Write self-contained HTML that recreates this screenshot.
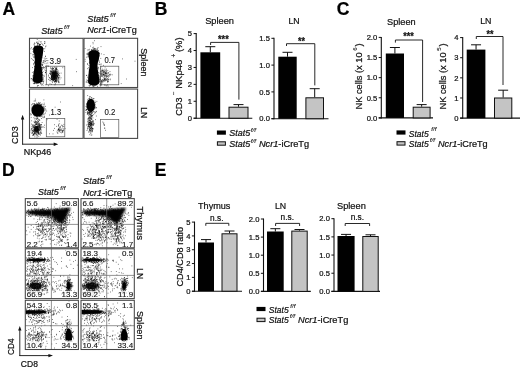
<!DOCTYPE html>
<html lang="en"><head><meta charset="utf-8"><title>Figure</title>
<style>html,body{margin:0;padding:0;background:#fff}body{width:520px;height:369px;overflow:hidden}svg{display:block}</style></head>
<body>
<svg width="520" height="369" viewBox="0 0 520 369">
<defs><filter id="b" x="-30%" y="-30%" width="160%" height="160%"><feGaussianBlur stdDeviation="0.55"/></filter><filter id="s" x="-10%" y="-10%" width="120%" height="120%"><feGaussianBlur stdDeviation="0.28"/></filter><filter id="b2" x="-30%" y="-30%" width="160%" height="160%"><feGaussianBlur stdDeviation="0.9"/></filter></defs>
<rect width="520" height="369" fill="#fff"/>
<g opacity="0.999">
<text x="2.4" y="15" font-size="17.5" font-family="Liberation Sans, sans-serif" fill="#000" stroke="#000" stroke-width="0.22" font-weight="bold">A</text>
<text x="154.8" y="15" font-size="17.5" font-family="Liberation Sans, sans-serif" fill="#000" stroke="#000" stroke-width="0.22" font-weight="bold">B</text>
<text x="336.8" y="15.1" font-size="17.5" font-family="Liberation Sans, sans-serif" fill="#000" stroke="#000" stroke-width="0.22" font-weight="bold">C</text>
<text x="2.1" y="176.4" font-size="17.5" font-family="Liberation Sans, sans-serif" fill="#000" stroke="#000" stroke-width="0.22" font-weight="bold">D</text>
<text x="154.8" y="176.4" font-size="17.5" font-family="Liberation Sans, sans-serif" fill="#000" stroke="#000" stroke-width="0.22" font-weight="bold">E</text>
<text x="41.2" y="34.2" font-size="9.1" font-family="Liberation Sans, sans-serif" fill="#111" stroke="#111" stroke-width="0.22" font-style="italic" textLength="21.3" lengthAdjust="spacingAndGlyphs">Stat5</text>
<text x="64.1" y="29.2" font-size="6.2" font-family="Liberation Sans, sans-serif" fill="#111" stroke="#111" stroke-width="0.1" font-style="italic">f/f</text>
<text x="87.3" y="21.6" font-size="9.1" font-family="Liberation Sans, sans-serif" fill="#111" stroke="#111" stroke-width="0.22" font-style="italic" textLength="21.3" lengthAdjust="spacingAndGlyphs">Stat5</text>
<text x="110.2" y="16.6" font-size="6.2" font-family="Liberation Sans, sans-serif" fill="#111" stroke="#111" stroke-width="0.1" font-style="italic">f/f</text>
<text x="87.3" y="32.8" font-size="9.1" font-family="Liberation Sans, sans-serif" fill="#111" stroke="#111" stroke-width="0.22" textLength="49.4" lengthAdjust="spacingAndGlyphs"><tspan font-style="italic">Ncr1</tspan>-iCreTg</text>
<g filter="url(#s)">
<g filter="url(#b)">
<path d="M33.2 49.5 C32.8 44 43.8 44 43.4 49.5 L42.6 56 C41 60.5 40.8 64.5 41.8 69 L42.8 79.5 C42.8 84.4 32.6 84.4 32.8 79.5 L34.2 69 C35.2 64 35.2 60 34.4 55 Z" fill="#000"/>
</g>
<ellipse cx="54.4" cy="75.6" rx="2.5" ry="4.2" fill="#000" filter="url(#b2)"/>
<path d="M37.4 69.6h0M37.5 60.5h0M35.9 61.7h0M40.6 68.7h0M40.4 66.7h0M38.9 66.0h0M34.2 73.4h0M39.2 69.5h0M34.1 44.8h0M36.0 58.8h0M38.7 63.5h0M39.2 56.9h0M38.7 68.3h0M36.5 82.9h0M39.3 77.2h0M36.6 55.9h0M37.2 62.8h0M39.5 66.7h0M37.0 53.5h0M36.8 77.4h0M36.1 66.7h0M39.0 47.6h0M38.1 78.4h0M33.4 60.5h0M37.8 55.0h0M39.1 63.3h0M34.6 73.1h0M39.5 74.4h0M41.3 68.0h0M38.3 49.7h0M39.4 57.3h0M37.0 50.1h0M35.8 58.2h0M41.0 41.7h0M34.6 66.6h0M41.3 70.4h0M38.8 55.9h0M35.4 74.8h0M40.5 65.7h0M38.6 68.8h0M41.7 70.8h0M39.2 70.0h0M34.4 78.1h0M40.2 69.8h0M33.5 57.0h0M39.9 44.1h0M37.6 75.2h0M35.0 81.7h0M39.3 62.3h0M38.7 71.1h0M38.3 76.6h0M36.5 59.4h0M40.4 64.3h0M36.0 74.4h0M41.4 59.1h0M34.8 62.5h0M37.7 60.7h0M41.2 52.7h0M40.9 50.0h0M36.2 70.9h0M40.6 73.4h0M38.8 65.6h0M38.4 70.3h0M37.6 67.1h0M39.3 64.0h0M39.8 70.2h0M42.6 67.6h0M37.0 59.9h0M38.0 74.2h0M37.2 68.2h0M35.4 66.7h0M38.9 66.6h0M37.0 71.2h0M38.6 58.3h0M43.6 67.9h0M36.7 62.9h0M37.5 63.3h0M31.7 58.6h0M40.3 51.1h0M37.8 74.5h0M40.0 80.4h0M34.1 60.1h0M37.2 70.9h0M40.5 48.1h0M39.6 47.6h0M38.4 77.1h0M37.7 66.1h0M39.8 65.6h0M37.8 80.9h0M40.4 60.8h0M44.3 51.4h0M40.1 61.1h0M38.3 71.8h0M38.5 71.0h0M34.5 47.4h0M39.4 53.4h0M35.6 47.8h0M40.9 72.2h0M41.4 53.7h0M38.0 51.5h0M39.8 81.5h0M36.0 81.2h0M40.3 62.0h0M33.5 79.5h0M37.8 57.4h0M38.9 68.5h0M41.4 52.8h0M40.6 80.4h0M41.3 62.0h0M36.3 75.2h0M38.3 65.4h0M41.3 61.1h0M32.7 59.7h0M33.7 73.0h0M38.7 57.3h0M38.0 73.2h0M38.2 78.6h0M37.9 75.4h0M41.4 81.7h0M36.5 73.7h0M33.7 52.1h0M33.5 75.8h0M35.2 63.9h0M37.6 63.7h0M36.6 66.6h0M42.1 64.5h0M39.2 75.0h0M37.5 50.1h0M36.7 75.8h0M34.2 57.4h0M40.3 72.7h0M38.0 72.9h0M38.4 51.0h0M34.4 57.0h0M40.1 57.8h0M35.9 55.5h0M34.5 62.7h0M35.3 68.0h0M32.6 67.6h0M36.5 42.6h0M39.7 61.0h0M32.9 54.4h0M38.7 59.0h0M39.8 72.2h0M39.5 67.6h0M41.1 71.3h0M39.0 41.1h0M40.1 78.4h0M37.3 58.8h0M42.5 44.7h0M35.9 71.6h0M42.3 62.7h0M39.3 73.9h0M35.9 63.0h0M38.7 73.1h0M37.9 61.9h0M35.7 60.1h0M40.1 65.1h0M36.0 54.7h0M44.1 76.5h0M39.4 69.3h0M41.9 68.7h0M37.8 69.7h0M33.5 75.4h0M38.7 56.3h0M41.0 83.9h0M34.8 56.7h0M38.7 66.0h0M37.1 53.3h0M42.9 75.4h0M35.3 49.2h0M41.9 74.9h0M42.2 72.9h0M36.0 66.9h0M33.0 55.8h0M37.9 69.8h0M36.3 62.6h0M39.1 68.1h0M39.5 66.3h0M37.3 72.7h0M38.1 54.9h0M36.6 64.0h0M37.7 65.7h0M38.0 65.9h0M37.7 50.2h0M39.0 75.6h0M39.0 61.9h0M39.0 53.4h0M33.6 64.7h0M35.9 72.1h0M35.6 81.4h0M37.1 48.9h0M36.2 69.7h0M39.1 65.9h0M41.4 71.8h0M38.0 70.6h0M41.8 74.7h0M40.4 52.1h0M37.7 72.0h0M37.3 75.8h0M39.4 74.0h0M40.9 61.6h0M37.2 73.6h0M40.3 64.1h0M35.3 66.1h0M38.8 76.4h0M39.8 64.3h0M40.0 69.9h0M38.5 64.6h0M37.4 71.5h0M35.6 57.1h0M38.0 47.9h0M37.0 41.9h0M36.4 70.3h0M39.3 63.4h0M37.5 48.4h0M42.2 69.7h0M40.5 54.3h0M37.6 44.0h0M39.8 74.3h0M33.6 63.4h0M39.4 44.6h0M33.8 52.3h0M36.6 48.6h0M38.1 66.7h0M39.5 71.7h0M41.5 76.8h0M35.0 58.4h0M35.6 52.2h0M37.8 64.1h0M39.1 46.5h0M35.2 63.7h0M37.5 60.6h0M37.9 55.6h0M39.6 67.9h0M37.8 56.6h0M35.7 64.4h0M34.5 66.2h0M38.3 48.8h0M37.4 60.5h0M39.1 70.7h0M37.9 54.6h0M37.7 63.3h0M39.7 67.2h0M36.3 49.1h0M37.1 55.9h0M35.4 62.7h0M36.9 65.2h0M39.2 59.5h0M43.3 60.5h0M40.5 65.3h0M36.3 66.7h0M38.7 78.1h0M39.8 74.4h0M39.2 62.3h0M39.2 52.1h0M40.7 52.8h0M37.5 64.2h0M40.7 64.3h0M36.1 66.8h0M39.3 71.8h0M36.2 83.3h0M41.8 64.2h0M38.6 59.3h0M41.3 56.2h0M39.6 58.7h0M36.4 71.9h0M41.1 63.9h0M36.4 72.9h0M37.9 67.4h0M41.5 76.4h0M38.0 72.6h0M36.5 63.5h0M34.0 83.7h0M41.1 50.6h0M34.5 46.2h0M40.7 58.9h0M37.9 60.6h0M37.7 52.0h0M38.1 48.2h0M37.8 67.4h0M39.1 61.5h0M35.9 65.8h0M36.9 81.2h0M39.8 62.7h0M36.9 56.3h0M35.8 60.1h0M38.7 69.7h0M36.4 64.1h0M44.4 43.5h0M36.8 65.9h0M38.4 68.5h0M37.5 68.0h0M38.1 72.5h0M33.6 54.3h0M38.0 52.6h0M35.6 70.9h0M36.5 71.0h0M39.7 67.4h0M39.2 62.8h0M34.8 63.7h0M39.0 58.2h0M37.8 72.2h0M36.0 71.0h0M42.3 57.9h0M38.3 62.3h0M41.5 67.5h0M40.1 56.4h0M38.0 63.9h0M33.9 79.8h0M40.1 44.8h0M39.7 62.6h0M39.0 68.0h0M34.6 61.7h0M41.4 57.7h0M35.6 49.0h0M35.2 67.7h0M41.9 68.7h0M36.8 56.6h0M39.2 70.0h0M35.7 51.1h0M38.7 66.7h0M35.0 61.8h0M36.8 69.1h0M37.7 63.1h0M37.2 75.6h0M41.2 60.0h0M39.9 55.7h0M38.2 72.2h0M41.5 59.8h0M38.1 49.0h0M33.8 48.5h0M36.3 49.5h0M34.9 43.4h0M38.4 49.2h0M36.7 50.8h0M37.5 46.9h0M39.7 44.4h0M36.3 48.4h0M40.8 48.1h0M39.2 46.8h0M39.2 52.8h0M36.2 54.7h0M36.4 48.5h0M38.8 51.2h0M34.6 43.0h0M40.1 50.6h0M40.2 55.3h0M38.9 49.2h0M41.1 49.5h0M43.3 45.3h0M37.2 39.5h0M40.7 47.5h0M41.1 54.1h0M38.3 47.8h0M36.8 46.3h0M36.4 50.2h0M38.4 48.7h0M37.8 50.9h0M39.8 48.1h0M40.3 48.1h0M34.8 52.3h0M39.7 46.0h0M41.5 49.4h0M33.6 52.7h0M39.3 50.8h0M38.9 48.1h0M33.7 51.0h0M38.4 47.8h0M39.4 48.7h0M40.3 47.5h0M38.2 42.9h0M37.0 50.3h0M42.3 47.6h0M37.9 52.6h0M37.3 50.4h0M43.3 48.6h0M42.0 46.7h0M38.9 48.3h0M38.6 51.4h0M45.5 46.8h0M36.6 49.8h0M35.1 49.8h0M40.0 47.8h0M39.9 44.5h0M40.6 44.5h0M36.2 47.1h0M37.1 50.7h0M38.5 47.5h0M39.9 52.6h0M38.3 49.5h0M42.0 49.2h0M34.4 55.0h0M44.9 43.3h0M38.2 49.6h0M41.2 50.2h0M37.5 45.8h0M38.6 51.2h0M35.0 45.8h0M38.2 43.5h0M37.5 47.4h0M39.7 46.7h0M35.7 47.5h0M38.2 46.8h0M38.3 50.5h0M41.9 52.9h0M35.9 47.4h0M30.9 53.4h0M36.1 48.4h0M39.9 45.0h0M39.7 48.4h0M32.8 49.3h0M41.9 43.6h0M40.7 49.0h0M39.7 49.6h0M42.2 47.9h0M40.9 47.4h0M40.5 46.4h0M38.0 53.0h0M39.6 48.1h0M34.9 46.4h0M38.9 50.9h0M39.6 49.9h0M38.2 52.0h0M37.1 47.1h0M41.0 48.7h0M37.5 47.0h0M37.5 50.1h0M39.4 45.4h0M39.6 49.0h0M35.3 50.5h0M37.5 47.6h0M40.7 51.9h0M36.2 49.6h0M35.7 54.5h0M36.8 51.6h0M36.4 50.6h0M45.0 41.9h0M37.0 49.8h0M38.0 46.8h0M44.8 48.7h0M33.4 50.7h0M33.1 51.5h0M36.6 48.9h0M42.1 48.8h0M34.1 44.1h0M41.8 50.4h0M35.9 50.7h0M39.8 50.2h0M31.5 47.7h0M41.0 50.4h0M40.9 42.1h0M38.8 49.8h0M46.0 46.0h0M37.3 48.6h0M41.0 47.3h0M41.7 46.5h0M39.1 47.1h0M38.8 46.7h0M33.5 51.3h0M39.2 47.0h0M38.9 51.1h0M35.4 48.2h0M39.9 49.9h0M37.3 43.0h0M42.0 49.4h0M38.3 47.8h0M39.1 47.4h0M35.2 46.6h0M36.5 46.9h0M34.8 50.2h0M34.4 50.2h0M35.3 49.4h0M42.4 49.0h0M36.1 48.6h0M38.7 44.0h0M36.5 48.9h0M36.9 48.7h0M40.5 50.5h0M41.0 50.0h0M37.4 48.5h0M37.5 47.7h0M37.8 44.0h0M37.3 48.4h0M35.4 48.4h0M39.8 48.1h0M44.5 41.7h0M37.7 43.8h0M41.2 55.4h0M30.8 48.8h0M39.4 78.1h0M39.5 72.3h0M40.4 80.1h0M37.9 77.2h0M39.7 77.5h0M38.5 77.5h0M31.1 78.9h0M38.4 81.3h0M35.2 78.9h0M39.7 79.4h0M41.5 85.0h0M35.1 73.2h0M40.4 83.6h0M40.6 81.4h0M35.9 76.9h0M40.5 76.3h0M32.4 76.0h0M45.3 84.8h0M35.7 76.8h0M38.5 76.8h0M41.7 78.8h0M34.5 82.9h0M36.1 79.7h0M37.8 78.1h0M38.8 76.9h0M32.3 72.4h0M34.0 76.7h0M37.7 79.2h0M39.5 79.4h0M35.4 76.9h0M31.4 78.5h0M39.3 80.6h0M37.4 78.5h0M40.6 79.0h0M40.0 80.7h0M38.4 82.9h0M36.1 77.9h0M35.4 76.6h0M42.5 84.3h0M37.9 80.7h0M41.3 81.4h0M41.4 75.2h0M35.9 80.4h0M42.1 79.3h0M35.2 77.9h0M35.8 76.4h0M42.3 77.1h0M37.9 85.5h0M41.4 80.0h0M36.0 80.2h0M42.7 80.9h0M41.6 79.3h0M39.3 78.4h0M39.1 82.9h0M33.5 78.8h0M38.5 77.3h0M36.9 81.4h0M43.8 80.9h0M38.8 74.3h0M43.6 79.2h0M37.7 75.6h0M37.6 75.7h0M38.0 80.4h0M37.9 79.8h0M35.2 83.3h0M35.8 73.5h0M37.2 76.7h0M34.8 77.9h0M38.7 75.5h0M37.4 83.3h0M39.8 78.5h0M38.2 78.6h0M37.7 81.2h0M37.5 71.8h0M37.7 76.3h0M39.8 77.2h0M38.2 85.5h0M34.7 75.6h0M33.6 71.8h0M32.2 80.1h0M35.9 73.4h0M33.4 80.9h0M35.5 77.9h0M38.8 83.1h0M43.6 82.1h0M38.2 79.6h0M43.2 83.3h0M36.9 80.4h0M38.7 79.2h0M36.3 75.0h0M36.2 74.4h0M41.5 80.6h0M34.2 83.2h0M40.5 73.3h0M43.3 81.4h0M44.0 75.3h0M39.4 80.3h0M38.4 79.5h0M41.0 74.5h0M34.1 74.8h0M36.1 77.2h0M38.9 79.8h0M37.9 77.0h0M36.5 81.9h0M40.1 79.3h0M36.8 83.7h0M36.0 80.9h0M41.3 78.2h0M40.3 75.7h0M40.8 79.6h0M33.0 81.0h0M35.1 82.8h0M35.8 78.5h0M38.6 78.0h0M38.6 77.3h0M39.8 79.0h0M38.4 70.7h0M41.3 79.1h0M32.5 79.3h0M39.2 82.2h0M34.6 83.6h0M37.3 86.2h0M37.4 81.0h0M36.7 75.7h0M41.1 81.7h0M42.4 81.6h0M36.1 74.0h0M35.8 77.0h0M35.4 80.7h0M38.8 78.2h0M38.3 78.6h0M38.4 81.3h0M40.7 76.9h0M33.3 83.3h0M38.1 82.3h0M32.9 78.0h0M37.9 74.7h0M36.3 81.2h0M41.0 83.8h0M35.2 74.8h0M55.5 78.9h0M54.8 70.8h0M56.1 78.4h0M55.6 73.7h0M55.1 78.3h0M53.2 68.9h0M55.1 77.2h0M54.4 78.7h0M53.1 75.2h0M53.7 77.6h0M57.9 74.6h0M58.9 81.0h0M56.1 77.6h0M58.3 74.9h0M54.2 71.7h0M55.4 80.3h0M55.6 77.0h0M54.0 76.1h0M51.3 79.3h0M53.5 71.5h0M52.7 72.5h0M56.3 79.3h0M51.4 78.8h0M56.4 73.4h0M51.1 72.8h0M53.0 76.7h0M53.6 68.2h0M54.9 70.0h0M56.4 71.2h0M52.9 72.4h0M53.2 80.2h0M56.3 77.7h0M55.1 69.9h0M53.3 73.5h0M52.2 77.3h0M52.8 72.9h0M52.1 68.1h0M55.7 80.3h0M54.8 72.0h0M48.4 76.1h0M57.1 76.6h0M56.4 80.8h0M56.9 73.9h0M56.7 78.3h0M51.0 74.0h0M51.3 75.1h0M55.7 71.7h0M49.9 80.2h0M55.2 80.8h0M51.5 79.3h0M59.0 82.7h0M53.9 76.5h0M54.1 79.1h0M56.7 75.8h0M51.4 78.2h0M53.4 77.8h0M55.0 81.3h0M56.9 73.9h0M55.2 81.9h0M53.2 77.1h0M57.0 80.0h0M55.5 70.7h0M51.6 76.4h0M55.3 84.7h0M52.5 79.6h0M56.1 69.5h0M52.6 76.1h0M53.3 74.9h0M55.4 72.6h0M55.4 73.2h0M53.2 77.4h0M53.1 76.5h0M57.9 75.6h0M54.1 78.1h0M53.6 79.4h0M51.6 77.7h0M53.3 72.6h0M58.3 72.4h0M58.3 77.9h0M57.6 72.0h0M57.0 80.7h0M54.1 75.0h0M59.8 76.1h0M53.5 73.2h0M55.4 76.7h0M54.8 81.7h0M53.7 77.2h0M57.6 71.9h0M56.7 82.1h0M51.4 71.5h0M52.1 68.9h0M55.4 68.8h0M55.5 80.7h0M50.8 74.4h0M50.2 78.3h0M52.8 74.5h0M54.5 77.5h0M53.6 75.6h0M53.2 75.9h0M51.8 75.7h0M50.1 73.7h0M58.6 75.8h0M51.6 76.4h0M52.3 69.6h0M52.8 78.2h0M55.2 75.2h0M52.4 71.6h0M57.4 76.4h0M52.3 67.9h0M51.4 84.4h0M51.9 75.2h0M54.9 74.9h0M53.8 70.6h0M52.1 81.6h0M52.7 78.5h0M50.7 74.5h0M55.0 79.2h0M51.9 77.6h0M55.2 72.8h0M55.4 72.3h0M52.6 75.4h0M48.4 75.1h0M52.2 70.2h0M53.5 78.2h0M53.5 80.1h0M51.8 70.8h0M57.8 76.9h0M56.5 72.5h0M56.2 76.4h0M55.8 75.6h0M57.1 73.2h0M52.3 70.2h0M57.0 72.8h0M52.1 72.1h0M53.4 70.9h0M53.8 73.2h0M53.2 72.0h0M54.5 73.8h0M54.7 76.4h0M55.1 67.6h0M53.2 72.6h0M56.1 69.8h0M52.8 74.4h0M53.7 79.1h0M53.4 79.0h0M51.2 69.0h0M57.1 77.1h0M55.5 75.9h0M55.5 71.1h0M56.5 73.6h0M56.6 75.8h0M50.1 70.9h0M56.9 75.0h0M53.5 76.4h0M53.5 73.5h0M54.6 76.0h0M57.7 75.7h0M58.5 82.0h0M58.2 79.3h0M54.7 76.0h0M54.1 72.9h0M54.3 73.2h0M58.0 77.4h0M53.4 68.6h0M54.3 74.0h0M52.0 71.4h0M49.4 77.5h0M54.3 84.8h0M54.3 75.0h0M57.6 76.0h0M54.8 74.2h0M53.1 80.9h0M56.6 81.7h0M53.6 75.6h0M52.5 79.0h0M51.3 77.5h0M56.8 80.6h0M52.3 79.4h0M52.8 72.8h0M51.5 79.7h0M58.0 73.4h0M52.7 74.3h0M59.9 79.1h0M53.2 69.0h0M52.9 79.8h0M58.5 74.5h0M52.9 73.7h0M50.3 78.8h0M52.0 79.3h0M50.6 70.9h0M55.0 72.8h0M56.1 75.5h0M51.8 77.7h0M56.3 68.6h0M58.4 77.3h0M56.1 68.8h0M52.8 74.2h0M56.8 70.2h0M52.5 68.2h0M53.9 76.7h0M50.7 73.4h0M55.5 81.2h0M55.9 74.4h0M51.8 72.1h0M52.9 76.0h0M54.3 81.5h0M55.0 71.6h0M57.8 78.9h0M54.6 72.9h0M50.3 71.8h0M56.4 72.6h0M51.5 76.2h0M54.9 77.7h0M55.8 80.6h0M52.6 79.0h0M52.2 78.0h0M54.8 76.4h0M56.5 75.4h0M56.8 78.7h0M54.7 73.5h0M52.7 73.6h0M54.0 75.4h0M61.0 77.8h0M56.1 72.4h0M52.8 74.4h0M54.8 71.8h0M57.9 73.5h0M56.8 67.1h0M54.4 76.5h0M54.8 77.7h0M55.0 76.1h0M50.2 72.9h0M49.2 77.8h0M55.1 74.8h0M52.6 73.4h0M58.5 81.7h0M54.3 80.1h0M50.9 68.5h0M53.3 72.4h0M53.2 76.2h0M61.1 73.1h0M54.5 76.5h0M54.3 78.9h0M58.3 71.0h0M54.8 74.5h0M55.2 70.0h0M50.5 67.2h0M55.6 76.2h0M54.6 67.0h0M53.6 72.8h0M51.3 72.2h0M55.9 77.5h0M54.4 77.4h0M53.1 75.8h0M54.5 77.5h0M54.2 75.0h0M54.1 73.2h0M59.3 77.4h0M55.3 83.7h0M57.5 69.9h0M55.9 78.5h0M58.5 80.2h0M56.1 71.3h0M52.5 76.5h0M55.5 71.8h0M53.6 74.1h0M54.5 76.7h0M53.8 71.0h0M57.1 81.2h0M54.2 79.2h0M55.4 77.9h0M55.5 72.8h0M55.7 79.1h0M52.4 82.6h0M59.0 82.1h0M58.8 78.2h0M53.7 73.3h0M52.6 75.9h0M54.3 77.9h0M50.0 83.8h0M59.4 75.4h0M55.9 77.2h0M55.0 74.7h0M54.1 72.5h0M54.8 75.4h0M55.1 72.4h0M54.5 75.7h0M55.7 71.7h0M55.3 79.0h0M55.7 74.2h0M53.3 74.6h0M56.0 81.1h0M54.1 73.2h0M55.2 76.2h0M52.4 72.8h0M54.2 77.9h0M51.8 71.8h0M55.5 71.1h0M54.6 76.8h0M54.2 71.8h0M54.3 74.3h0M55.1 72.5h0M56.8 69.5h0M54.0 75.5h0M56.5 73.3h0M55.6 73.5h0M56.0 81.8h0M53.5 77.1h0M52.4 79.0h0M57.1 75.6h0M51.9 76.9h0M56.9 79.4h0M56.2 68.9h0M52.9 80.6h0M51.7 79.6h0M58.5 78.2h0M56.9 74.3h0M51.7 75.1h0M54.0 75.3h0M55.9 75.0h0M54.8 77.0h0M54.4 82.1h0M55.4 75.8h0M53.9 73.2h0M57.4 76.0h0M52.0 73.5h0M54.1 73.9h0M56.8 71.3h0M55.5 76.0h0M51.8 75.7h0M54.2 77.3h0M53.4 76.6h0M50.7 71.6h0M56.1 79.2h0M54.4 73.3h0M56.8 68.0h0M52.6 77.9h0M55.8 71.8h0M50.2 80.7h0M54.7 72.3h0M54.5 78.7h0M48.7 79.5h0M56.0 68.0h0M56.1 69.1h0M56.9 76.9h0M59.4 73.3h0M54.4 79.3h0M53.0 73.0h0M53.6 75.2h0M52.0 77.2h0M55.6 75.8h0M58.1 74.3h0M57.3 73.5h0M56.1 68.5h0M54.8 74.9h0M53.3 73.3h0M53.6 72.9h0M49.6 73.4h0M53.2 73.6h0M52.1 75.0h0M56.1 74.6h0M53.3 80.4h0M56.5 78.8h0M56.9 74.3h0M54.1 79.5h0M53.2 75.1h0M55.2 76.8h0M53.8 79.0h0M54.0 78.1h0M56.8 77.9h0M56.0 71.3h0M51.5 73.3h0M55.4 80.9h0M51.7 76.6h0M52.5 72.9h0M53.8 78.0h0M54.9 79.7h0M52.2 78.7h0M56.4 75.8h0M55.4 73.5h0M42.1 65.6h0M43.1 85.3h0M43.4 77.9h0M44.9 69.9h0M46.1 63.3h0M46.5 70.3h0M41.2 71.6h0M45.7 70.7h0M48.0 65.5h0M45.6 72.5h0M42.5 75.2h0M41.3 60.2h0M45.6 61.5h0M44.2 58.1h0M44.7 61.2h0M45.3 58.8h0M45.5 66.4h0M44.6 67.6h0M44.8 60.1h0M38.9 68.2h0M42.4 65.3h0M45.4 56.1h0M42.8 64.3h0M42.2 70.0h0M44.2 63.1h0M42.3 72.8h0M43.0 71.5h0M45.5 56.6h0M42.1 68.0h0M45.3 72.7h0M46.3 74.2h0M43.7 66.7h0M46.2 65.4h0M46.8 58.5h0M45.9 67.0h0M40.2 73.9h0M45.2 68.1h0M42.1 65.2h0M47.8 63.0h0M36.9 62.9h0M41.9 67.2h0M43.6 62.5h0M42.6 74.3h0M41.3 79.7h0M43.3 61.4h0M46.2 71.4h0M42.2 72.5h0M40.5 62.5h0M47.0 66.5h0M41.6 71.1h0M46.5 67.9h0M40.5 65.9h0M45.4 72.6h0M48.6 66.5h0M43.4 67.8h0M76.5 71.7h0M72.7 85.6h0M76.2 59.4h0M38.1 53.3h0M56.6 63.2h0M39.8 48.4h0M62.8 67.7h0M48.4 85.7h0" stroke="#000" stroke-width="0.62" stroke-linecap="round" fill="none" opacity="1"/>
</g>
<rect x="46.3" y="66.2" width="18.5" height="18.6" fill="none" stroke="#555" stroke-width="0.7"/>
<text x="49.6" y="63.6" font-size="8.5" font-family="Liberation Sans, sans-serif" fill="#111" stroke="#111" stroke-width="0.1" textLength="11.4" lengthAdjust="spacingAndGlyphs">3.9</text>
<line x1="45.6" y1="60.6" x2="48.4" y2="60.6" stroke="#444" stroke-width="0.6"/>
<g filter="url(#s)">
<g filter="url(#b)">
<path d="M88.3 54.5 C88 48.8 100 48.8 99.6 54.5 L98.6 60.5 C97 64 97 67 98 71 L99.6 81.5 C99.6 86.8 88 86.8 88 81.5 L88.8 71 C89.8 67 89.8 63 89 59 Z" fill="#000"/>
</g>
<path d="M93.1 65.8h0M89.9 77.3h0M92.3 82.4h0M95.7 68.2h0M95.4 56.9h0M92.8 62.2h0M90.4 68.2h0M93.2 82.4h0M85.2 61.3h0M91.3 63.4h0M94.7 72.0h0M93.7 63.3h0M94.8 71.6h0M89.0 65.4h0M90.2 56.2h0M94.0 68.6h0M93.9 59.2h0M93.1 58.9h0M94.6 74.9h0M98.0 80.7h0M91.6 63.4h0M91.3 71.1h0M98.6 75.1h0M88.1 55.4h0M90.4 73.2h0M93.6 71.0h0M98.1 59.7h0M94.5 60.2h0M88.5 52.8h0M87.5 68.7h0M93.7 77.9h0M93.3 61.1h0M89.2 69.7h0M93.7 74.2h0M92.6 73.0h0M95.6 66.5h0M92.5 66.1h0M91.2 65.9h0M92.8 70.1h0M96.9 81.1h0M92.5 74.0h0M94.3 75.6h0M93.7 70.7h0M92.4 60.2h0M95.8 81.0h0M95.3 72.4h0M94.3 63.5h0M89.1 74.6h0M94.1 62.5h0M91.2 80.8h0M89.1 85.6h0M91.8 67.8h0M92.3 69.6h0M93.1 60.5h0M96.3 60.2h0M92.3 73.5h0M92.3 63.7h0M94.5 64.3h0M90.5 67.0h0M93.1 85.0h0M90.9 77.7h0M91.6 64.4h0M92.8 70.7h0M95.8 85.5h0M92.0 81.3h0M96.1 76.1h0M91.7 77.0h0M93.3 71.5h0M92.9 74.6h0M96.4 79.3h0M93.1 78.0h0M97.2 58.6h0M97.3 54.6h0M95.0 73.9h0M97.3 70.8h0M92.4 60.0h0M90.5 75.7h0M93.0 60.8h0M94.9 60.4h0M92.5 63.4h0M97.7 82.6h0M93.2 52.3h0M94.3 68.7h0M94.5 73.7h0M92.8 77.3h0M95.7 70.1h0M92.6 63.2h0M95.3 57.0h0M93.2 60.5h0M90.1 74.0h0M93.5 68.4h0M95.8 53.1h0M93.4 70.9h0M95.7 57.2h0M95.4 70.2h0M97.0 79.4h0M93.6 63.8h0M92.7 58.6h0M93.5 49.2h0M93.4 72.3h0M96.1 64.5h0M97.1 61.5h0M93.3 49.2h0M91.7 60.1h0M97.2 73.2h0M90.9 73.2h0M94.8 65.7h0M93.7 65.0h0M92.3 50.7h0M93.4 80.5h0M97.1 65.3h0M91.8 65.9h0M95.8 71.4h0M92.2 71.5h0M93.1 73.0h0M92.6 53.6h0M93.7 75.4h0M90.9 67.0h0M95.7 64.3h0M95.6 78.0h0M91.3 83.9h0M89.6 63.0h0M95.4 81.0h0M91.3 61.5h0M94.1 49.2h0M95.2 73.4h0M92.5 73.2h0M95.5 71.0h0M94.9 82.7h0M92.4 69.6h0M92.3 78.0h0M92.6 72.6h0M93.9 68.6h0M97.8 67.2h0M97.0 76.0h0M96.8 66.4h0M95.8 75.3h0M92.1 70.6h0M93.3 67.7h0M96.7 61.0h0M89.5 51.2h0M92.5 61.8h0M93.6 73.5h0M97.8 71.0h0M94.7 60.9h0M95.0 81.1h0M96.8 49.2h0M95.7 83.3h0M95.6 53.6h0M92.9 73.7h0M94.6 60.2h0M91.5 77.3h0M90.4 81.8h0M93.6 70.9h0M90.4 62.3h0M95.3 53.8h0M98.6 54.5h0M90.7 68.4h0M94.8 75.1h0M92.7 66.0h0M93.0 62.5h0M87.4 77.2h0M94.2 69.5h0M92.1 70.4h0M93.6 67.3h0M96.3 51.5h0M94.2 57.8h0M92.8 82.4h0M91.0 67.0h0M92.2 77.1h0M91.2 51.8h0M94.8 64.6h0M92.8 78.4h0M91.5 64.4h0M94.0 72.0h0M92.4 77.9h0M99.0 64.1h0M98.1 47.7h0M97.0 64.7h0M93.9 64.7h0M92.1 55.7h0M92.7 80.4h0M96.3 64.7h0M92.3 61.3h0M90.7 85.3h0M95.2 69.1h0M92.4 58.2h0M96.8 75.5h0M91.3 77.5h0M90.9 74.2h0M91.3 64.0h0M94.8 72.2h0M96.0 60.0h0M97.4 80.9h0M93.6 72.5h0M91.7 66.5h0M90.4 68.9h0M94.1 80.9h0M95.9 75.8h0M92.7 65.8h0M92.8 70.1h0M89.0 75.4h0M89.8 63.1h0M93.7 63.1h0M97.6 67.1h0M97.4 79.3h0M92.4 71.8h0M96.7 64.8h0M93.8 62.6h0M93.7 64.6h0M93.8 77.6h0M96.9 69.3h0M94.1 76.2h0M92.9 57.8h0M96.3 59.0h0M95.8 58.7h0M98.0 58.0h0M95.6 82.4h0M91.3 82.3h0M91.6 51.1h0M95.3 74.7h0M93.1 43.8h0M93.5 65.1h0M92.7 65.2h0M89.3 62.6h0M97.9 82.8h0M92.7 61.2h0M94.6 78.2h0M95.3 56.8h0M94.0 69.3h0M97.1 79.5h0M94.9 79.7h0M92.7 82.8h0M92.6 71.8h0M95.8 59.2h0M91.9 51.1h0M94.0 67.5h0M92.8 72.8h0M88.5 67.8h0M93.8 65.4h0M95.5 84.8h0M92.5 59.0h0M92.1 68.9h0M95.0 59.7h0M96.0 58.2h0M95.6 72.1h0M93.0 66.4h0M94.7 76.3h0M90.4 70.6h0M91.8 74.1h0M96.9 68.5h0M93.3 69.8h0M86.5 75.4h0M94.9 69.6h0M92.6 61.0h0M93.2 79.6h0M93.4 80.9h0M87.4 63.6h0M94.3 67.9h0M89.6 61.6h0M96.6 55.6h0M91.2 57.5h0M92.3 74.2h0M95.0 48.5h0M97.1 62.3h0M92.2 84.0h0M93.4 56.1h0M92.1 61.0h0M91.2 64.8h0M95.7 71.4h0M91.2 69.1h0M93.7 75.3h0M92.8 72.4h0M98.7 68.9h0M91.0 71.2h0M91.7 64.4h0M94.1 71.2h0M92.9 76.1h0M93.1 55.5h0M95.7 64.5h0M96.5 61.7h0M95.0 71.0h0M87.1 53.7h0M90.9 81.5h0M89.1 76.8h0M96.2 72.8h0M95.2 63.2h0M93.6 70.2h0M94.6 74.8h0M93.1 61.3h0M92.3 71.9h0M89.6 56.0h0M92.6 62.7h0M93.0 42.4h0M92.8 65.6h0M95.5 49.0h0M92.9 72.6h0M94.8 79.5h0M96.1 57.9h0M95.1 64.8h0M91.7 82.7h0M92.1 59.8h0M92.6 59.8h0M96.0 71.7h0M97.0 72.0h0M92.1 78.1h0M92.0 63.6h0M93.2 68.4h0M96.5 62.2h0M94.4 67.7h0M90.6 57.5h0M93.1 71.9h0M94.4 72.6h0M93.7 63.7h0M94.6 58.3h0M90.4 64.8h0M90.2 63.0h0M91.8 62.7h0M93.5 60.3h0M92.6 51.5h0M93.9 59.5h0M94.6 40.7h0M91.7 70.3h0M87.7 64.5h0M93.8 69.0h0M90.0 70.2h0M94.0 58.6h0M95.4 67.5h0M93.6 63.7h0M94.9 68.9h0M97.6 54.7h0M92.0 52.9h0M96.9 52.5h0M95.2 54.9h0M93.4 47.2h0M94.4 54.1h0M94.4 51.4h0M97.9 53.1h0M92.0 51.6h0M95.1 50.5h0M90.8 58.9h0M98.2 56.4h0M98.4 55.1h0M88.6 56.7h0M98.0 54.8h0M87.8 56.9h0M98.4 52.2h0M94.4 55.6h0M93.7 56.5h0M94.3 55.4h0M94.3 49.5h0M90.8 62.1h0M94.9 57.1h0M97.6 58.2h0M95.8 51.9h0M94.1 48.3h0M93.4 56.0h0M87.1 54.0h0M96.6 57.1h0M91.0 51.7h0M88.0 50.7h0M95.7 59.1h0M90.3 57.2h0M95.4 52.2h0M101.0 46.6h0M93.8 54.1h0M100.8 58.4h0M101.3 53.9h0M97.1 57.2h0M95.6 54.5h0M93.4 52.4h0M90.1 58.8h0M92.6 47.8h0M94.8 53.4h0M94.6 58.4h0M93.7 52.8h0M91.6 53.4h0M92.6 54.1h0M104.0 54.6h0M91.3 58.8h0M96.8 55.7h0M96.3 55.7h0M96.2 57.3h0M97.2 57.2h0M92.4 53.5h0M91.7 56.1h0M96.7 52.2h0M95.9 60.7h0M98.0 50.5h0M93.7 55.2h0M93.9 54.6h0M97.8 54.4h0M90.5 55.4h0M93.7 53.8h0M92.2 49.7h0M90.0 52.5h0M90.6 46.1h0M97.7 50.3h0M91.7 54.9h0M86.3 57.2h0M91.5 55.3h0M92.5 54.3h0M94.3 53.5h0M88.1 49.5h0M93.9 57.3h0M92.2 55.0h0M94.5 54.8h0M97.2 49.4h0M94.9 53.0h0M93.0 51.2h0M91.5 50.7h0M90.5 60.3h0M99.5 53.5h0M96.4 50.8h0M85.1 48.5h0M94.5 57.4h0M93.9 50.8h0M93.2 50.8h0M89.5 52.9h0M92.7 51.3h0M91.2 51.0h0M94.8 57.3h0M93.3 59.6h0M88.8 54.2h0M90.3 53.1h0M94.3 55.0h0M97.6 52.0h0M90.0 53.0h0M94.9 51.6h0M96.9 58.1h0M89.4 54.5h0M97.3 48.3h0M94.7 52.9h0M89.4 57.1h0M94.7 52.2h0M95.4 55.3h0M96.5 55.1h0M95.3 50.3h0M92.6 53.9h0M85.1 59.3h0M92.8 50.6h0M88.1 54.2h0M94.1 51.9h0M92.7 51.1h0M91.6 53.2h0M91.9 55.4h0M93.5 53.9h0M95.3 57.0h0M95.9 54.1h0M93.5 51.3h0M92.9 55.4h0M94.7 52.4h0M89.7 49.3h0M95.0 56.3h0M95.2 49.8h0M93.3 54.1h0M91.0 54.4h0M93.4 51.2h0M90.0 55.7h0M95.1 51.1h0M90.7 55.9h0M95.9 52.7h0M99.1 52.7h0M90.6 56.5h0M93.4 54.4h0M94.1 50.8h0M90.2 53.0h0M98.5 50.8h0M98.4 54.1h0M90.4 54.2h0M95.8 51.0h0M87.2 54.5h0M90.4 54.7h0M87.9 53.1h0M91.4 49.5h0M93.2 54.0h0M92.2 50.3h0M94.7 48.7h0M95.7 54.8h0M99.4 55.9h0M94.9 80.8h0M93.9 76.1h0M98.5 81.5h0M92.9 76.7h0M98.6 81.6h0M90.0 82.0h0M99.9 79.9h0M95.1 78.8h0M91.8 83.1h0M103.7 80.3h0M93.4 82.3h0M92.8 82.1h0M96.5 77.0h0M90.4 79.8h0M96.5 80.8h0M97.8 76.0h0M95.4 78.2h0M94.1 80.9h0M90.7 79.3h0M90.1 80.8h0M91.1 78.6h0M94.5 78.1h0M97.5 78.1h0M96.5 80.8h0M90.5 79.4h0M91.1 78.9h0M92.9 85.3h0M92.5 84.6h0M95.2 76.2h0M86.4 82.0h0M87.4 82.1h0M97.1 81.1h0M93.1 79.3h0M94.6 79.1h0M92.1 78.9h0M97.5 78.2h0M95.0 76.7h0M91.5 76.0h0M93.2 82.0h0M94.8 78.6h0M95.8 79.0h0M95.0 80.8h0M95.5 72.8h0M89.6 82.2h0M93.5 86.5h0M93.0 78.4h0M98.6 81.6h0M99.9 81.5h0M93.1 82.1h0M91.3 78.7h0M92.0 79.4h0M96.3 78.6h0M94.8 78.6h0M96.6 72.0h0M93.1 80.5h0M90.4 82.9h0M94.5 83.7h0M96.9 81.9h0M93.3 76.8h0M93.1 78.7h0M94.6 78.7h0M103.5 75.4h0M97.5 78.6h0M93.0 82.7h0M93.8 76.5h0M95.1 79.4h0M87.2 80.6h0M90.4 77.8h0M95.3 80.9h0M92.9 86.3h0M95.1 78.2h0M94.6 79.6h0M86.8 75.4h0M89.4 86.0h0M93.2 79.2h0M92.0 82.8h0M93.9 84.9h0M96.3 84.8h0M93.4 81.1h0M92.4 79.5h0M88.3 78.3h0M90.8 78.1h0M97.7 80.8h0M97.7 82.5h0M96.7 82.9h0M91.9 82.3h0M92.8 78.5h0M97.6 86.3h0M90.7 85.0h0M96.4 77.5h0M94.7 81.1h0M95.0 79.0h0M89.7 80.1h0M96.5 82.3h0M95.9 83.2h0M90.6 79.9h0M94.9 82.9h0M94.3 81.5h0M94.2 86.1h0M86.9 79.9h0M101.7 80.7h0M88.0 80.4h0M89.2 78.0h0M94.5 85.0h0M95.3 81.9h0M97.0 80.6h0M91.1 79.7h0M94.9 79.2h0M91.7 79.0h0M89.0 77.0h0M93.5 79.0h0M93.9 84.1h0M94.8 79.9h0M90.1 76.9h0M95.0 77.5h0M95.2 76.9h0M94.2 79.8h0M97.0 78.9h0M92.6 80.7h0M94.0 84.9h0M93.0 78.5h0M92.8 81.4h0M94.5 82.0h0M99.6 79.9h0M90.0 80.4h0M95.1 73.6h0M93.8 75.7h0M95.3 84.0h0M97.1 75.7h0M98.2 82.6h0M92.7 81.4h0M98.6 79.0h0M93.8 78.4h0M97.5 73.8h0M98.3 77.2h0M96.7 75.3h0M90.8 78.3h0M96.4 75.3h0M95.7 78.2h0M97.7 79.1h0M106.5 76.3h0M110.0 75.5h0M105.1 85.0h0M105.4 79.8h0M103.2 77.8h0M99.1 77.4h0M103.5 70.9h0M101.4 81.6h0M106.3 70.9h0M110.1 74.2h0M104.2 78.0h0M102.1 70.5h0M103.2 81.8h0M107.8 70.6h0M108.4 77.1h0M106.5 77.2h0M106.3 73.0h0M102.8 74.2h0M104.2 79.5h0M101.9 83.4h0M103.5 74.6h0M107.1 78.8h0M104.3 72.7h0M102.5 70.5h0M108.3 81.4h0M110.2 79.0h0M106.1 80.1h0M107.8 76.0h0M106.1 85.7h0M100.6 71.3h0M102.6 80.0h0M108.4 75.6h0M107.0 76.8h0M106.0 74.8h0M105.1 77.0h0M108.2 86.0h0M100.3 79.2h0M105.2 80.9h0M108.1 80.2h0M107.4 73.2h0M100.6 83.8h0M108.5 73.1h0M108.7 79.7h0M98.6 80.6h0M102.5 81.7h0M103.4 74.0h0M101.0 76.1h0M107.9 74.3h0M100.2 85.7h0M110.2 79.8h0M103.8 72.1h0M100.8 79.3h0M108.7 72.7h0M105.2 75.9h0M104.5 79.0h0M110.8 74.4h0M107.5 81.4h0M104.4 76.4h0M101.6 81.4h0M103.8 74.4h0M105.4 73.5h0M102.4 75.8h0M109.2 76.2h0M106.6 71.1h0M99.9 84.4h0M104.1 70.8h0M104.9 79.5h0M100.5 73.4h0M105.9 73.3h0M107.4 80.9h0M106.4 75.3h0M105.1 74.4h0M104.8 78.3h0M104.4 80.9h0M112.2 74.8h0M106.1 80.3h0M106.9 76.0h0M103.9 81.1h0M106.9 79.1h0M103.0 79.6h0M107.3 76.2h0M106.9 85.8h0M100.1 79.5h0M102.0 71.5h0M104.6 79.2h0M105.3 72.3h0M101.3 74.7h0M105.2 73.6h0M101.1 84.1h0M102.9 76.4h0M103.7 74.6h0M105.3 75.8h0M106.9 72.2h0M101.2 84.9h0M105.0 80.1h0M108.4 79.3h0M105.3 70.7h0M100.9 81.0h0M107.0 79.3h0M100.7 68.3h0M102.3 72.2h0M105.6 72.8h0M109.5 74.5h0M103.7 80.5h0M106.1 73.3h0M107.4 84.8h0M101.9 76.0h0M102.3 69.1h0M106.9 79.8h0M107.8 78.7h0M99.7 76.9h0M103.4 72.2h0M102.2 80.1h0M104.4 85.0h0M106.5 69.2h0M107.6 82.1h0M105.3 72.1h0M110.0 71.6h0M105.0 69.2h0M101.8 70.1h0M108.2 81.8h0M104.1 71.5h0M105.0 78.5h0M101.0 72.3h0M104.9 79.9h0M105.4 78.8h0M101.8 66.8h0M106.1 73.2h0M104.9 75.5h0M106.5 73.8h0M103.4 72.2h0M101.2 76.3h0M102.4 74.8h0M95.9 67.7h0M104.4 75.2h0M101.3 75.2h0M98.5 67.4h0M98.5 79.9h0M100.9 84.2h0M101.2 84.9h0M101.1 63.9h0M104.1 74.3h0M102.8 73.5h0M99.2 73.2h0M97.4 63.8h0M97.9 68.4h0M96.8 71.3h0M100.7 85.9h0M104.3 71.7h0M102.1 70.5h0M100.9 71.8h0M98.7 72.5h0M96.5 75.0h0M99.3 64.6h0M99.2 75.8h0M98.4 75.3h0M101.3 82.7h0M97.4 71.2h0M101.2 82.3h0M100.6 77.2h0M96.5 68.0h0M103.9 70.0h0M105.1 67.0h0M99.3 61.0h0M101.5 73.8h0M104.8 73.1h0M99.4 62.3h0M99.8 78.5h0M101.8 80.5h0M102.0 71.7h0M101.4 73.2h0M96.8 83.8h0M100.9 64.7h0M100.9 74.0h0M102.4 82.0h0M92.8 75.8h0M103.6 65.4h0M95.6 73.9h0M100.8 74.4h0M97.4 68.8h0M95.7 53.1h0M86.1 82.0h0M121.2 83.6h0M135.0 61.2h0M122.4 58.9h0M126.4 79.0h0" stroke="#000" stroke-width="0.62" stroke-linecap="round" fill="none" opacity="1"/>
</g>
<rect x="100.6" y="66.2" width="18.2" height="18.6" fill="none" stroke="#555" stroke-width="0.7"/>
<text x="104.4" y="63.4" font-size="8.5" font-family="Liberation Sans, sans-serif" fill="#111" stroke="#111" stroke-width="0.1" textLength="10.6" lengthAdjust="spacingAndGlyphs">0.7</text>
<g filter="url(#s)">
<g filter="url(#b)">
<ellipse cx="37.7" cy="110.3" rx="6.2" ry="6.3" fill="#000"/>
<ellipse cx="36.7" cy="129.2" rx="1.9" ry="2.5" fill="#000" opacity=".75"/>
</g>
<path d="M38.1 110.8h0M38.8 115.2h0M37.3 110.7h0M40.8 104.5h0M36.6 110.6h0M41.2 107.3h0M40.7 111.7h0M32.2 104.7h0M32.4 110.8h0M38.5 113.0h0M40.7 108.2h0M41.6 113.4h0M39.4 112.1h0M33.0 111.7h0M33.9 105.8h0M36.4 110.8h0M37.5 109.1h0M34.0 111.0h0M35.0 105.0h0M38.0 115.8h0M36.2 106.3h0M42.8 116.8h0M36.6 109.5h0M38.5 121.5h0M38.2 114.1h0M39.3 103.4h0M33.6 105.6h0M39.3 110.7h0M44.3 109.3h0M38.8 110.6h0M38.2 119.1h0M38.7 115.9h0M42.5 108.0h0M40.2 108.9h0M38.1 110.9h0M37.8 108.5h0M43.4 109.3h0M40.3 116.7h0M40.0 114.2h0M42.8 114.4h0M44.0 104.9h0M44.9 110.4h0M31.3 107.9h0M32.6 110.2h0M32.2 106.5h0M38.8 110.9h0M34.8 109.4h0M37.3 110.6h0M37.7 109.5h0M40.9 104.2h0M35.9 110.8h0M36.2 108.2h0M36.1 111.1h0M42.3 109.6h0M36.7 111.7h0M36.8 103.0h0M38.7 108.9h0M35.6 112.7h0M37.9 108.2h0M37.8 109.9h0M39.3 111.1h0M35.9 105.5h0M33.7 109.8h0M33.5 113.2h0M32.8 103.5h0M37.0 103.6h0M43.7 106.5h0M37.5 109.4h0M34.7 103.6h0M30.8 113.6h0M41.5 118.5h0M32.3 112.4h0M37.6 113.5h0M35.8 113.0h0M41.0 112.6h0M43.1 109.6h0M43.4 107.6h0M43.9 99.9h0M37.8 107.3h0M37.7 114.2h0M40.4 110.7h0M44.0 104.7h0M34.7 116.0h0M38.9 102.4h0M39.0 105.8h0M43.2 114.6h0M35.7 115.2h0M34.6 113.8h0M39.8 109.8h0M32.4 109.2h0M30.9 114.9h0M34.1 101.1h0M39.9 111.7h0M35.8 118.3h0M40.6 110.6h0M35.3 99.1h0M39.5 113.9h0M35.5 104.9h0M37.5 103.9h0M37.7 113.2h0M43.3 111.3h0M38.4 113.1h0M42.9 109.1h0M33.2 107.3h0M33.0 106.9h0M37.3 111.6h0M38.3 110.6h0M36.4 111.9h0M41.0 113.2h0M43.2 109.2h0M36.8 116.7h0M38.4 111.9h0M36.5 114.0h0M36.2 106.5h0M37.5 108.6h0M40.8 108.9h0M38.2 109.5h0M39.0 107.9h0M41.8 104.9h0M36.3 107.6h0M40.1 110.5h0M39.5 109.0h0M35.0 106.0h0M36.5 108.3h0M38.7 111.6h0M41.3 109.9h0M34.9 106.3h0M37.9 111.7h0M44.9 111.0h0M44.2 117.4h0M33.8 114.9h0M41.9 115.4h0M37.7 113.9h0M35.9 110.0h0M37.8 117.1h0M36.9 113.9h0M37.9 107.6h0M38.6 112.8h0M35.1 112.7h0M35.1 107.0h0M38.5 109.4h0M34.1 104.1h0M37.8 111.2h0M36.0 111.0h0M32.0 111.8h0M39.2 111.4h0M35.4 110.6h0M38.2 114.4h0M38.7 111.3h0M35.0 113.6h0M42.0 108.4h0M40.1 111.5h0M37.5 105.4h0M44.2 103.2h0M38.8 108.9h0M41.9 108.7h0M37.8 112.6h0M39.4 108.3h0M40.2 111.8h0M41.4 108.4h0M37.5 108.8h0M34.6 111.3h0M39.2 115.7h0M36.5 111.8h0M41.9 109.9h0M37.9 110.8h0M35.2 106.6h0M41.8 111.0h0M37.4 105.6h0M38.1 114.7h0M33.5 106.9h0M41.8 115.7h0M43.4 108.2h0M39.9 107.5h0M39.6 108.9h0M38.4 115.4h0M38.9 109.4h0M37.9 111.3h0M35.8 111.1h0M39.9 116.2h0M33.1 113.6h0M46.7 111.0h0M38.1 114.6h0M35.8 108.5h0M39.0 108.1h0M41.8 110.3h0M39.1 119.9h0M36.1 113.8h0M34.7 115.0h0M41.2 110.8h0M41.3 116.4h0M42.8 110.3h0M37.5 114.5h0M32.3 108.0h0M39.5 112.4h0M44.5 116.9h0M38.9 112.0h0M32.9 109.6h0M38.7 109.4h0M37.9 112.6h0M34.2 108.2h0M31.2 114.6h0M33.8 103.9h0M40.5 109.5h0M41.2 108.9h0M45.5 113.0h0M38.3 110.7h0M36.9 113.3h0M45.0 108.7h0M33.7 112.5h0M41.6 104.7h0M35.2 106.6h0M39.8 112.2h0M35.0 106.1h0M40.2 102.6h0M40.1 109.7h0M44.7 114.0h0M35.6 109.3h0M36.7 107.6h0M38.0 113.9h0M32.2 109.4h0M43.1 113.1h0M34.7 107.3h0M34.6 104.3h0M41.9 110.6h0M35.2 104.9h0M36.3 108.4h0M44.0 108.6h0M38.1 114.3h0M40.1 109.6h0M39.9 108.7h0M37.4 106.7h0M34.4 104.8h0M39.5 112.2h0M38.3 113.2h0M39.7 110.8h0M34.5 112.5h0M42.0 112.7h0M42.2 108.5h0M34.1 115.0h0M35.6 111.2h0M37.0 110.4h0M36.7 108.3h0M31.2 117.4h0M38.4 103.1h0M34.4 106.1h0M35.0 100.8h0M39.8 116.4h0M36.8 113.1h0M39.9 105.7h0M42.1 104.0h0M35.6 109.0h0M42.3 110.7h0M37.2 107.3h0M38.0 110.5h0M40.3 115.5h0M40.4 110.4h0M37.1 116.3h0M38.4 110.2h0M44.2 116.1h0M39.8 109.9h0M35.4 114.3h0M36.1 113.9h0M34.9 110.7h0M39.2 110.8h0M38.5 111.7h0M33.6 106.2h0M37.2 117.0h0M37.3 106.9h0M35.3 110.4h0M42.0 108.2h0M39.7 111.0h0M36.4 106.8h0M37.2 107.6h0M39.6 103.8h0M41.8 113.1h0M39.8 115.9h0M39.9 104.0h0M37.9 112.0h0M35.2 106.1h0M39.3 112.2h0M36.2 109.4h0M35.9 108.2h0M37.5 114.3h0M31.9 109.0h0M43.5 111.5h0M38.3 113.4h0M34.1 105.8h0M31.7 104.9h0M38.6 113.4h0M36.2 107.8h0M39.2 112.6h0M38.6 103.2h0M35.7 100.9h0M38.6 107.2h0M35.3 115.9h0M42.5 112.1h0M38.7 110.9h0M35.6 110.1h0M44.6 107.1h0M35.3 110.9h0M40.9 113.4h0M34.2 109.8h0M36.7 105.7h0M38.0 108.5h0M41.0 111.9h0M34.9 110.6h0M36.4 108.0h0M35.9 114.2h0M36.2 104.0h0M34.9 113.3h0M45.4 106.4h0M36.4 109.1h0M32.6 111.8h0M37.5 111.3h0M45.8 109.3h0M40.6 113.4h0M35.4 108.1h0M43.3 112.9h0M38.2 106.3h0M38.8 130.6h0M41.7 133.4h0M38.6 129.8h0M36.9 127.3h0M37.5 129.7h0M38.3 132.3h0M37.5 127.4h0M38.6 133.7h0M34.9 130.3h0M38.0 130.6h0M37.9 128.7h0M36.6 134.1h0M40.7 124.8h0M31.1 130.3h0M35.3 127.4h0M33.2 130.1h0M36.7 127.4h0M38.8 136.3h0M40.1 132.5h0M35.9 131.0h0M36.7 132.5h0M38.1 128.9h0M38.0 126.8h0M38.6 133.5h0M36.0 130.7h0M33.1 131.8h0M38.8 125.9h0M40.7 129.3h0M32.9 124.9h0M38.8 128.2h0M39.3 124.3h0M36.6 131.9h0M35.3 131.0h0M36.0 130.0h0M37.5 135.7h0M34.0 131.3h0M39.7 125.6h0M37.0 136.0h0M39.1 120.1h0M36.3 123.9h0M37.5 126.8h0M35.5 126.5h0M37.5 127.6h0M34.8 128.3h0M37.7 126.4h0M39.3 124.0h0M37.7 127.8h0M40.3 127.1h0M35.3 125.0h0M41.2 130.9h0M34.4 128.0h0M34.7 133.6h0M37.7 122.9h0M37.3 131.8h0M36.8 130.4h0M36.6 129.6h0M37.3 126.9h0M37.6 129.5h0M36.7 126.9h0M34.5 129.7h0M38.6 121.7h0M35.6 133.1h0M38.8 126.9h0M39.8 126.0h0M35.0 134.8h0M35.8 128.3h0M33.1 126.0h0M34.2 128.6h0M32.7 132.2h0M36.0 127.2h0M35.4 131.2h0M40.2 127.8h0M40.4 133.9h0M39.8 129.9h0M33.5 131.0h0M35.9 129.6h0M32.6 128.1h0M37.3 126.2h0M37.5 134.0h0M37.3 126.9h0M42.1 122.5h0M34.7 130.2h0M35.5 122.1h0M37.4 131.5h0M35.0 133.4h0M37.9 132.6h0M33.4 129.0h0M40.4 135.1h0M39.8 129.0h0M37.2 127.1h0M39.3 126.9h0M37.1 122.8h0M33.4 134.4h0M36.9 129.7h0M31.9 128.9h0M41.4 124.5h0M31.5 128.5h0M35.6 128.4h0M34.0 124.9h0M34.0 130.9h0M36.7 131.5h0M34.4 130.8h0M35.8 129.3h0M38.9 129.1h0M36.0 124.0h0M36.9 131.4h0M35.4 128.8h0M32.8 125.0h0M37.7 132.9h0M36.1 123.9h0M35.9 124.3h0M36.2 134.9h0M37.5 128.5h0M39.1 127.8h0M37.5 129.6h0M37.8 124.5h0M38.4 131.7h0M31.7 120.8h0M34.8 133.5h0M36.8 131.1h0M38.1 131.7h0M35.4 127.2h0M37.6 130.9h0M38.1 130.0h0M35.7 132.4h0M37.9 132.2h0M31.1 132.1h0M31.3 129.6h0M35.3 129.4h0M35.7 128.1h0M37.2 130.1h0M35.0 121.3h0M35.0 130.7h0M34.9 130.3h0M36.0 126.1h0M39.4 134.1h0M36.6 128.8h0M39.0 124.9h0M34.8 132.5h0M38.8 127.5h0M35.0 130.1h0M33.6 127.5h0M36.3 121.5h0M38.1 131.3h0M39.2 124.6h0M33.9 126.5h0M33.8 135.3h0M34.6 128.0h0M37.3 130.4h0M40.1 125.7h0M38.8 129.5h0M34.1 129.5h0M33.6 134.0h0M35.1 132.1h0M39.8 127.1h0M34.8 129.4h0M34.4 131.8h0M37.2 126.7h0M35.2 131.2h0M33.5 134.2h0M35.0 128.4h0M34.7 134.0h0M38.7 133.0h0M38.3 129.3h0M40.7 131.0h0M37.8 130.8h0M38.5 129.9h0M36.4 124.1h0M41.5 125.0h0M31.9 126.8h0M41.2 132.8h0M35.4 129.8h0M36.7 122.9h0M36.0 129.9h0M39.5 125.3h0M31.6 124.1h0M37.6 129.2h0M37.1 129.5h0M36.0 124.8h0M37.8 130.2h0M38.1 132.9h0M34.0 121.8h0M32.7 135.6h0M34.7 130.2h0M36.8 131.3h0M44.2 127.4h0M36.4 127.1h0M37.4 130.6h0M34.6 133.1h0M39.4 130.4h0M36.5 128.3h0M33.0 131.0h0M34.6 127.4h0M39.1 126.1h0M35.6 131.7h0M41.1 126.9h0M39.3 127.0h0M37.7 130.5h0M34.2 132.2h0M40.9 129.2h0M37.4 125.4h0M40.9 129.2h0M33.9 131.4h0M33.4 126.9h0M31.9 133.3h0M41.9 127.0h0M35.3 127.2h0M35.5 130.7h0M40.2 125.9h0M37.8 123.4h0M40.3 128.7h0M35.2 133.7h0M36.6 133.2h0M39.3 134.1h0M35.0 129.2h0M37.6 128.4h0M40.3 126.8h0M39.1 133.2h0M32.3 126.0h0M34.7 127.3h0M37.7 128.5h0M37.0 127.6h0M36.6 130.5h0M38.5 126.6h0M36.5 126.6h0M36.4 124.5h0M39.0 131.1h0M36.5 126.9h0M35.8 126.9h0M33.2 134.1h0M44.4 125.2h0M34.1 130.8h0M38.2 124.1h0M32.4 130.7h0M32.2 133.4h0M35.7 129.3h0M36.8 127.3h0M36.5 128.1h0M39.7 128.7h0M36.7 127.4h0M35.3 126.7h0M36.8 134.7h0M39.4 129.7h0M40.6 132.1h0M37.3 128.5h0M34.3 129.8h0M36.1 124.1h0M33.8 135.0h0M37.3 130.5h0M37.3 127.6h0M37.9 132.4h0M36.1 130.6h0M39.2 127.5h0M37.2 126.7h0M38.2 127.9h0M39.4 126.6h0M40.7 128.0h0M34.9 126.2h0M38.3 126.3h0M41.0 133.0h0M38.0 124.6h0M36.7 126.7h0M32.6 130.3h0M41.9 127.3h0M38.7 133.0h0M34.6 127.9h0M37.4 130.5h0M34.2 129.7h0M36.6 131.9h0M33.1 127.3h0M35.6 128.0h0M38.5 127.1h0M43.1 126.8h0M38.7 132.2h0M39.0 128.4h0M34.9 128.2h0M38.3 129.4h0M38.1 130.8h0M34.8 126.1h0M40.1 127.5h0M33.2 134.8h0M34.9 126.1h0M39.0 125.5h0M34.8 132.2h0M34.9 136.8h0M37.0 137.3h0M37.1 129.2h0M35.3 128.3h0M35.6 128.9h0M38.6 125.1h0M34.7 122.5h0M40.3 128.8h0M36.8 128.8h0M39.1 130.0h0M38.8 128.5h0M36.5 128.8h0M32.5 132.4h0M33.2 125.9h0M38.3 129.2h0M38.7 134.3h0M40.7 124.6h0M36.5 126.6h0M35.2 120.2h0M39.0 119.9h0M36.8 119.4h0M39.7 113.1h0M39.5 123.7h0M36.9 122.2h0M35.1 123.8h0M43.1 117.7h0M39.8 120.3h0M36.3 119.0h0M36.6 116.7h0M34.3 125.5h0M37.0 122.2h0M37.6 121.9h0M33.9 117.7h0M38.3 123.5h0M34.7 118.8h0M34.9 122.5h0M37.7 120.6h0M35.7 121.5h0M37.1 118.3h0M37.7 118.5h0M38.9 122.4h0M35.6 122.3h0M37.1 118.4h0M35.2 115.5h0M57.3 130.1h0M62.7 126.9h0M60.3 130.1h0M61.7 130.5h0M62.7 131.5h0M58.1 130.3h0M54.5 128.4h0M59.9 130.9h0M59.2 131.7h0M62.9 126.2h0M58.7 129.9h0M61.0 129.5h0M61.8 125.1h0M61.7 132.8h0M62.5 130.4h0M59.4 130.3h0M59.7 123.8h0M58.5 128.9h0M58.7 125.9h0M59.4 127.8h0M60.1 128.8h0M60.3 132.3h0M60.2 130.3h0M57.1 119.3h0M59.0 131.2h0M59.1 126.9h0M57.0 131.9h0M58.7 129.8h0M62.5 130.8h0M65.1 128.6h0M62.1 131.3h0M58.4 129.2h0M58.6 125.6h0M60.6 126.4h0M63.8 126.6h0M58.6 129.3h0M58.7 129.2h0M58.5 124.3h0M54.4 124.7h0M63.4 130.5h0M60.3 127.5h0M59.6 130.0h0M56.7 126.4h0M57.9 133.2h0M57.5 132.9h0M59.7 129.1h0M63.0 131.9h0M62.1 125.5h0M49.6 133.8h0M59.2 121.0h0M53.5 130.4h0M47.1 119.7h0M53.0 133.9h0M63.9 124.4h0M62.5 132.4h0M61.7 129.0h0M63.5 129.9h0M63.1 128.6h0M40.2 115.3h0M55.1 107.2h0M49.4 115.0h0M60.6 102.0h0" stroke="#000" stroke-width="0.62" stroke-linecap="round" fill="none" opacity="1"/>
</g>
<rect x="46.3" y="118.6" width="18.5" height="18.2" fill="none" stroke="#555" stroke-width="0.7"/>
<text x="50.6" y="114.8" font-size="8.5" font-family="Liberation Sans, sans-serif" fill="#111" stroke="#111" stroke-width="0.1" textLength="10.5" lengthAdjust="spacingAndGlyphs">1.3</text>
<g filter="url(#s)">
<g filter="url(#b)">
<ellipse cx="90.8" cy="105.4" rx="4.2" ry="6.6" fill="#000"/>
</g>
<path d="M90.3 112.2h0M88.2 106.5h0M90.0 104.0h0M88.8 105.8h0M91.3 99.2h0M91.4 100.9h0M90.8 117.5h0M88.4 106.3h0M90.2 111.3h0M89.6 98.0h0M86.8 107.5h0M91.4 111.7h0M89.5 109.8h0M88.1 112.8h0M90.6 103.3h0M91.2 115.0h0M88.7 100.6h0M88.3 101.1h0M90.7 108.3h0M90.4 107.5h0M93.8 105.2h0M87.7 95.6h0M91.4 103.3h0M90.2 108.6h0M92.0 99.1h0M88.4 107.0h0M90.4 112.1h0M89.5 96.7h0M93.7 98.7h0M88.4 108.5h0M88.2 118.5h0M91.4 109.2h0M89.7 117.2h0M92.1 103.2h0M93.9 98.5h0M89.3 108.0h0M91.1 102.0h0M94.8 113.7h0M88.5 108.4h0M89.2 104.5h0M93.3 107.2h0M90.5 107.1h0M87.9 112.5h0M88.9 112.9h0M89.7 104.4h0M94.5 107.5h0M89.2 104.0h0M92.3 115.6h0M92.3 104.7h0M88.0 103.4h0M90.5 107.8h0M89.2 112.7h0M88.4 103.2h0M92.0 108.9h0M89.8 111.2h0M87.3 114.4h0M96.3 116.0h0M91.1 116.0h0M90.9 113.0h0M90.3 107.5h0M92.1 98.2h0M90.3 114.8h0M93.1 108.2h0M91.3 113.3h0M91.6 97.5h0M88.4 105.2h0M91.2 104.5h0M90.5 114.6h0M93.1 109.5h0M90.8 106.9h0M91.7 107.8h0M89.0 110.3h0M88.7 106.4h0M89.9 101.1h0M92.3 106.3h0M87.9 106.2h0M87.4 113.5h0M92.1 116.1h0M89.4 110.0h0M88.4 102.5h0M90.6 108.6h0M93.1 105.3h0M93.6 111.2h0M88.6 105.7h0M88.5 114.8h0M89.4 110.8h0M93.1 105.4h0M89.6 108.2h0M88.9 100.5h0M88.4 108.2h0M91.3 115.0h0M86.2 109.0h0M87.9 112.1h0M92.5 107.2h0M94.5 104.8h0M89.5 101.6h0M89.2 107.2h0M92.5 112.7h0M90.1 103.1h0M90.0 104.6h0M89.6 104.7h0M88.6 106.4h0M89.5 105.8h0M87.4 107.3h0M92.2 109.7h0M89.4 101.2h0M87.6 101.0h0M89.2 105.1h0M86.4 109.8h0M87.0 103.3h0M89.0 110.5h0M95.4 104.9h0M90.1 104.7h0M90.3 105.8h0M96.9 101.4h0M90.5 102.8h0M91.7 104.1h0M92.2 101.5h0M96.0 107.6h0M86.4 109.9h0M89.6 101.1h0M91.9 104.1h0M92.6 104.0h0M93.0 107.3h0M91.7 107.3h0M89.9 104.9h0M91.9 110.0h0M89.8 117.2h0M95.0 101.2h0M93.5 106.3h0M91.4 102.9h0M94.9 102.7h0M90.6 103.2h0M95.6 112.5h0M87.5 104.5h0M91.7 104.6h0M89.9 101.5h0M91.4 101.4h0M92.9 117.9h0M90.0 114.4h0M91.7 103.4h0M89.9 102.1h0M91.1 109.9h0M93.1 105.3h0M87.9 106.2h0M94.9 107.9h0M90.6 96.8h0M89.7 109.2h0M88.5 113.0h0M89.4 102.5h0M89.4 106.2h0M93.3 103.9h0M86.4 106.2h0M92.1 113.9h0M88.0 113.6h0M92.5 108.8h0M88.9 102.5h0M88.4 111.0h0M91.3 111.6h0M95.3 106.7h0M90.7 115.6h0M87.6 104.5h0M89.9 104.8h0M91.2 102.7h0M93.7 100.2h0M88.8 98.7h0M87.4 109.4h0M92.3 105.7h0M92.9 109.5h0M89.4 106.4h0M91.7 116.1h0M89.7 108.4h0M92.1 112.3h0M91.8 111.7h0M88.2 105.4h0M86.0 106.4h0M96.5 107.8h0M91.0 107.9h0M91.2 100.4h0M89.1 105.8h0M91.2 102.6h0M90.5 103.2h0M87.6 103.5h0M88.8 110.6h0M94.1 109.3h0M90.3 104.0h0M86.9 104.2h0M94.6 112.0h0M91.4 105.5h0M90.8 108.6h0M90.8 108.6h0M88.9 106.8h0M89.9 111.7h0M87.8 112.7h0M90.6 104.3h0M90.9 107.2h0M90.2 108.6h0M89.4 98.7h0M92.5 106.5h0M94.9 108.4h0M85.9 112.4h0M89.1 109.2h0M96.3 111.7h0M88.1 106.2h0M86.9 109.8h0M92.2 101.8h0M91.9 111.0h0M92.8 103.5h0M89.1 101.4h0M87.6 108.1h0M90.9 112.7h0M91.5 105.1h0M87.3 113.9h0M91.2 106.5h0M88.3 101.7h0M92.4 102.1h0M92.2 109.6h0M89.9 99.1h0M91.8 113.2h0M88.8 100.7h0M93.5 107.3h0M89.3 112.4h0M90.1 108.7h0M89.8 103.1h0M91.3 102.6h0M86.4 104.1h0M93.8 111.8h0M96.1 111.3h0M94.8 107.8h0M89.7 108.8h0M88.5 110.1h0M89.7 107.8h0M88.7 106.0h0M93.2 105.6h0M89.1 108.0h0M93.0 105.8h0M87.9 99.4h0M87.5 111.6h0M90.6 108.9h0M93.4 108.0h0M92.0 104.3h0M86.9 109.6h0M90.6 109.3h0M88.2 106.0h0M95.7 102.7h0M91.0 112.7h0M90.2 107.2h0M85.6 110.3h0M89.7 112.6h0M90.6 104.9h0M91.9 105.5h0M89.5 113.8h0M93.2 107.2h0M92.8 110.5h0M92.2 106.9h0M91.0 108.5h0M92.2 108.3h0M89.5 106.3h0M91.9 102.1h0M90.8 110.2h0M90.7 123.3h0M90.4 122.4h0M91.9 122.9h0M87.8 119.2h0M90.9 125.5h0M89.7 118.8h0M90.2 120.9h0M89.4 124.6h0M89.2 125.9h0M89.2 122.5h0M90.0 131.0h0M92.9 128.7h0M89.2 124.6h0M91.8 128.1h0M87.8 124.3h0M89.2 127.9h0M91.4 122.2h0M93.8 123.3h0M94.2 123.8h0M90.3 132.9h0M89.6 122.5h0M92.7 124.4h0M91.1 119.0h0M93.2 128.9h0M91.0 127.7h0M89.6 122.5h0M87.9 126.2h0M92.3 128.3h0M91.8 127.7h0M89.0 118.8h0M91.4 125.3h0M91.9 123.4h0M89.0 126.5h0M89.5 117.4h0M89.4 120.7h0M88.7 122.2h0M91.9 134.9h0M93.1 122.8h0M92.2 124.3h0M91.0 121.6h0M90.3 117.2h0M93.2 121.2h0M91.3 122.0h0M90.8 119.4h0M89.8 128.6h0M91.3 116.1h0M91.7 118.8h0M90.8 126.8h0M89.4 123.2h0M90.0 126.3h0M91.8 130.5h0M90.9 133.3h0M88.9 132.4h0M90.0 127.9h0M90.2 124.9h0M89.0 126.3h0M93.6 125.2h0M90.4 124.6h0M91.5 123.7h0M90.4 125.5h0M92.4 128.7h0M88.8 121.8h0M90.4 128.3h0M91.9 123.7h0M93.7 123.9h0M92.6 130.8h0M92.9 125.5h0M91.3 117.9h0M87.6 121.9h0M91.5 129.2h0M90.2 129.1h0M91.3 131.2h0M87.9 121.0h0M88.9 120.0h0M93.0 120.5h0M89.1 122.8h0M91.8 122.6h0M91.6 127.0h0M89.4 114.3h0M89.0 119.1h0M93.0 121.4h0M88.7 126.2h0M90.5 120.5h0M92.1 128.6h0M90.8 121.3h0M89.0 115.6h0M91.0 126.3h0M89.0 124.7h0M95.5 119.6h0M87.7 127.2h0M89.7 122.4h0M91.4 124.0h0M92.0 126.8h0M92.2 125.1h0M87.0 130.5h0M87.7 129.1h0M90.8 118.5h0M90.5 128.4h0M88.8 124.7h0M89.2 120.2h0M89.4 130.1h0M91.5 124.4h0M90.3 125.1h0M90.8 125.4h0M87.7 128.6h0M89.1 113.2h0M91.5 119.3h0M90.2 124.1h0M89.5 126.9h0M90.0 123.3h0M88.9 123.3h0M88.8 124.7h0M92.5 129.0h0M91.1 118.6h0M92.0 128.6h0M93.6 114.7h0M90.4 123.1h0M92.1 119.8h0M89.8 134.7h0M92.0 115.8h0M90.4 130.5h0M89.4 127.2h0M90.6 118.1h0M89.4 129.5h0M92.3 121.9h0M92.2 121.4h0M90.8 124.4h0M88.4 126.0h0M89.8 112.5h0M89.1 120.8h0M89.1 120.3h0M89.3 113.8h0M91.8 124.9h0M90.8 123.4h0M90.5 123.4h0M88.7 117.9h0M90.5 129.0h0M90.8 131.6h0M88.3 123.4h0M89.4 129.9h0M93.1 122.2h0M91.6 123.5h0M88.8 124.0h0M88.8 131.3h0M91.3 129.7h0M91.0 113.9h0M91.7 124.9h0M86.6 125.0h0M92.0 132.0h0M88.8 128.0h0M90.9 123.8h0M90.0 126.8h0M91.3 127.4h0M89.8 118.7h0M92.5 130.2h0M89.5 124.4h0M91.7 116.8h0M91.2 135.2h0M90.8 121.4h0M93.6 124.6h0M90.7 122.6h0M90.7 116.6h0M88.4 118.0h0M91.8 124.1h0M92.2 115.5h0M89.5 130.9h0M89.2 116.3h0M89.2 123.0h0M90.4 130.3h0M92.5 131.3h0M104.5 125.0h0M102.8 122.0h0M105.6 130.3h0M103.7 123.8h0M104.7 128.0h0M103.8 122.9h0M104.0 124.8h0M104.8 128.3h0M104.3 125.2h0M88.7 125.9h0M89.7 122.0h0M89.3 103.1h0" stroke="#000" stroke-width="0.62" stroke-linecap="round" fill="none" opacity="1"/>
</g>
<rect x="100.5" y="119.5" width="18.3" height="18.1" fill="none" stroke="#555" stroke-width="0.7"/>
<text x="104.4" y="114.8" font-size="8.5" font-family="Liberation Sans, sans-serif" fill="#111" stroke="#111" stroke-width="0.1" textLength="10.9" lengthAdjust="spacingAndGlyphs">0.2</text>
<rect x="29.5" y="38.3" width="53.6" height="49.2" fill="none" stroke="#4a4a4a" stroke-width="1.1"/>
<rect x="84" y="38.3" width="53.6" height="49.2" fill="none" stroke="#4a4a4a" stroke-width="1.1"/>
<rect x="29.5" y="89.05" width="53.6" height="49.35" fill="none" stroke="#4a4a4a" stroke-width="1.1"/>
<rect x="84" y="89.05" width="53.6" height="49.35" fill="none" stroke="#4a4a4a" stroke-width="1.1"/>
<text x="140.8" y="48.2" font-size="9.2" font-family="Liberation Sans, sans-serif" fill="#111" stroke="#111" stroke-width="0.22" transform="rotate(90 140.8 48.2)" textLength="28.4" lengthAdjust="spacingAndGlyphs">Spleen</text>
<text x="140.8" y="107.2" font-size="9.2" font-family="Liberation Sans, sans-serif" fill="#111" stroke="#111" stroke-width="0.22" transform="rotate(90 140.8 107.2)" textLength="11.2" lengthAdjust="spacingAndGlyphs">LN</text>
<line x1="22.6" y1="144.6" x2="22.6" y2="117.8" stroke="#111" stroke-width="0.9"/>
<line x1="22.200000000000003" y1="144.2" x2="55.3" y2="144.2" stroke="#111" stroke-width="0.9"/>
<path d="M22.6 114.8l-1.7 4.6h3.4z M58.3 144.2l-4.6 -1.7v3.4z" fill="#111"/>
<text x="17.7" y="144" font-size="9" font-family="Liberation Sans, sans-serif" fill="#111" stroke="#111" stroke-width="0.22" transform="rotate(-90 17.7 144)" textLength="17.8" lengthAdjust="spacingAndGlyphs">CD3</text>
<text x="23.8" y="154.8" font-size="9" font-family="Liberation Sans, sans-serif" fill="#111" stroke="#111" stroke-width="0.22" textLength="27.4" lengthAdjust="spacingAndGlyphs">NKp46</text>
<line x1="196.2" y1="33.1" x2="196.2" y2="118.7" stroke="#111" stroke-width="1.1"/>
<line x1="193.6" y1="118.2" x2="252.3" y2="118.2" stroke="#111" stroke-width="1.1"/>
<line x1="193.6" y1="118.2" x2="196.2" y2="118.2" stroke="#111" stroke-width="1"/>
<text x="192.1" y="120.9" font-size="7.6" font-family="Liberation Sans, sans-serif" fill="#111" stroke="#111" stroke-width="0.22" text-anchor="end">0</text>
<line x1="193.6" y1="101.28" x2="196.2" y2="101.28" stroke="#111" stroke-width="1"/>
<text x="192.1" y="104.0" font-size="7.6" font-family="Liberation Sans, sans-serif" fill="#111" stroke="#111" stroke-width="0.22" text-anchor="end">1</text>
<line x1="193.6" y1="84.36" x2="196.2" y2="84.36" stroke="#111" stroke-width="1"/>
<text x="192.1" y="87.1" font-size="7.6" font-family="Liberation Sans, sans-serif" fill="#111" stroke="#111" stroke-width="0.22" text-anchor="end">2</text>
<line x1="193.6" y1="67.44" x2="196.2" y2="67.44" stroke="#111" stroke-width="1"/>
<text x="192.1" y="70.1" font-size="7.6" font-family="Liberation Sans, sans-serif" fill="#111" stroke="#111" stroke-width="0.22" text-anchor="end">3</text>
<line x1="193.6" y1="50.52" x2="196.2" y2="50.52" stroke="#111" stroke-width="1"/>
<text x="192.1" y="53.2" font-size="7.6" font-family="Liberation Sans, sans-serif" fill="#111" stroke="#111" stroke-width="0.22" text-anchor="end">4</text>
<line x1="193.6" y1="33.6" x2="196.2" y2="33.6" stroke="#111" stroke-width="1"/>
<text x="192.1" y="36.3" font-size="7.6" font-family="Liberation Sans, sans-serif" fill="#111" stroke="#111" stroke-width="0.22" text-anchor="end">5</text>
<line x1="210.3" y1="46.7" x2="210.3" y2="52.3" stroke="#111" stroke-width="1"/>
<line x1="205.3" y1="46.7" x2="215.3" y2="46.7" stroke="#111" stroke-width="1"/>
<rect x="200.4" y="52.3" width="19.8" height="65.9" fill="#000" stroke="none" stroke-width="0"/>
<line x1="238.5" y1="104.6" x2="238.5" y2="106.7" stroke="#111" stroke-width="1"/>
<line x1="233.5" y1="104.6" x2="243.5" y2="104.6" stroke="#111" stroke-width="1"/>
<rect x="229.0" y="107.2" width="19.0" height="11.0" fill="#c4c4c4" stroke="#111" stroke-width="1"/>
<path d="M210.6 45V42.4H238.9V99.6" fill="none" stroke="#111" stroke-width="0.9"/>
<text x="223.4" y="42.6" font-size="10" font-family="Liberation Sans, sans-serif" fill="#111" stroke="#111" stroke-width="0.22" text-anchor="middle" font-weight="bold" textLength="10.6" lengthAdjust="spacingAndGlyphs">***</text>
<text x="205.2" y="24.1" font-size="9.3" font-family="Liberation Sans, sans-serif" fill="#111" stroke="#111" stroke-width="0.22" textLength="28.8" lengthAdjust="spacingAndGlyphs">Spleen</text>
<line x1="274" y1="37.8" x2="274" y2="119.2" stroke="#111" stroke-width="1.1"/>
<line x1="271.4" y1="118.7" x2="328.5" y2="118.7" stroke="#111" stroke-width="1.1"/>
<line x1="271.4" y1="118.7" x2="274" y2="118.7" stroke="#111" stroke-width="1"/>
<text x="269.9" y="121.4" font-size="7.6" font-family="Liberation Sans, sans-serif" fill="#111" stroke="#111" stroke-width="0.22" text-anchor="end">0.0</text>
<line x1="271.4" y1="91.9" x2="274" y2="91.9" stroke="#111" stroke-width="1"/>
<text x="269.9" y="94.6" font-size="7.6" font-family="Liberation Sans, sans-serif" fill="#111" stroke="#111" stroke-width="0.22" text-anchor="end">0.5</text>
<line x1="271.4" y1="65.1" x2="274" y2="65.1" stroke="#111" stroke-width="1"/>
<text x="269.9" y="67.8" font-size="7.6" font-family="Liberation Sans, sans-serif" fill="#111" stroke="#111" stroke-width="0.22" text-anchor="end">1.0</text>
<line x1="271.4" y1="38.3" x2="274" y2="38.3" stroke="#111" stroke-width="1"/>
<text x="269.9" y="41.0" font-size="7.6" font-family="Liberation Sans, sans-serif" fill="#111" stroke="#111" stroke-width="0.22" text-anchor="end">1.5</text>
<line x1="287.5" y1="52.3" x2="287.5" y2="56.7" stroke="#111" stroke-width="1"/>
<line x1="282.5" y1="52.3" x2="292.5" y2="52.3" stroke="#111" stroke-width="1"/>
<rect x="278.3" y="56.7" width="18.4" height="62.0" fill="#000" stroke="none" stroke-width="0"/>
<line x1="314.7" y1="88.7" x2="314.7" y2="97.3" stroke="#111" stroke-width="1"/>
<line x1="309.7" y1="88.7" x2="319.7" y2="88.7" stroke="#111" stroke-width="1"/>
<rect x="305.9" y="97.8" width="17.6" height="20.9" fill="#c4c4c4" stroke="#111" stroke-width="1"/>
<path d="M286.5 46V43.7H314.8V85.4" fill="none" stroke="#111" stroke-width="0.9"/>
<text x="301.4" y="44.7" font-size="10" font-family="Liberation Sans, sans-serif" fill="#111" stroke="#111" stroke-width="0.22" text-anchor="middle" font-weight="bold" textLength="7" lengthAdjust="spacingAndGlyphs">**</text>
<text x="288.5" y="24.3" font-size="9.3" font-family="Liberation Sans, sans-serif" fill="#111" stroke="#111" stroke-width="0.22" textLength="11.2" lengthAdjust="spacingAndGlyphs">LN</text>
<line x1="381.3" y1="36.9" x2="381.3" y2="118.4" stroke="#111" stroke-width="1.1"/>
<line x1="378.7" y1="117.9" x2="433" y2="117.9" stroke="#111" stroke-width="1.1"/>
<line x1="378.7" y1="117.9" x2="381.3" y2="117.9" stroke="#111" stroke-width="1"/>
<text x="377.2" y="120.6" font-size="7.6" font-family="Liberation Sans, sans-serif" fill="#111" stroke="#111" stroke-width="0.22" text-anchor="end">0.0</text>
<line x1="378.7" y1="97.78" x2="381.3" y2="97.78" stroke="#111" stroke-width="1"/>
<text x="377.2" y="100.5" font-size="7.6" font-family="Liberation Sans, sans-serif" fill="#111" stroke="#111" stroke-width="0.22" text-anchor="end">0.5</text>
<line x1="378.7" y1="77.65" x2="381.3" y2="77.65" stroke="#111" stroke-width="1"/>
<text x="377.2" y="80.4" font-size="7.6" font-family="Liberation Sans, sans-serif" fill="#111" stroke="#111" stroke-width="0.22" text-anchor="end">1.0</text>
<line x1="378.7" y1="57.53" x2="381.3" y2="57.53" stroke="#111" stroke-width="1"/>
<text x="377.2" y="60.2" font-size="7.6" font-family="Liberation Sans, sans-serif" fill="#111" stroke="#111" stroke-width="0.22" text-anchor="end">1.5</text>
<line x1="378.7" y1="37.4" x2="381.3" y2="37.4" stroke="#111" stroke-width="1"/>
<text x="377.2" y="40.1" font-size="7.6" font-family="Liberation Sans, sans-serif" fill="#111" stroke="#111" stroke-width="0.22" text-anchor="end">2.0</text>
<line x1="394.9" y1="47.5" x2="394.9" y2="53.5" stroke="#111" stroke-width="1"/>
<line x1="389.9" y1="47.5" x2="399.9" y2="47.5" stroke="#111" stroke-width="1"/>
<rect x="385.8" y="53.5" width="18.2" height="64.4" fill="#000" stroke="none" stroke-width="0"/>
<line x1="421.65" y1="104.6" x2="421.65" y2="106.7" stroke="#111" stroke-width="1"/>
<line x1="416.65" y1="104.6" x2="426.65" y2="104.6" stroke="#111" stroke-width="1"/>
<rect x="413.2" y="107.2" width="16.9" height="10.7" fill="#c4c4c4" stroke="#111" stroke-width="1"/>
<path d="M395.4 42.6V40H422.6V102" fill="none" stroke="#111" stroke-width="0.9"/>
<text x="408.6" y="40.4" font-size="10" font-family="Liberation Sans, sans-serif" fill="#111" stroke="#111" stroke-width="0.22" text-anchor="middle" font-weight="bold" textLength="10.6" lengthAdjust="spacingAndGlyphs">***</text>
<text x="387" y="24.6" font-size="9.3" font-family="Liberation Sans, sans-serif" fill="#111" stroke="#111" stroke-width="0.22" textLength="28.6" lengthAdjust="spacingAndGlyphs">Spleen</text>
<line x1="462.7" y1="37.1" x2="462.7" y2="118.6" stroke="#111" stroke-width="1.1"/>
<line x1="460.09999999999997" y1="118.1" x2="520" y2="118.1" stroke="#111" stroke-width="1.1"/>
<line x1="460.09999999999997" y1="118.1" x2="462.7" y2="118.1" stroke="#111" stroke-width="1"/>
<text x="458.6" y="120.8" font-size="7.6" font-family="Liberation Sans, sans-serif" fill="#111" stroke="#111" stroke-width="0.22" text-anchor="end">0</text>
<line x1="460.09999999999997" y1="97.97" x2="462.7" y2="97.97" stroke="#111" stroke-width="1"/>
<text x="458.6" y="100.7" font-size="7.6" font-family="Liberation Sans, sans-serif" fill="#111" stroke="#111" stroke-width="0.22" text-anchor="end">1</text>
<line x1="460.09999999999997" y1="77.85" x2="462.7" y2="77.85" stroke="#111" stroke-width="1"/>
<text x="458.6" y="80.5" font-size="7.6" font-family="Liberation Sans, sans-serif" fill="#111" stroke="#111" stroke-width="0.22" text-anchor="end">2</text>
<line x1="460.09999999999997" y1="57.72" x2="462.7" y2="57.72" stroke="#111" stroke-width="1"/>
<text x="458.6" y="60.4" font-size="7.6" font-family="Liberation Sans, sans-serif" fill="#111" stroke="#111" stroke-width="0.22" text-anchor="end">3</text>
<line x1="460.09999999999997" y1="37.6" x2="462.7" y2="37.6" stroke="#111" stroke-width="1"/>
<text x="458.6" y="40.3" font-size="7.6" font-family="Liberation Sans, sans-serif" fill="#111" stroke="#111" stroke-width="0.22" text-anchor="end">4</text>
<line x1="476.05" y1="44.8" x2="476.05" y2="49.6" stroke="#111" stroke-width="1"/>
<line x1="471.05" y1="44.8" x2="481.05" y2="44.8" stroke="#111" stroke-width="1"/>
<rect x="466.7" y="49.6" width="18.7" height="68.5" fill="#000" stroke="none" stroke-width="0"/>
<line x1="503.15" y1="90.2" x2="503.15" y2="97.5" stroke="#111" stroke-width="1"/>
<line x1="498.15" y1="90.2" x2="508.15" y2="90.2" stroke="#111" stroke-width="1"/>
<rect x="494.5" y="98.0" width="17.3" height="20.1" fill="#c4c4c4" stroke="#111" stroke-width="1"/>
<path d="M476.3 39V36.5H503V85" fill="none" stroke="#111" stroke-width="0.9"/>
<text x="490" y="38.1" font-size="10" font-family="Liberation Sans, sans-serif" fill="#111" stroke="#111" stroke-width="0.22" text-anchor="middle" font-weight="bold" textLength="7" lengthAdjust="spacingAndGlyphs">**</text>
<text x="480.2" y="24.3" font-size="9.3" font-family="Liberation Sans, sans-serif" fill="#111" stroke="#111" stroke-width="0.22" textLength="11.3" lengthAdjust="spacingAndGlyphs">LN</text>
<line x1="194.5" y1="221.6" x2="194.5" y2="291.7" stroke="#111" stroke-width="1.1"/>
<line x1="191.9" y1="291.2" x2="242" y2="291.2" stroke="#111" stroke-width="1.1"/>
<line x1="191.9" y1="291.2" x2="194.5" y2="291.2" stroke="#111" stroke-width="1"/>
<text x="190.4" y="293.9" font-size="7.6" font-family="Liberation Sans, sans-serif" fill="#111" stroke="#111" stroke-width="0.22" text-anchor="end">0</text>
<line x1="191.9" y1="277.38" x2="194.5" y2="277.38" stroke="#111" stroke-width="1"/>
<text x="190.4" y="280.1" font-size="7.6" font-family="Liberation Sans, sans-serif" fill="#111" stroke="#111" stroke-width="0.22" text-anchor="end">1</text>
<line x1="191.9" y1="263.56" x2="194.5" y2="263.56" stroke="#111" stroke-width="1"/>
<text x="190.4" y="266.3" font-size="7.6" font-family="Liberation Sans, sans-serif" fill="#111" stroke="#111" stroke-width="0.22" text-anchor="end">2</text>
<line x1="191.9" y1="249.74" x2="194.5" y2="249.74" stroke="#111" stroke-width="1"/>
<text x="190.4" y="252.4" font-size="7.6" font-family="Liberation Sans, sans-serif" fill="#111" stroke="#111" stroke-width="0.22" text-anchor="end">3</text>
<line x1="191.9" y1="235.92" x2="194.5" y2="235.92" stroke="#111" stroke-width="1"/>
<text x="190.4" y="238.6" font-size="7.6" font-family="Liberation Sans, sans-serif" fill="#111" stroke="#111" stroke-width="0.22" text-anchor="end">4</text>
<line x1="191.9" y1="222.1" x2="194.5" y2="222.1" stroke="#111" stroke-width="1"/>
<text x="190.4" y="224.8" font-size="7.6" font-family="Liberation Sans, sans-serif" fill="#111" stroke="#111" stroke-width="0.22" text-anchor="end">5</text>
<line x1="206.0" y1="239.6" x2="206.0" y2="242.5" stroke="#111" stroke-width="1"/>
<line x1="201.0" y1="239.6" x2="211.0" y2="239.6" stroke="#111" stroke-width="1"/>
<rect x="198" y="242.5" width="16" height="48.7" fill="#000" stroke="none" stroke-width="0"/>
<line x1="229.5" y1="231" x2="229.5" y2="233.3" stroke="#111" stroke-width="1"/>
<line x1="224.5" y1="231" x2="234.5" y2="231" stroke="#111" stroke-width="1"/>
<rect x="222.0" y="233.8" width="15.0" height="57.4" fill="#c4c4c4" stroke="#111" stroke-width="1"/>
<path d="M205.8 225.8V223.3H228.8V225.8" fill="none" stroke="#111" stroke-width="0.9"/>
<text x="216.8" y="220.6" font-size="8.3" font-family="Liberation Sans, sans-serif" fill="#111" stroke="#111" stroke-width="0.22" text-anchor="middle">n.s.</text>
<text x="198" y="208.8" font-size="9.3" font-family="Liberation Sans, sans-serif" fill="#111" stroke="#111" stroke-width="0.22" textLength="32.4" lengthAdjust="spacingAndGlyphs">Thymus</text>
<line x1="263.5" y1="218.5" x2="263.5" y2="291.9" stroke="#111" stroke-width="1.1"/>
<line x1="260.9" y1="291.4" x2="310.8" y2="291.4" stroke="#111" stroke-width="1.1"/>
<line x1="260.9" y1="291.4" x2="263.5" y2="291.4" stroke="#111" stroke-width="1"/>
<text x="259.4" y="294.1" font-size="7.6" font-family="Liberation Sans, sans-serif" fill="#111" stroke="#111" stroke-width="0.22" text-anchor="end">0.0</text>
<line x1="260.9" y1="273.3" x2="263.5" y2="273.3" stroke="#111" stroke-width="1"/>
<text x="259.4" y="276.0" font-size="7.6" font-family="Liberation Sans, sans-serif" fill="#111" stroke="#111" stroke-width="0.22" text-anchor="end">0.5</text>
<line x1="260.9" y1="255.2" x2="263.5" y2="255.2" stroke="#111" stroke-width="1"/>
<text x="259.4" y="257.9" font-size="7.6" font-family="Liberation Sans, sans-serif" fill="#111" stroke="#111" stroke-width="0.22" text-anchor="end">1.0</text>
<line x1="260.9" y1="237.1" x2="263.5" y2="237.1" stroke="#111" stroke-width="1"/>
<text x="259.4" y="239.8" font-size="7.6" font-family="Liberation Sans, sans-serif" fill="#111" stroke="#111" stroke-width="0.22" text-anchor="end">1.5</text>
<line x1="260.9" y1="219.0" x2="263.5" y2="219.0" stroke="#111" stroke-width="1"/>
<text x="259.4" y="221.7" font-size="7.6" font-family="Liberation Sans, sans-serif" fill="#111" stroke="#111" stroke-width="0.22" text-anchor="end">2.0</text>
<line x1="275.35" y1="228.7" x2="275.35" y2="231.5" stroke="#111" stroke-width="1"/>
<line x1="270.35" y1="228.7" x2="280.35" y2="228.7" stroke="#111" stroke-width="1"/>
<rect x="267" y="231.5" width="16.7" height="59.9" fill="#000" stroke="none" stroke-width="0"/>
<line x1="299.5" y1="229.5" x2="299.5" y2="230.6" stroke="#111" stroke-width="1"/>
<line x1="294.5" y1="229.5" x2="304.5" y2="229.5" stroke="#111" stroke-width="1"/>
<rect x="291.8" y="231.1" width="15.4" height="60.3" fill="#c4c4c4" stroke="#111" stroke-width="1"/>
<path d="M275.6 226V223.4H299.6V226" fill="none" stroke="#111" stroke-width="0.9"/>
<text x="287.3" y="220.3" font-size="8.3" font-family="Liberation Sans, sans-serif" fill="#111" stroke="#111" stroke-width="0.22" text-anchor="middle">n.s.</text>
<text x="275" y="208.8" font-size="9.3" font-family="Liberation Sans, sans-serif" fill="#111" stroke="#111" stroke-width="0.22" textLength="11.2" lengthAdjust="spacingAndGlyphs">LN</text>
<line x1="334" y1="218.2" x2="334" y2="291.9" stroke="#111" stroke-width="1.1"/>
<line x1="331.4" y1="291.4" x2="380" y2="291.4" stroke="#111" stroke-width="1.1"/>
<line x1="331.4" y1="291.4" x2="334" y2="291.4" stroke="#111" stroke-width="1"/>
<text x="329.9" y="294.1" font-size="7.6" font-family="Liberation Sans, sans-serif" fill="#111" stroke="#111" stroke-width="0.22" text-anchor="end">0.0</text>
<line x1="331.4" y1="273.22" x2="334" y2="273.22" stroke="#111" stroke-width="1"/>
<text x="329.9" y="275.9" font-size="7.6" font-family="Liberation Sans, sans-serif" fill="#111" stroke="#111" stroke-width="0.22" text-anchor="end">0.5</text>
<line x1="331.4" y1="255.05" x2="334" y2="255.05" stroke="#111" stroke-width="1"/>
<text x="329.9" y="257.8" font-size="7.6" font-family="Liberation Sans, sans-serif" fill="#111" stroke="#111" stroke-width="0.22" text-anchor="end">1.0</text>
<line x1="331.4" y1="236.88" x2="334" y2="236.88" stroke="#111" stroke-width="1"/>
<text x="329.9" y="239.6" font-size="7.6" font-family="Liberation Sans, sans-serif" fill="#111" stroke="#111" stroke-width="0.22" text-anchor="end">1.5</text>
<line x1="331.4" y1="218.7" x2="334" y2="218.7" stroke="#111" stroke-width="1"/>
<text x="329.9" y="221.4" font-size="7.6" font-family="Liberation Sans, sans-serif" fill="#111" stroke="#111" stroke-width="0.22" text-anchor="end">2.0</text>
<line x1="346.05" y1="234.4" x2="346.05" y2="236" stroke="#111" stroke-width="1"/>
<line x1="341.05" y1="234.4" x2="351.05" y2="234.4" stroke="#111" stroke-width="1"/>
<rect x="337.5" y="236" width="17.1" height="55.4" fill="#000" stroke="none" stroke-width="0"/>
<line x1="370.5" y1="234.8" x2="370.5" y2="236" stroke="#111" stroke-width="1"/>
<line x1="365.5" y1="234.8" x2="375.5" y2="234.8" stroke="#111" stroke-width="1"/>
<rect x="362.8" y="236.5" width="15.4" height="54.9" fill="#c4c4c4" stroke="#111" stroke-width="1"/>
<path d="M345.2 226V223.5H369.6V226" fill="none" stroke="#111" stroke-width="0.9"/>
<text x="357.4" y="220.1" font-size="8.3" font-family="Liberation Sans, sans-serif" fill="#111" stroke="#111" stroke-width="0.22" text-anchor="middle">n.s.</text>
<text x="337" y="208.8" font-size="9.3" font-family="Liberation Sans, sans-serif" fill="#111" stroke="#111" stroke-width="0.22" textLength="28.8" lengthAdjust="spacingAndGlyphs">Spleen</text>
<text x="182.3" y="115.8" font-size="9.2" font-family="Liberation Sans, sans-serif" fill="#111" stroke="#111" stroke-width="0.22" transform="rotate(-90 182.3 115.8)" textLength="18.3" lengthAdjust="spacingAndGlyphs">CD3</text>
<text x="175.6" y="95" font-size="6.2" font-family="Liberation Sans, sans-serif" fill="#111" stroke="#111" stroke-width="0.1" transform="rotate(-90 175.6 95)">&#8722;</text>
<text x="182.3" y="88.8" font-size="9.2" font-family="Liberation Sans, sans-serif" fill="#111" stroke="#111" stroke-width="0.22" transform="rotate(-90 182.3 88.8)" textLength="29.2" lengthAdjust="spacingAndGlyphs">NKp46</text>
<text x="176.2" y="57.4" font-size="6.4" font-family="Liberation Sans, sans-serif" fill="#111" stroke="#111" stroke-width="0.1" transform="rotate(-90 176.2 57.4)">+</text>
<text x="182.3" y="52" font-size="9.2" font-family="Liberation Sans, sans-serif" fill="#111" stroke="#111" stroke-width="0.22" transform="rotate(-90 182.3 52)" textLength="14.5" lengthAdjust="spacingAndGlyphs">(%)</text>
<text x="361.6" y="109.4" font-size="9.4" font-family="Liberation Sans, sans-serif" fill="#111" stroke="#111" stroke-width="0.22" transform="rotate(-90 361.6 109.4)" textLength="57" lengthAdjust="spacingAndGlyphs">NK cells (x 10</text>
<text x="357.2" y="50.8" font-size="6" font-family="Liberation Sans, sans-serif" fill="#111" stroke="#111" stroke-width="0.1" transform="rotate(-90 357.2 50.8)">6</text>
<text x="361.6" y="46.6" font-size="9.4" font-family="Liberation Sans, sans-serif" fill="#111" stroke="#111" stroke-width="0.22" transform="rotate(-90 361.6 46.6)">)</text>
<text x="445.6" y="109.4" font-size="9.4" font-family="Liberation Sans, sans-serif" fill="#111" stroke="#111" stroke-width="0.22" transform="rotate(-90 445.6 109.4)" textLength="57" lengthAdjust="spacingAndGlyphs">NK cells (x 10</text>
<text x="441.2" y="50.8" font-size="6" font-family="Liberation Sans, sans-serif" fill="#111" stroke="#111" stroke-width="0.1" transform="rotate(-90 441.2 50.8)">5</text>
<text x="445.6" y="46.6" font-size="9.4" font-family="Liberation Sans, sans-serif" fill="#111" stroke="#111" stroke-width="0.22" transform="rotate(-90 445.6 46.6)">)</text>
<text x="183.2" y="286.5" font-size="9.1" font-family="Liberation Sans, sans-serif" fill="#111" stroke="#111" stroke-width="0.22" transform="rotate(-90 183.2 286.5)" textLength="59.5" lengthAdjust="spacingAndGlyphs">CD4/CD8 ratio</text>
<rect x="216.9" y="130.5" width="9.0" height="4.2" fill="#000" stroke="none" stroke-width="0"/>
<rect x="217.4" y="141.8" width="8.0" height="3.4" fill="#c4c4c4" stroke="#111" stroke-width="1"/>
<text x="229.2" y="136.1" font-size="9" font-family="Liberation Sans, sans-serif" fill="#111" stroke="#111" stroke-width="0.22" font-style="italic" textLength="21" lengthAdjust="spacingAndGlyphs">Stat5</text>
<text x="250.8" y="132" font-size="6.2" font-family="Liberation Sans, sans-serif" fill="#111" stroke="#111" stroke-width="0.1" font-style="italic">f/f</text>
<text x="229.2" y="146.7" font-size="9" font-family="Liberation Sans, sans-serif" fill="#111" stroke="#111" stroke-width="0.22" font-style="italic" textLength="21" lengthAdjust="spacingAndGlyphs">Stat5</text>
<text x="250.8" y="142.6" font-size="6.2" font-family="Liberation Sans, sans-serif" fill="#111" stroke="#111" stroke-width="0.1" font-style="italic">f/f</text>
<text x="258.9" y="146.7" font-size="9" font-family="Liberation Sans, sans-serif" fill="#111" stroke="#111" stroke-width="0.22" textLength="50.2" lengthAdjust="spacingAndGlyphs"><tspan font-style="italic">Ncr1</tspan>-iCreTg</text>
<rect x="396.5" y="130.4" width="9.0" height="4.2" fill="#000" stroke="none" stroke-width="0"/>
<rect x="397.0" y="141.7" width="8.0" height="3.4" fill="#c4c4c4" stroke="#111" stroke-width="1"/>
<text x="408.8" y="136.5" font-size="9" font-family="Liberation Sans, sans-serif" fill="#111" stroke="#111" stroke-width="0.22" font-style="italic" textLength="19.8" lengthAdjust="spacingAndGlyphs">Stat5</text>
<text x="431.2" y="131" font-size="6.2" font-family="Liberation Sans, sans-serif" fill="#111" stroke="#111" stroke-width="0.1" font-style="italic">f/f</text>
<text x="408.8" y="146.9" font-size="9" font-family="Liberation Sans, sans-serif" fill="#111" stroke="#111" stroke-width="0.22" font-style="italic" textLength="19.8" lengthAdjust="spacingAndGlyphs">Stat5</text>
<text x="429.8" y="141.7" font-size="6.2" font-family="Liberation Sans, sans-serif" fill="#111" stroke="#111" stroke-width="0.1" font-style="italic">f/f</text>
<text x="438" y="146.9" font-size="9" font-family="Liberation Sans, sans-serif" fill="#111" stroke="#111" stroke-width="0.22" textLength="49.7" lengthAdjust="spacingAndGlyphs"><tspan font-style="italic">Ncr1</tspan>-iCreTg</text>
<rect x="256.5" y="306.9" width="9.0" height="4.2" fill="#000" stroke="none" stroke-width="0"/>
<rect x="257.0" y="318.2" width="8.0" height="3.4" fill="#c4c4c4" stroke="#111" stroke-width="1"/>
<text x="268.8" y="313" font-size="9" font-family="Liberation Sans, sans-serif" fill="#111" stroke="#111" stroke-width="0.22" font-style="italic" textLength="19.8" lengthAdjust="spacingAndGlyphs">Stat5</text>
<text x="290.3" y="307.5" font-size="6.2" font-family="Liberation Sans, sans-serif" fill="#111" stroke="#111" stroke-width="0.1" font-style="italic">f/f</text>
<text x="268.8" y="323.4" font-size="9" font-family="Liberation Sans, sans-serif" fill="#111" stroke="#111" stroke-width="0.22" font-style="italic" textLength="19.8" lengthAdjust="spacingAndGlyphs">Stat5</text>
<text x="289.7" y="318" font-size="6.2" font-family="Liberation Sans, sans-serif" fill="#111" stroke="#111" stroke-width="0.1" font-style="italic">f/f</text>
<text x="298" y="323.4" font-size="9" font-family="Liberation Sans, sans-serif" fill="#111" stroke="#111" stroke-width="0.22" textLength="50.3" lengthAdjust="spacingAndGlyphs"><tspan font-style="italic">Ncr1</tspan>-iCreTg</text>
<text x="38" y="195.2" font-size="9" font-family="Liberation Sans, sans-serif" fill="#111" stroke="#111" stroke-width="0.22" font-style="italic" textLength="20.7" lengthAdjust="spacingAndGlyphs">Stat5</text>
<text x="60.3" y="190.2" font-size="6.2" font-family="Liberation Sans, sans-serif" fill="#111" stroke="#111" stroke-width="0.1" font-style="italic">f/f</text>
<text x="83" y="184.2" font-size="9.1" font-family="Liberation Sans, sans-serif" fill="#111" stroke="#111" stroke-width="0.22" font-style="italic" textLength="21.6" lengthAdjust="spacingAndGlyphs">Stat5</text>
<text x="106.2" y="179.2" font-size="6.2" font-family="Liberation Sans, sans-serif" fill="#111" stroke="#111" stroke-width="0.1" font-style="italic">f/f</text>
<text x="83" y="195.8" font-size="9.1" font-family="Liberation Sans, sans-serif" fill="#111" stroke="#111" stroke-width="0.22" textLength="49.4" lengthAdjust="spacingAndGlyphs"><tspan font-style="italic">Ncr1</tspan>-iCreTg</text>
<g filter="url(#s)">
<g filter="url(#b2)">
<path d="M52.5 209.6 L63 208.4 L69.8 207.4 L70.4 209 L63 222.4 L59.5 223 L52 216.6 Z" fill="#000"/>
<path d="M28 210.8 L54 209.8 L54 216.6 L42 215.8 L28 213.6 Z" fill="#000"/>
</g>
<path d="M31.6 209.1h0M32.6 213.5h0M47.2 212.7h0M40.7 215.7h0M36.9 209.2h0M27.8 211.8h0M45.5 213.7h0M38.3 213.9h0M39.6 211.1h0M37.0 213.8h0M47.5 210.4h0M32.2 212.6h0M56.7 210.3h0M30.2 213.2h0M44.0 211.3h0M39.8 213.3h0M26.3 212.4h0M44.7 214.1h0M49.1 212.3h0M28.7 214.8h0M46.1 211.2h0M48.1 214.3h0M38.9 208.1h0M36.3 211.0h0M33.4 212.3h0M31.5 213.1h0M54.8 210.2h0M48.2 211.4h0M44.3 212.2h0M50.1 211.1h0M45.7 211.0h0M41.8 212.4h0M48.5 209.5h0M29.4 214.9h0M43.0 215.5h0M31.9 212.8h0M44.7 215.6h0M39.6 211.6h0M45.6 212.2h0M34.1 213.8h0M50.7 211.5h0M37.5 213.1h0M48.8 213.4h0M32.5 211.4h0M48.2 212.2h0M35.1 214.0h0M48.9 216.4h0M31.6 211.1h0M34.6 213.0h0M36.3 214.4h0M35.0 211.9h0M44.4 212.8h0M32.1 215.1h0M44.5 211.5h0M41.6 210.4h0M30.4 211.9h0M42.9 212.6h0M33.9 209.9h0M26.9 215.3h0M42.9 210.9h0M49.3 213.4h0M36.8 211.3h0M48.9 213.0h0M52.8 213.1h0M35.4 211.3h0M34.5 212.9h0M42.0 213.5h0M43.5 210.5h0M38.4 210.7h0M43.8 210.0h0M35.5 210.8h0M35.2 211.9h0M51.8 211.9h0M28.8 211.9h0M45.8 213.4h0M41.9 216.0h0M48.6 212.6h0M49.5 210.0h0M38.7 210.8h0M41.4 215.3h0M36.1 215.3h0M32.0 215.0h0M26.8 210.9h0M47.8 212.2h0M41.1 212.4h0M41.4 212.1h0M32.4 211.9h0M40.9 210.8h0M43.6 215.6h0M27.2 211.4h0M37.8 212.4h0M40.7 211.1h0M39.7 212.4h0M39.3 215.2h0M41.0 209.7h0M27.8 213.5h0M37.3 211.3h0M29.5 211.8h0M39.3 211.1h0M37.3 214.0h0M46.1 213.4h0M38.7 209.9h0M46.0 215.1h0M49.9 214.5h0M42.2 213.1h0M39.9 214.7h0M37.9 216.3h0M46.0 211.8h0M40.0 209.5h0M34.3 211.9h0M59.0 210.9h0M47.1 212.5h0M37.7 213.5h0M55.0 212.9h0M39.5 212.7h0M45.2 211.5h0M40.9 213.3h0M37.3 213.1h0M42.6 213.7h0M32.3 211.4h0M36.7 214.6h0M41.9 209.4h0M30.1 215.9h0M42.6 210.0h0M32.9 212.7h0M51.1 215.4h0M37.2 211.9h0M54.9 210.6h0M52.1 213.0h0M40.7 214.7h0M43.8 210.9h0M28.2 212.4h0M44.0 214.9h0M44.8 215.2h0M46.2 212.8h0M43.4 213.1h0M35.1 212.2h0M41.0 211.6h0M28.6 209.8h0M43.9 213.4h0M40.8 210.3h0M46.6 211.7h0M28.4 216.5h0M44.1 211.6h0M51.5 214.9h0M42.0 209.3h0M37.0 211.9h0M43.6 212.2h0M42.7 209.4h0M35.0 215.0h0M28.7 214.1h0M57.9 213.6h0M29.2 214.7h0M36.8 214.7h0M49.2 212.7h0M53.9 214.2h0M36.3 210.6h0M59.1 211.7h0M43.2 212.2h0M36.3 209.5h0M38.9 212.2h0M47.6 211.5h0M27.9 210.4h0M39.7 212.9h0M45.6 211.7h0M44.2 212.7h0M53.1 212.3h0M41.1 213.4h0M49.5 210.7h0M36.3 211.9h0M48.3 212.4h0M66.2 214.7h0M55.7 215.3h0M47.0 209.8h0M51.9 213.2h0M30.7 212.5h0M45.9 214.2h0M41.4 211.4h0M45.9 211.0h0M39.4 213.8h0M28.8 213.1h0M30.4 212.2h0M45.6 212.3h0M47.1 212.6h0M38.4 213.3h0M38.2 212.6h0M48.1 211.4h0M49.0 210.4h0M38.3 209.2h0M35.9 215.3h0M42.8 214.7h0M28.6 210.5h0M43.6 213.9h0M46.5 209.3h0M44.0 212.3h0M40.9 213.3h0M37.8 209.3h0M31.7 209.8h0M29.8 212.2h0M50.2 211.1h0M34.1 210.3h0M26.6 212.5h0M36.2 212.0h0M32.5 213.3h0M30.7 213.4h0M34.9 213.8h0M33.1 213.2h0M43.4 212.3h0M52.7 212.7h0M33.1 213.7h0M33.6 211.4h0M40.1 212.7h0M53.3 209.2h0M38.0 214.5h0M38.8 213.0h0M51.9 210.1h0M40.3 213.9h0M35.4 209.2h0M32.2 212.8h0M41.5 215.8h0M50.3 209.6h0M48.1 214.1h0M52.6 212.1h0M35.7 212.7h0M52.1 213.5h0M53.2 213.8h0M35.4 210.5h0M54.4 209.6h0M37.3 211.8h0M32.9 211.4h0M40.0 216.8h0M39.5 211.4h0M41.0 214.1h0M33.6 211.7h0M26.4 213.7h0M45.3 215.2h0M30.7 216.4h0M46.8 211.9h0M37.0 211.8h0M30.5 213.8h0M35.3 211.1h0M44.0 212.6h0M35.4 212.0h0M36.2 214.9h0M47.8 211.1h0M39.7 214.9h0M37.8 215.7h0M43.5 213.6h0M42.7 213.5h0M43.8 213.4h0M36.0 214.1h0M40.5 210.5h0M32.1 212.7h0M42.6 208.3h0M39.9 217.6h0M28.0 211.9h0M35.3 213.4h0M51.0 215.4h0M32.1 214.7h0M30.5 213.0h0M41.3 213.5h0M33.8 214.9h0M39.5 212.4h0M37.9 210.4h0M45.6 213.0h0M43.6 215.8h0M33.2 211.9h0M40.1 214.0h0M38.6 214.1h0M43.6 209.2h0M34.7 208.7h0M37.8 211.6h0M44.6 212.7h0M39.5 214.7h0M44.6 210.1h0M34.6 213.0h0M53.3 212.0h0M38.7 212.9h0M46.1 212.2h0M42.3 211.6h0M35.7 210.9h0M45.1 211.4h0M44.3 213.1h0M47.6 207.5h0M32.5 210.2h0M38.7 213.9h0M59.8 215.2h0M50.6 213.1h0M37.0 213.4h0M40.1 213.5h0M32.0 210.4h0M35.0 212.3h0M42.7 211.7h0M42.7 213.7h0M30.9 212.2h0M27.8 211.4h0M47.1 211.1h0M54.6 213.3h0M47.0 212.6h0M46.8 214.4h0M40.8 211.4h0M35.7 216.0h0M38.6 211.6h0M34.5 209.3h0M36.1 213.0h0M36.2 211.0h0M43.2 213.2h0M36.6 213.0h0M32.4 214.0h0M32.3 211.8h0M41.1 211.6h0M31.1 216.3h0M51.9 209.2h0M40.9 210.1h0M42.4 210.0h0M44.5 213.4h0M53.4 214.6h0M36.4 214.1h0M36.4 212.2h0M36.1 209.1h0M44.7 208.6h0M38.2 213.4h0M40.9 209.5h0M34.9 213.7h0M48.6 215.4h0M36.2 213.8h0M26.8 212.1h0M45.5 211.2h0M37.2 210.6h0M48.7 209.9h0M52.6 213.7h0M56.1 223.2h0M59.6 211.8h0M61.4 216.3h0M59.7 214.7h0M60.7 210.4h0M51.0 213.3h0M51.5 217.7h0M69.4 219.8h0M60.6 216.3h0M54.0 209.9h0M61.2 209.2h0M59.8 214.5h0M62.4 215.2h0M58.6 212.7h0M47.9 213.7h0M62.1 219.1h0M66.1 211.1h0M52.5 217.7h0M55.3 225.0h0M59.8 209.1h0M54.7 221.1h0M47.3 215.6h0M49.9 221.2h0M55.4 211.0h0M48.0 212.2h0M43.0 213.2h0M70.8 215.4h0M56.4 210.5h0M60.0 213.2h0M53.0 220.4h0M60.6 211.5h0M66.7 214.8h0M61.0 215.6h0M64.9 217.4h0M56.0 217.8h0M55.7 215.5h0M67.6 210.9h0M51.9 213.4h0M55.1 220.1h0M48.7 223.9h0M67.3 213.2h0M59.1 213.6h0M61.9 217.6h0M62.4 218.0h0M69.3 214.3h0M62.1 214.3h0M58.2 215.9h0M57.7 216.3h0M53.0 214.4h0M54.5 210.4h0M53.9 213.1h0M57.1 208.9h0M56.5 210.6h0M53.2 215.7h0M64.5 216.1h0M55.1 213.3h0M65.9 208.7h0M64.7 209.1h0M54.3 215.2h0M56.7 221.5h0M60.9 214.8h0M63.6 215.1h0M53.3 219.4h0M66.8 220.0h0M51.1 222.4h0M55.6 218.0h0M65.0 224.3h0M48.5 211.0h0M64.9 216.9h0M56.2 203.6h0M60.6 214.3h0M42.7 225.5h0M43.3 212.8h0M58.0 215.9h0M62.4 214.0h0M52.7 213.6h0M45.6 210.6h0M69.6 212.3h0M57.5 222.4h0M64.2 215.5h0M62.3 213.9h0M52.7 218.9h0M58.8 221.3h0M56.5 213.5h0M60.0 214.3h0M56.2 211.5h0M59.5 216.3h0M68.8 214.9h0M47.7 216.8h0M71.5 213.3h0M53.3 214.3h0M41.2 213.7h0M56.9 209.1h0M61.4 211.6h0M47.1 212.2h0M61.7 222.5h0M65.4 215.8h0M55.0 214.0h0M63.7 213.0h0M60.5 218.8h0M52.7 212.7h0M60.6 215.0h0M57.3 212.9h0M57.6 222.3h0M66.0 208.7h0M58.3 215.4h0M58.2 209.6h0M57.2 215.6h0M54.0 216.2h0M43.7 209.1h0M58.6 216.5h0M57.0 213.2h0M59.1 219.2h0M63.3 214.7h0M55.3 219.2h0M61.2 218.5h0M56.4 211.6h0M59.1 212.6h0M64.8 218.3h0M45.2 217.6h0M65.8 219.1h0M55.2 211.6h0M63.7 219.0h0M58.4 210.5h0M49.0 216.0h0M53.1 212.3h0M60.6 219.1h0M45.8 212.4h0M65.7 214.8h0M56.0 217.5h0M51.3 210.2h0M58.1 221.1h0M64.0 215.0h0M64.0 213.4h0M51.1 208.4h0M59.6 218.5h0M60.2 214.9h0M55.6 219.3h0M57.7 209.4h0M66.1 212.5h0M60.3 215.0h0M64.2 216.0h0M65.2 215.8h0M55.3 213.0h0M61.8 211.8h0M63.5 214.1h0M52.5 211.6h0M57.1 221.9h0M62.5 215.1h0M52.7 222.5h0M56.4 215.0h0M55.5 220.2h0M59.0 213.2h0M59.1 211.1h0M51.8 214.4h0M41.0 219.6h0M69.7 210.6h0M57.2 208.8h0M59.0 215.8h0M62.4 209.8h0M54.5 212.5h0M56.6 224.0h0M56.8 214.8h0M55.0 218.1h0M73.1 219.6h0M67.0 210.8h0M64.2 215.1h0M65.4 219.2h0M61.9 208.4h0M58.8 213.0h0M60.6 215.1h0M64.2 208.7h0M53.6 214.7h0M59.9 213.4h0M57.8 215.2h0M64.2 214.6h0M59.4 207.9h0M42.6 209.3h0M60.1 206.0h0M60.4 214.6h0M58.0 212.1h0M55.5 218.3h0M60.1 214.9h0M55.1 215.8h0M65.0 214.9h0M55.8 210.4h0M58.6 211.4h0M49.5 218.4h0M54.3 207.0h0M53.8 222.2h0M57.4 209.8h0M51.5 217.8h0M60.4 215.8h0M56.8 216.9h0M67.1 216.9h0M57.0 209.5h0M60.6 221.2h0M61.8 210.1h0M59.1 220.1h0M54.3 216.9h0M65.1 221.4h0M48.6 208.1h0M60.2 217.8h0M55.9 214.9h0M55.6 219.7h0M44.9 216.0h0M50.4 212.3h0M48.9 211.4h0M57.9 215.1h0M68.6 214.1h0M60.0 216.4h0M59.5 220.8h0M58.8 215.6h0M57.3 215.0h0M57.7 218.9h0M58.1 215.3h0M57.7 218.0h0M55.2 218.7h0M54.6 217.7h0M69.4 215.9h0M57.5 210.4h0M62.4 215.1h0M63.4 212.4h0M61.1 222.1h0M60.4 213.7h0M50.3 215.0h0M61.9 217.4h0M51.4 211.0h0M52.2 211.0h0M56.4 216.0h0M69.4 215.8h0M66.6 208.5h0M67.1 218.1h0M60.6 218.3h0M61.7 222.5h0M62.8 208.1h0M47.7 221.4h0M57.5 220.2h0M56.0 212.4h0M56.0 216.2h0M59.1 212.6h0M61.2 217.4h0M52.6 210.6h0M46.4 213.8h0M58.1 212.3h0M54.4 214.5h0M58.2 217.3h0M62.9 216.7h0M64.6 211.2h0M61.6 216.5h0M51.8 212.3h0M60.6 215.3h0M50.6 212.8h0M67.0 218.3h0M58.5 220.3h0M52.6 214.3h0M63.7 213.7h0M51.4 217.3h0M67.5 205.0h0M58.9 210.1h0M56.2 209.4h0M73.4 212.3h0M58.3 212.2h0M52.1 213.2h0M59.2 221.9h0M59.7 221.2h0M51.7 215.3h0M55.4 208.8h0M59.4 212.0h0M54.6 210.9h0M64.1 213.4h0M57.1 215.7h0M50.7 215.9h0M57.0 216.8h0M55.7 215.2h0M61.1 218.8h0M53.9 218.8h0M52.2 214.3h0M58.8 215.6h0M43.2 211.1h0M56.9 218.7h0M53.8 221.0h0M47.3 215.3h0M61.2 215.1h0M59.6 218.7h0M53.2 217.3h0M64.3 214.1h0M44.3 210.3h0M52.9 210.8h0M60.6 211.8h0M72.7 217.3h0M50.3 213.9h0M67.1 217.7h0M52.0 219.1h0M55.2 223.8h0M54.7 217.4h0M61.3 213.2h0M57.1 219.6h0M61.0 214.8h0M63.8 227.6h0M65.7 221.4h0M63.3 211.3h0M62.5 216.6h0M64.9 216.0h0M63.8 213.8h0M65.5 215.4h0M61.9 221.9h0M60.7 219.0h0M66.2 227.7h0M54.9 214.5h0M64.7 223.6h0M60.1 219.5h0M61.2 230.2h0M61.2 213.1h0M55.9 212.7h0M67.2 217.1h0M69.7 222.2h0M63.5 222.2h0M65.1 223.5h0M58.1 216.2h0M59.8 219.5h0M61.0 212.9h0M59.3 227.8h0M70.4 214.8h0M63.5 218.8h0M58.7 222.5h0M61.7 227.2h0M63.8 217.5h0M51.5 218.5h0M65.4 215.5h0M65.5 222.4h0M55.0 218.0h0M63.3 222.7h0M62.6 218.9h0M60.6 217.6h0M62.0 213.8h0M64.5 217.4h0M64.1 216.5h0M63.6 219.6h0M65.5 221.3h0M65.7 218.2h0M61.8 217.7h0M57.0 218.4h0M66.3 222.8h0M58.6 220.5h0M65.0 212.3h0M63.4 220.6h0M65.0 220.3h0M55.1 209.1h0M69.8 217.1h0M67.0 225.2h0M62.3 213.4h0M67.4 218.8h0M64.1 221.4h0M65.8 224.0h0M56.4 212.1h0M62.6 219.0h0M65.1 218.3h0M61.3 229.0h0M67.4 224.7h0M66.1 215.1h0M61.7 218.7h0M57.7 214.7h0M62.6 213.0h0M64.1 221.3h0M61.1 217.3h0M64.4 221.4h0M63.4 213.0h0M55.6 229.1h0M59.4 217.2h0M54.8 215.1h0M59.1 222.9h0M51.6 212.1h0M60.4 216.6h0M58.9 216.8h0M55.8 220.3h0M66.7 219.8h0M59.9 225.2h0M63.9 213.9h0M59.7 216.0h0M61.8 225.0h0M59.2 218.3h0M62.4 213.1h0M60.1 222.0h0M66.5 209.8h0M64.8 217.6h0M67.1 222.1h0M69.8 220.5h0M60.4 214.9h0M56.3 221.7h0M64.0 223.0h0M63.4 211.6h0M60.4 217.8h0M62.6 222.8h0M67.6 220.4h0M53.8 214.0h0M53.6 215.2h0M57.3 220.2h0M61.1 224.5h0M66.3 216.8h0M65.7 219.1h0M63.8 225.6h0M57.5 218.7h0M68.1 215.3h0M62.9 219.7h0M60.4 212.6h0M59.3 214.2h0M66.3 220.2h0M64.8 213.2h0M47.5 231.8h0M51.3 226.8h0M49.6 239.1h0M56.5 225.5h0M36.2 222.4h0M50.7 234.5h0M46.4 225.9h0M52.7 240.4h0M43.8 230.3h0M52.2 234.0h0M53.3 228.6h0M46.4 229.0h0M40.1 229.3h0M42.0 234.0h0M41.9 231.4h0M38.4 223.8h0M53.9 225.2h0M56.6 236.5h0M28.2 227.2h0M41.1 231.1h0M42.8 227.5h0M52.7 230.3h0M50.7 227.0h0M39.2 238.8h0M42.1 224.5h0M42.8 237.2h0M42.9 226.8h0M48.4 236.8h0M42.6 229.1h0M41.5 246.9h0M42.7 241.3h0M43.0 233.4h0M29.9 232.0h0M44.4 229.1h0M41.2 223.0h0M33.7 232.0h0M39.6 230.5h0M42.8 228.0h0M39.0 241.9h0M36.4 228.0h0M42.0 224.2h0M37.4 236.1h0M50.5 231.8h0M66.4 235.9h0M52.5 226.2h0M51.5 240.9h0M41.4 241.6h0M38.4 224.4h0M43.7 226.3h0M48.4 224.5h0M44.6 219.5h0M43.8 237.2h0M42.2 232.8h0M51.6 224.6h0M35.2 231.5h0M45.9 229.4h0M37.3 238.1h0M36.0 229.5h0M43.7 235.3h0M40.9 226.2h0M57.9 226.1h0M49.5 230.1h0M40.7 230.7h0M42.3 232.8h0M26.4 230.8h0M44.5 225.3h0M41.3 244.7h0M56.8 234.8h0M45.6 229.2h0M53.6 228.4h0M38.4 235.1h0M37.3 226.4h0M54.0 221.6h0M43.6 231.7h0M45.8 222.5h0M42.5 229.0h0M57.3 236.9h0M38.8 236.1h0M48.5 230.3h0M42.4 229.4h0M33.4 227.3h0M50.5 239.5h0M56.8 228.8h0M48.3 216.9h0M42.2 223.6h0M49.7 221.3h0M36.8 224.5h0M46.8 235.9h0M37.7 241.6h0M45.1 226.1h0M46.4 230.9h0M49.8 233.0h0M59.2 237.9h0M39.6 235.6h0M49.3 225.1h0M38.9 226.3h0M27.0 234.7h0M42.5 238.2h0M40.2 231.4h0M49.0 236.7h0M46.2 224.9h0M59.3 236.1h0M53.4 240.5h0M53.7 233.4h0M47.3 234.7h0M33.7 235.8h0M37.3 233.5h0M37.1 235.2h0M40.7 245.6h0M45.4 234.0h0M37.8 229.3h0M43.6 229.3h0M41.0 225.9h0M49.3 228.8h0M38.4 233.1h0M38.4 230.0h0M40.5 225.6h0M42.5 226.2h0M35.4 233.1h0M42.0 222.4h0M41.3 232.1h0M47.0 233.2h0M45.8 234.5h0M40.6 226.3h0M48.3 228.6h0M44.1 234.8h0M50.5 238.2h0M39.3 228.8h0M47.9 222.6h0M35.4 234.6h0M39.8 225.6h0M49.6 234.1h0M50.4 229.1h0M42.1 229.0h0M46.1 219.1h0M39.3 235.1h0M38.7 230.6h0M44.9 234.0h0M40.8 224.4h0M61.3 226.8h0M55.8 220.7h0M44.8 229.9h0M57.1 242.9h0M50.8 225.1h0M38.5 226.6h0M40.5 232.5h0M38.6 229.6h0M54.2 239.4h0M31.2 225.5h0M41.5 238.6h0M41.8 242.1h0M46.6 239.4h0M38.2 229.2h0M51.1 234.3h0M31.2 229.4h0M45.3 234.7h0M39.7 241.2h0M45.1 239.5h0M46.8 231.5h0M41.9 224.2h0M50.0 235.4h0M50.5 228.8h0M37.2 228.8h0M41.9 230.9h0M50.8 225.7h0M40.7 235.0h0M50.3 243.9h0M47.7 226.1h0M36.9 226.4h0M44.6 232.5h0M43.6 227.4h0M42.8 230.6h0M48.2 231.5h0M38.5 224.2h0M54.3 230.5h0M42.9 230.9h0M51.8 229.2h0M45.3 229.6h0M48.1 225.1h0M45.5 237.0h0M52.2 234.6h0M46.1 240.2h0M48.9 239.1h0M35.8 224.6h0M49.6 229.5h0M41.1 225.5h0M54.3 224.1h0M44.8 222.9h0M42.9 244.1h0M60.8 228.1h0M58.6 243.1h0M59.1 219.9h0M63.2 224.7h0M57.1 239.6h0M59.5 224.8h0M62.6 230.7h0M65.9 232.7h0M67.5 239.7h0M68.2 239.6h0M62.3 235.7h0M62.1 221.5h0M58.0 237.0h0M53.9 226.4h0M57.6 231.6h0M58.5 233.7h0M61.4 228.8h0M59.1 217.0h0M62.3 223.3h0M61.0 234.5h0M65.6 236.8h0M67.1 222.4h0M64.4 242.6h0M63.4 224.5h0M63.4 228.5h0M59.8 239.2h0M61.4 224.4h0M59.7 245.3h0M59.2 236.6h0M62.7 239.9h0M61.1 225.6h0M59.9 225.0h0M70.9 233.3h0M61.0 240.5h0M64.3 230.8h0M64.2 233.9h0M65.9 243.2h0M61.0 231.8h0M61.4 240.3h0M63.4 237.3h0M65.1 227.7h0M62.5 241.4h0M65.2 237.5h0M61.1 229.6h0M59.1 230.2h0M61.8 222.3h0M66.0 226.8h0M62.9 236.1h0M60.2 219.8h0M65.4 234.8h0M61.2 239.7h0M65.1 225.6h0M61.8 220.1h0M61.2 241.6h0M59.2 237.6h0M56.9 230.0h0M65.3 243.6h0M63.6 237.1h0M67.9 215.5h0M56.2 244.8h0M70.5 236.1h0M62.3 233.8h0M62.2 227.9h0M62.0 231.2h0M64.3 236.6h0M65.4 236.0h0M58.7 241.4h0M52.9 232.8h0M63.2 228.4h0M68.4 224.6h0M58.1 228.6h0M63.5 237.4h0M62.4 236.5h0M59.7 227.9h0M62.5 222.9h0M62.7 229.4h0M64.4 225.2h0M60.3 228.2h0M60.8 225.3h0M61.2 222.9h0M63.9 236.6h0M62.0 230.7h0M59.0 225.5h0M61.3 225.9h0M58.1 233.1h0M62.0 229.3h0M59.3 231.7h0M59.7 229.1h0M62.7 236.9h0M64.6 227.9h0M66.2 224.2h0M61.5 240.8h0M70.1 232.9h0M60.8 229.5h0M57.9 231.0h0M60.6 226.9h0M66.1 226.8h0M67.8 237.7h0M64.2 228.0h0M60.3 218.5h0M63.0 230.2h0M63.4 227.5h0M63.7 221.9h0M54.6 235.2h0M65.7 210.7h0M66.4 229.7h0M61.5 221.6h0M58.7 236.8h0M59.6 231.8h0M61.5 245.5h0M65.1 223.1h0M60.4 224.3h0M57.4 227.4h0M65.8 232.3h0M64.3 231.1h0M60.6 232.6h0M61.8 245.0h0M68.1 234.6h0M64.1 218.5h0M59.3 237.5h0M66.2 229.3h0M61.3 228.9h0M64.7 232.2h0M67.1 240.0h0M61.0 227.9h0M61.3 226.1h0M60.6 231.5h0M65.1 221.3h0M57.3 226.8h0M61.0 235.1h0M59.4 242.2h0M60.3 230.5h0M62.2 239.9h0M63.1 232.2h0M60.2 233.2h0M63.4 229.6h0M62.0 219.5h0M60.3 240.0h0M66.8 231.5h0M54.7 244.4h0M60.7 238.8h0M60.0 241.3h0M66.0 224.8h0M61.3 223.8h0M63.0 229.3h0M57.0 224.9h0M52.0 214.1h0M58.4 221.7h0M48.7 225.4h0M43.0 222.7h0M39.6 218.7h0M55.0 217.9h0M49.2 222.5h0M61.8 225.1h0M53.6 219.0h0M38.9 226.7h0M64.5 211.6h0M56.8 219.8h0M55.5 221.2h0M48.6 220.0h0M49.8 224.5h0M48.1 217.9h0M55.1 222.5h0M53.4 221.1h0M61.4 224.3h0M51.7 219.2h0M55.2 212.7h0M46.1 217.3h0M51.4 218.5h0M69.1 222.9h0M53.2 228.7h0M50.1 218.8h0M59.6 223.2h0M57.2 224.7h0M47.3 217.4h0M44.5 220.4h0M57.8 215.9h0M46.0 214.8h0M65.5 223.1h0M51.8 215.3h0M42.2 217.5h0M50.3 215.1h0M48.3 224.7h0M50.2 220.4h0M34.0 218.9h0M49.0 217.3h0M39.4 219.7h0M42.2 217.9h0M37.8 219.6h0M57.1 216.7h0M52.6 214.1h0M54.5 222.1h0M47.1 223.4h0M43.3 220.2h0M63.0 219.9h0M41.4 224.5h0M54.2 218.9h0M36.1 212.7h0M38.4 225.8h0M52.3 216.7h0M58.9 225.7h0M43.6 221.9h0M37.4 221.5h0M64.0 214.5h0M50.5 217.5h0M49.4 220.3h0M52.2 223.5h0M54.0 224.1h0M57.9 224.3h0M44.9 221.6h0M47.2 216.7h0M65.1 221.1h0M50.4 211.8h0M48.3 223.0h0M48.5 217.9h0M61.4 218.8h0M47.5 219.6h0M48.3 224.1h0M54.4 219.7h0M47.3 219.1h0M63.1 218.8h0M55.1 213.9h0M52.5 222.7h0M59.8 221.2h0M54.5 221.3h0M58.3 228.0h0M51.6 216.8h0M54.6 219.6h0M55.0 223.0h0M51.2 218.3h0M52.4 215.1h0M52.2 216.5h0M53.5 220.5h0M48.4 215.3h0M50.5 217.3h0M49.0 222.7h0" stroke="#000" stroke-width="0.62" stroke-linecap="round" fill="none" opacity="1"/>
</g>
<g filter="url(#s)">
<g filter="url(#b2)">
<path d="M107.9 209.6 L118.4 208.4 L125.19999999999999 207.4 L125.80000000000001 209 L118.4 222.4 L114.9 223 L107.4 216.6 Z" fill="#000"/>
<path d="M83.4 210.8 L109.4 209.8 L109.4 216.6 L97.4 215.8 L83.4 213.6 Z" fill="#000"/>
</g>
<path d="M102.8 210.0h0M102.6 214.9h0M104.1 212.9h0M94.8 215.6h0M93.0 209.6h0M96.2 212.9h0M87.5 210.1h0M110.6 212.6h0M101.5 211.3h0M83.9 212.1h0M105.7 211.2h0M93.3 212.4h0M87.5 211.8h0M91.3 214.0h0M96.6 214.0h0M95.1 208.4h0M102.2 214.0h0M94.9 209.1h0M91.7 213.1h0M106.0 211.8h0M91.2 211.0h0M103.3 214.0h0M88.4 209.7h0M83.3 211.1h0M113.2 217.1h0M86.0 211.2h0M96.7 213.2h0M91.8 209.5h0M92.3 211.1h0M84.3 209.2h0M107.1 214.1h0M106.6 212.6h0M92.3 212.2h0M85.0 213.8h0M97.6 211.8h0M107.9 215.1h0M102.2 211.7h0M96.5 213.4h0M97.0 214.3h0M90.4 208.1h0M84.9 213.6h0M103.7 212.4h0M99.6 212.5h0M96.8 211.5h0M92.4 214.6h0M93.4 212.3h0M104.6 214.2h0M92.5 212.9h0M87.7 212.6h0M97.9 212.4h0M96.7 213.1h0M96.1 211.5h0M88.1 212.0h0M107.8 212.0h0M90.5 211.5h0M86.4 213.3h0M87.9 214.1h0M102.5 213.5h0M103.4 212.2h0M82.0 212.3h0M100.4 209.5h0M86.1 214.4h0M98.9 214.9h0M100.6 212.5h0M98.8 214.0h0M95.3 212.0h0M97.9 211.8h0M114.0 211.0h0M83.9 210.0h0M103.5 211.6h0M96.7 212.0h0M97.6 209.7h0M96.2 211.3h0M103.8 213.6h0M85.8 210.6h0M99.9 214.6h0M101.4 212.1h0M104.0 208.0h0M91.4 210.6h0M87.6 213.4h0M97.6 212.9h0M94.5 213.6h0M101.5 211.3h0M102.7 210.7h0M109.1 210.0h0M93.3 210.4h0M95.8 214.8h0M89.7 215.7h0M106.4 213.1h0M91.0 214.1h0M102.9 212.3h0M114.7 211.1h0M85.2 212.0h0M100.0 215.6h0M81.9 212.7h0M105.3 211.1h0M92.0 210.1h0M101.4 213.9h0M100.1 212.9h0M103.2 212.2h0M101.0 213.9h0M105.6 213.4h0M96.2 213.7h0M83.5 209.1h0M108.0 212.7h0M87.4 211.3h0M94.3 212.5h0M89.6 214.3h0M82.3 217.6h0M87.1 215.5h0M100.7 209.3h0M86.0 212.5h0M97.6 211.6h0M95.6 212.7h0M86.6 212.5h0M113.2 211.2h0M87.6 213.6h0M106.0 214.3h0M90.6 212.3h0M97.1 212.0h0M98.6 214.4h0M99.8 212.4h0M93.9 215.7h0M85.9 216.1h0M101.3 212.6h0M89.7 215.8h0M105.0 214.1h0M111.8 209.0h0M96.3 211.8h0M89.8 212.5h0M99.7 213.4h0M94.4 209.9h0M99.9 213.5h0M112.1 214.1h0M95.6 210.3h0M116.9 211.1h0M97.0 213.8h0M99.5 214.9h0M87.4 211.1h0M96.9 210.1h0M90.7 215.0h0M97.8 212.2h0M91.0 212.5h0M95.2 210.4h0M101.7 210.0h0M105.6 211.8h0M97.8 210.8h0M109.8 215.0h0M112.1 214.1h0M106.2 211.3h0M105.8 211.6h0M95.1 209.8h0M96.0 213.2h0M95.0 210.3h0M102.7 214.1h0M94.8 213.9h0M103.3 210.5h0M95.2 208.9h0M87.3 213.2h0M88.6 213.1h0M98.4 208.5h0M91.7 215.3h0M95.6 212.6h0M89.9 209.4h0M82.9 217.8h0M94.0 210.8h0M96.4 208.7h0M106.6 215.6h0M89.5 213.0h0M88.3 214.0h0M88.8 212.1h0M105.9 213.4h0M92.9 209.5h0M82.8 214.7h0M99.6 212.5h0M105.5 212.7h0M89.7 212.2h0M94.7 212.4h0M115.4 213.5h0M97.7 211.9h0M90.1 210.5h0M83.4 208.9h0M88.0 208.6h0M106.5 214.8h0M87.8 216.3h0M100.8 207.6h0M95.7 210.5h0M104.7 213.2h0M83.8 211.1h0M89.4 214.6h0M94.7 210.5h0M88.2 208.7h0M88.7 214.1h0M94.6 213.9h0M86.3 214.1h0M107.9 216.7h0M82.4 212.3h0M93.8 212.6h0M87.6 214.0h0M114.3 215.3h0M87.8 211.3h0M101.3 212.7h0M89.4 214.7h0M99.6 214.3h0M94.1 214.8h0M91.7 210.3h0M95.4 209.7h0M105.5 213.8h0M82.0 212.7h0M102.3 211.7h0M98.8 211.3h0M94.9 212.2h0M99.3 210.6h0M86.4 213.0h0M91.4 213.4h0M91.4 209.9h0M101.4 212.9h0M101.3 211.8h0M92.6 214.8h0M81.9 215.7h0M99.6 212.3h0M96.2 213.5h0M89.3 212.9h0M87.8 208.9h0M97.1 212.6h0M100.7 213.5h0M101.1 213.9h0M87.0 214.7h0M117.0 211.3h0M85.3 213.7h0M102.8 214.3h0M107.8 209.8h0M98.5 213.3h0M105.5 210.7h0M95.6 211.7h0M94.1 212.1h0M94.2 209.0h0M95.1 212.5h0M92.3 205.6h0M89.9 211.2h0M88.4 215.5h0M102.9 212.0h0M100.3 218.7h0M87.6 213.3h0M90.6 215.2h0M104.3 212.2h0M100.4 210.9h0M82.7 214.0h0M108.6 211.8h0M91.2 209.0h0M112.7 210.1h0M87.6 212.0h0M105.2 212.5h0M95.3 212.4h0M102.3 212.3h0M96.7 212.3h0M86.5 215.0h0M89.8 209.9h0M91.9 212.5h0M102.0 209.6h0M85.2 212.7h0M98.5 210.3h0M86.3 212.7h0M94.3 209.3h0M88.4 215.2h0M86.9 214.4h0M83.1 215.2h0M108.3 211.2h0M89.9 213.6h0M85.4 213.5h0M105.2 212.9h0M98.0 212.1h0M103.5 210.8h0M108.2 212.4h0M92.8 209.3h0M91.9 212.9h0M105.4 209.3h0M94.4 211.1h0M85.8 212.4h0M89.3 214.1h0M99.6 211.8h0M96.4 210.6h0M87.0 211.0h0M95.0 210.8h0M92.0 210.8h0M97.3 210.2h0M95.3 212.6h0M103.1 211.0h0M86.2 209.6h0M101.5 211.2h0M103.3 212.2h0M93.2 208.9h0M90.0 213.9h0M90.5 213.7h0M82.2 214.3h0M117.8 214.5h0M98.0 210.0h0M91.2 211.2h0M96.9 208.5h0M88.5 213.9h0M96.6 213.8h0M102.3 210.2h0M84.6 213.3h0M95.7 212.6h0M88.9 214.3h0M99.4 214.6h0M92.6 213.7h0M94.9 210.6h0M94.8 209.2h0M94.0 212.7h0M101.0 210.4h0M84.7 211.0h0M116.4 212.7h0M89.3 211.1h0M109.6 210.2h0M94.5 212.2h0M89.5 211.0h0M81.9 210.8h0M105.8 215.1h0M93.1 213.7h0M99.1 212.6h0M94.3 214.7h0M100.0 212.0h0M93.5 214.2h0M90.6 211.0h0M93.2 211.5h0M105.5 213.1h0M94.7 211.4h0M106.8 213.2h0M112.1 214.1h0M112.1 212.8h0M111.7 215.7h0M118.2 217.0h0M122.9 208.9h0M113.6 209.3h0M107.2 212.6h0M109.5 211.1h0M104.3 219.6h0M111.5 218.9h0M106.7 205.7h0M109.8 218.5h0M110.0 216.6h0M106.9 220.6h0M116.0 219.2h0M111.7 220.1h0M113.8 213.0h0M109.5 215.2h0M107.9 210.2h0M114.2 217.8h0M111.6 218.4h0M122.9 209.9h0M114.9 211.1h0M109.5 215.7h0M99.1 217.4h0M118.4 217.2h0M117.3 222.3h0M111.2 219.4h0M122.1 217.0h0M102.7 214.4h0M111.6 208.5h0M113.0 218.0h0M111.8 214.3h0M122.2 212.5h0M107.7 215.2h0M120.1 217.4h0M113.8 213.0h0M120.8 218.5h0M103.0 216.3h0M98.9 221.0h0M117.1 212.5h0M105.6 213.8h0M102.9 217.3h0M110.3 207.9h0M113.3 219.7h0M105.8 213.6h0M124.3 215.7h0M110.1 215.8h0M118.1 211.0h0M112.8 208.4h0M103.9 208.8h0M118.5 216.2h0M117.8 219.9h0M113.7 215.9h0M115.8 216.9h0M107.0 213.9h0M112.5 215.1h0M108.9 214.5h0M115.1 215.7h0M116.9 218.3h0M116.7 218.9h0M118.5 220.6h0M117.2 212.5h0M127.4 219.5h0M120.9 217.9h0M113.7 210.4h0M116.0 213.6h0M111.0 206.4h0M122.7 210.3h0M106.8 216.9h0M116.8 211.8h0M113.4 216.0h0M114.3 217.1h0M118.1 213.5h0M103.6 223.7h0M111.1 211.0h0M117.9 217.3h0M109.7 224.4h0M99.2 220.1h0M113.2 216.2h0M115.3 214.1h0M115.3 209.8h0M111.0 222.4h0M97.9 219.9h0M100.0 211.6h0M118.7 213.4h0M109.9 209.0h0M112.7 214.3h0M109.5 208.7h0M114.3 216.7h0M120.3 217.1h0M122.5 219.8h0M96.4 221.7h0M112.8 210.8h0M116.0 218.8h0M104.1 210.0h0M117.5 212.8h0M122.2 215.9h0M110.1 209.7h0M117.0 208.1h0M105.5 209.7h0M123.6 221.8h0M112.1 213.5h0M117.6 220.0h0M108.5 223.8h0M112.1 219.5h0M99.2 214.8h0M109.2 223.0h0M112.1 209.9h0M125.1 212.2h0M113.4 210.0h0M117.5 215.8h0M111.7 213.4h0M110.0 212.1h0M104.9 219.8h0M118.8 209.4h0M106.4 216.6h0M127.0 214.2h0M111.5 214.0h0M114.9 214.3h0M119.9 218.9h0M116.7 221.3h0M112.0 212.8h0M131.3 207.2h0M104.0 205.5h0M115.5 210.7h0M119.8 206.6h0M112.6 213.4h0M106.9 219.5h0M111.0 216.8h0M110.2 215.6h0M110.7 215.3h0M112.8 212.3h0M116.0 214.3h0M107.6 210.8h0M116.1 220.3h0M105.5 213.3h0M116.1 219.2h0M117.7 210.2h0M113.6 218.6h0M114.8 214.1h0M106.3 215.7h0M113.0 215.1h0M122.4 219.8h0M108.6 215.9h0M111.5 215.4h0M123.2 218.7h0M113.6 212.4h0M112.4 216.5h0M110.4 219.4h0M113.5 210.3h0M125.7 203.4h0M111.8 214.5h0M119.4 219.5h0M122.2 221.3h0M115.3 215.5h0M119.5 214.9h0M105.8 213.2h0M117.4 217.5h0M106.7 219.8h0M115.3 209.0h0M116.2 219.0h0M116.6 213.7h0M108.6 219.5h0M114.8 215.0h0M111.0 210.9h0M102.1 213.6h0M120.1 218.1h0M109.3 221.1h0M112.0 211.0h0M119.3 220.6h0M111.1 210.1h0M113.0 205.2h0M113.7 221.1h0M115.0 212.1h0M117.7 213.0h0M121.0 213.6h0M125.7 213.6h0M114.6 211.2h0M105.7 216.4h0M115.5 211.1h0M116.8 213.3h0M110.1 214.7h0M115.8 217.9h0M120.8 216.5h0M109.0 212.2h0M115.6 210.2h0M112.4 213.5h0M112.8 215.7h0M119.7 221.6h0M118.7 219.1h0M107.0 219.2h0M121.2 209.6h0M128.6 212.7h0M99.1 222.1h0M113.8 211.8h0M109.9 219.3h0M114.9 213.5h0M120.3 211.2h0M108.3 212.7h0M108.9 217.8h0M112.0 210.8h0M110.6 207.0h0M114.4 215.4h0M117.1 214.1h0M115.8 211.3h0M113.5 215.6h0M106.1 217.3h0M114.3 215.2h0M110.5 223.0h0M113.4 211.9h0M108.3 217.4h0M112.1 211.8h0M109.0 218.7h0M113.9 219.2h0M113.3 210.3h0M118.6 216.3h0M109.5 213.8h0M107.6 218.3h0M110.9 216.9h0M115.0 214.0h0M115.6 214.0h0M106.3 213.3h0M106.3 218.0h0M117.3 212.7h0M117.1 216.0h0M119.3 211.3h0M113.6 211.0h0M109.3 220.5h0M101.3 211.3h0M116.3 218.1h0M108.7 206.9h0M103.1 216.5h0M120.0 218.6h0M109.0 220.4h0M112.3 217.5h0M112.2 221.4h0M110.3 206.4h0M111.5 215.8h0M115.1 212.1h0M112.0 210.5h0M112.0 215.3h0M114.8 221.6h0M101.4 217.1h0M116.0 210.4h0M113.8 215.0h0M107.4 217.9h0M124.9 217.7h0M118.1 219.3h0M112.6 218.9h0M108.6 215.7h0M117.6 220.2h0M111.7 213.8h0M116.2 214.7h0M114.2 218.2h0M108.8 218.5h0M115.7 213.9h0M105.9 212.5h0M113.1 218.7h0M101.6 217.8h0M114.6 210.5h0M118.5 216.6h0M116.0 211.1h0M106.8 218.6h0M121.8 216.5h0M112.2 213.2h0M103.2 218.9h0M112.8 219.9h0M109.1 219.2h0M109.1 217.3h0M121.6 212.2h0M118.8 215.0h0M107.8 215.8h0M117.2 212.2h0M111.8 212.7h0M108.8 214.2h0M118.3 213.0h0M120.8 213.5h0M109.3 219.3h0M121.8 212.4h0M116.9 210.4h0M111.0 213.5h0M117.6 210.0h0M110.4 212.3h0M114.0 210.1h0M105.4 226.2h0M114.7 209.0h0M118.4 209.8h0M102.2 221.6h0M120.8 211.7h0M106.9 216.9h0M125.5 217.4h0M117.3 210.3h0M102.8 216.5h0M119.4 215.5h0M113.4 220.5h0M108.4 219.3h0M118.3 212.5h0M114.1 215.4h0M116.8 211.1h0M112.0 215.4h0M117.5 219.1h0M118.4 218.1h0M115.4 224.1h0M114.9 217.4h0M113.9 213.3h0M119.2 218.8h0M116.9 221.2h0M116.7 222.4h0M124.5 220.7h0M116.4 227.2h0M120.2 210.8h0M122.7 220.0h0M120.8 213.3h0M114.1 215.8h0M119.6 213.5h0M114.6 223.7h0M114.9 219.6h0M113.9 210.6h0M117.1 218.4h0M111.8 223.8h0M120.6 223.4h0M115.4 213.4h0M117.0 219.8h0M116.7 216.1h0M113.5 215.4h0M117.1 216.6h0M124.0 217.6h0M119.2 216.7h0M116.7 214.2h0M115.5 211.6h0M109.2 225.6h0M113.2 221.1h0M116.9 216.2h0M120.3 216.3h0M119.1 217.2h0M121.2 223.7h0M117.7 224.4h0M119.4 226.6h0M116.9 211.4h0M118.2 220.2h0M116.0 218.0h0M116.3 212.8h0M124.1 215.2h0M113.2 211.2h0M114.1 218.8h0M123.2 221.9h0M114.5 212.9h0M113.0 218.6h0M120.8 216.6h0M123.7 228.5h0M118.0 208.4h0M121.7 218.5h0M120.0 223.8h0M113.4 219.3h0M118.1 215.3h0M120.1 218.4h0M115.8 228.2h0M118.0 227.0h0M116.8 224.1h0M114.4 219.7h0M121.6 208.3h0M119.5 217.7h0M121.7 219.9h0M117.1 212.7h0M128.9 215.4h0M116.1 215.5h0M116.2 220.1h0M112.2 224.2h0M116.4 221.9h0M109.1 216.4h0M116.2 217.1h0M114.8 220.5h0M119.0 214.2h0M109.7 222.6h0M116.1 224.2h0M120.8 218.5h0M111.8 217.2h0M114.5 225.1h0M110.8 223.5h0M111.4 216.2h0M111.9 215.6h0M115.7 220.8h0M115.1 222.4h0M124.2 219.8h0M112.9 218.1h0M117.0 217.2h0M121.9 224.6h0M125.2 221.6h0M107.0 218.3h0M120.0 215.0h0M115.0 223.4h0M117.9 213.5h0M115.1 203.9h0M117.4 213.0h0M117.2 213.2h0M113.8 216.5h0M128.2 213.2h0M112.7 216.3h0M121.5 222.9h0M120.1 217.4h0M117.9 215.2h0M116.7 215.0h0M111.7 214.1h0M124.9 220.9h0M114.4 218.4h0M115.6 225.0h0M117.3 215.9h0M120.0 220.5h0M114.7 215.2h0M117.9 211.0h0M93.1 236.9h0M105.2 237.5h0M96.3 227.5h0M97.5 228.2h0M108.1 229.7h0M108.6 226.8h0M101.9 240.5h0M94.3 227.1h0M95.2 221.5h0M97.3 227.2h0M114.4 228.2h0M84.7 236.5h0M105.8 230.8h0M101.3 235.2h0M95.5 231.2h0M100.3 240.7h0M109.0 232.0h0M90.2 236.2h0M99.0 237.8h0M99.7 232.0h0M103.8 226.7h0M94.8 244.4h0M93.4 236.5h0M104.0 235.8h0M108.7 223.1h0M105.8 218.9h0M99.7 233.0h0M106.3 237.3h0M93.0 229.4h0M98.2 226.9h0M93.7 227.1h0M107.1 239.0h0M104.4 240.9h0M99.9 224.6h0M94.9 232.2h0M106.3 238.1h0M93.2 236.6h0M95.7 234.5h0M105.6 239.7h0M95.7 232.4h0M102.2 228.5h0M99.9 234.5h0M88.1 227.2h0M115.0 233.6h0M95.5 220.2h0M92.8 234.0h0M103.9 233.6h0M103.3 227.4h0M110.2 224.4h0M102.8 229.4h0M87.7 236.3h0M97.4 235.2h0M108.0 232.0h0M94.8 229.7h0M98.8 239.5h0M105.1 240.3h0M104.5 226.5h0M105.6 236.7h0M98.5 233.7h0M97.1 223.6h0M98.7 235.5h0M96.8 217.8h0M93.9 237.4h0M100.8 237.6h0M94.2 228.5h0M92.5 226.4h0M102.8 231.8h0M96.0 232.7h0M90.4 228.7h0M89.1 222.2h0M90.0 224.5h0M110.0 239.1h0M107.9 227.6h0M103.5 224.3h0M95.6 232.4h0M88.4 232.2h0M103.5 218.8h0M82.7 229.4h0M98.5 231.8h0M91.6 234.3h0M100.1 226.7h0M110.5 232.5h0M104.3 241.9h0M95.9 229.7h0M87.5 229.6h0M102.3 245.8h0M103.1 232.2h0M90.7 226.0h0M86.7 222.9h0M100.0 232.8h0M93.1 229.7h0M93.8 234.7h0M103.6 227.7h0M96.2 223.7h0M96.1 243.9h0M99.2 236.1h0M103.2 239.7h0M97.1 225.6h0M106.4 236.4h0M94.8 237.5h0M99.2 230.7h0M111.8 234.1h0M101.4 229.1h0M100.6 237.2h0M102.4 226.5h0M102.3 230.3h0M101.4 229.8h0M84.4 221.4h0M96.7 217.9h0M89.0 243.0h0M104.0 228.3h0M101.5 217.7h0M101.0 236.8h0M100.6 223.2h0M105.9 227.8h0M95.4 232.2h0M97.2 243.1h0M98.3 243.7h0M102.4 223.6h0M99.3 231.3h0M109.1 238.6h0M116.7 227.0h0M96.3 244.8h0M93.2 233.1h0M110.3 225.0h0M96.9 226.6h0M102.9 233.4h0M99.0 234.9h0M93.9 228.8h0M102.5 243.0h0M99.0 231.3h0M108.3 231.4h0M108.2 232.4h0M107.2 232.1h0M93.0 225.9h0M102.2 242.2h0M112.0 229.1h0M116.4 224.4h0M93.5 236.5h0M88.9 236.4h0M101.9 234.7h0M91.0 233.3h0M105.7 230.7h0M106.3 231.1h0M101.6 229.1h0M90.0 230.1h0M102.7 226.5h0M85.9 221.8h0M108.3 229.7h0M94.0 238.4h0M98.1 222.0h0M96.3 225.7h0M98.0 225.5h0M99.8 233.7h0M95.4 229.8h0M98.2 235.9h0M94.4 235.5h0M107.9 229.8h0M92.7 229.2h0M87.1 227.8h0M91.1 230.0h0M96.7 234.1h0M100.1 233.5h0M99.0 232.7h0M91.5 235.0h0M108.2 237.6h0M90.1 233.5h0M88.1 235.5h0M97.9 228.2h0M94.2 229.6h0M99.3 225.2h0M99.7 232.6h0M102.9 230.7h0M99.3 244.9h0M106.2 232.9h0M89.8 234.7h0M103.2 215.1h0M98.2 233.3h0M99.6 231.6h0M98.2 239.3h0M101.9 229.3h0M97.7 243.5h0M93.4 227.8h0M101.5 231.9h0M101.4 239.1h0M107.1 233.5h0M99.6 230.6h0M97.7 237.0h0M90.6 224.8h0M96.2 225.2h0M94.2 238.2h0M83.8 234.5h0M90.3 229.5h0M95.4 225.1h0M89.1 231.4h0M96.6 237.6h0M112.1 229.2h0M93.8 229.3h0M102.5 236.6h0M92.7 233.8h0M99.1 237.9h0M96.5 229.8h0M93.4 223.1h0M101.2 235.3h0M107.1 232.6h0M96.1 225.5h0M91.3 226.7h0M101.6 231.5h0M83.5 230.4h0M97.3 224.7h0M99.2 234.2h0M92.2 222.9h0M97.1 232.6h0M97.5 240.3h0M100.3 225.0h0M104.7 227.1h0M104.1 231.6h0M107.8 225.0h0M104.3 233.6h0M93.1 235.2h0M115.0 233.1h0M94.0 230.1h0M108.3 232.5h0M109.6 227.1h0M108.4 221.5h0M98.2 229.2h0M95.9 238.3h0M95.2 233.1h0M112.2 236.0h0M96.5 226.6h0M85.4 233.3h0M105.5 237.6h0M101.0 243.9h0M104.7 217.1h0M93.2 235.8h0M96.6 236.0h0M117.1 226.4h0M114.7 230.5h0M89.1 231.6h0M105.6 227.5h0M110.3 225.8h0M98.0 236.5h0M97.9 227.7h0M99.2 234.9h0M111.4 239.2h0M112.4 230.8h0M87.8 230.8h0M96.5 225.0h0M95.8 230.6h0M99.7 236.5h0M93.0 237.9h0M99.7 235.4h0M108.0 223.6h0M110.5 226.7h0M102.1 237.5h0M105.8 221.6h0M100.5 237.8h0M98.5 230.5h0M99.9 240.9h0M95.6 225.3h0M91.7 227.8h0M97.7 233.1h0M98.8 220.7h0M88.4 235.1h0M104.4 222.9h0M105.9 216.4h0M115.6 234.5h0M87.8 234.1h0M99.1 228.3h0M96.8 229.7h0M98.7 225.6h0M95.4 234.4h0M103.1 223.0h0M95.9 240.4h0M104.4 240.9h0M89.9 224.8h0M84.2 219.4h0M96.8 224.7h0M91.8 226.8h0M98.1 236.0h0M103.3 220.4h0M109.8 229.0h0M92.4 230.8h0M96.6 222.7h0M110.3 227.5h0M95.2 234.2h0M111.1 233.9h0M93.1 233.6h0M107.1 233.3h0M103.9 228.1h0M98.9 220.9h0M94.4 224.2h0M99.4 240.0h0M83.6 223.1h0M92.9 230.5h0M107.5 226.3h0M93.9 238.3h0M102.0 234.2h0M105.2 226.5h0M101.0 227.0h0M94.3 231.8h0M102.4 223.3h0M94.0 234.7h0M100.6 235.0h0M97.2 226.2h0M104.9 234.6h0M94.1 235.0h0M110.4 229.3h0M92.6 232.5h0M100.0 234.4h0M89.5 232.5h0M105.7 235.2h0M103.8 238.2h0M93.6 238.4h0M100.9 225.0h0M97.3 232.6h0M101.7 239.1h0M100.7 227.9h0M114.7 229.0h0M93.6 236.6h0M96.5 226.3h0M91.9 238.1h0M91.9 231.6h0M96.2 229.9h0M93.7 231.9h0M103.6 237.3h0M96.9 224.0h0M89.0 231.1h0M82.0 239.0h0M99.6 231.8h0M112.5 227.5h0M114.8 236.8h0M116.0 236.4h0M119.2 218.5h0M116.6 240.9h0M115.6 232.9h0M117.0 223.4h0M125.1 231.1h0M119.6 228.9h0M122.3 240.1h0M121.5 238.7h0M119.9 241.8h0M118.8 233.0h0M120.2 225.8h0M108.5 237.7h0M117.9 227.1h0M116.5 225.4h0M114.4 233.4h0M117.8 237.9h0M117.1 236.5h0M119.8 227.1h0M111.5 227.2h0M116.5 228.3h0M125.2 227.3h0M119.1 226.7h0M119.8 223.2h0M120.7 233.3h0M116.0 223.7h0M123.3 228.0h0M122.5 215.2h0M113.2 244.7h0M123.7 232.2h0M120.9 236.3h0M116.1 233.0h0M113.4 222.7h0M117.8 237.2h0M118.0 223.5h0M120.4 232.7h0M120.0 230.1h0M116.5 239.4h0M122.2 223.7h0M113.5 238.9h0M118.7 232.4h0M114.0 239.2h0M118.1 233.6h0M118.8 228.4h0M118.8 233.0h0M119.9 234.7h0M112.9 227.1h0M116.5 240.2h0M115.1 240.0h0M121.2 238.2h0M125.3 232.0h0M118.5 240.6h0M118.8 239.0h0M116.9 242.0h0M118.6 218.7h0M121.2 230.8h0M114.3 230.0h0M116.4 240.1h0M118.6 231.6h0M117.3 225.8h0M115.2 228.8h0M116.6 224.0h0M116.0 239.1h0M119.0 232.1h0M118.6 230.4h0M113.2 238.3h0M125.3 235.7h0M113.1 235.8h0M116.2 230.2h0M111.6 231.5h0M118.8 220.9h0M116.6 228.7h0M113.9 236.5h0M123.2 235.0h0M121.0 237.4h0M117.2 236.2h0M122.1 229.1h0M116.9 222.5h0M110.9 226.4h0M120.5 234.6h0M118.3 241.3h0M111.2 241.7h0M117.7 237.5h0M122.3 226.4h0M114.3 234.9h0M117.2 228.0h0M117.0 227.1h0M117.9 229.4h0M123.4 224.9h0M119.4 232.6h0M123.0 225.4h0M115.8 244.1h0M115.1 229.5h0M116.0 225.3h0M121.7 242.6h0M116.9 226.9h0M112.6 236.7h0M115.5 235.9h0M108.9 229.2h0M119.6 235.0h0M107.3 234.1h0M117.9 232.0h0M116.2 229.0h0M117.9 235.6h0M106.3 232.0h0M120.7 230.6h0M121.7 225.6h0M124.1 238.8h0M122.5 243.1h0M113.2 231.3h0M119.1 239.4h0M117.7 223.1h0M121.7 230.9h0M118.9 229.9h0M117.0 222.6h0M119.7 227.7h0M111.2 235.0h0M117.3 238.7h0M120.3 223.7h0M116.8 232.1h0M117.7 224.8h0M117.7 238.9h0M121.8 242.2h0M120.1 214.6h0M116.4 228.3h0M107.2 242.8h0M120.6 232.0h0M118.7 235.5h0M116.6 241.6h0M123.8 237.8h0M115.4 233.8h0M120.8 237.1h0M115.0 238.7h0M120.0 236.1h0M115.9 231.9h0M110.7 231.9h0M115.8 230.0h0M116.4 229.9h0M117.7 232.8h0M115.3 231.2h0M117.1 235.5h0M118.9 229.6h0M114.5 220.7h0M113.0 234.9h0M114.2 243.2h0M116.8 229.4h0M116.8 228.3h0M115.2 232.5h0M112.3 233.0h0M117.1 225.8h0M121.0 234.6h0M121.2 227.5h0M113.0 223.9h0M111.9 219.0h0M122.9 228.8h0M118.1 228.4h0M116.9 243.0h0M111.3 225.3h0M117.9 225.8h0M119.8 241.0h0M120.5 237.3h0M116.8 239.0h0M114.6 223.8h0M116.5 230.3h0M121.7 225.2h0M121.4 226.7h0M113.0 220.3h0M117.3 222.1h0M118.1 232.4h0M116.0 218.7h0M115.6 235.1h0M111.1 236.8h0M117.5 228.3h0M118.1 236.6h0M117.3 226.7h0M120.2 227.4h0M118.7 238.8h0M122.0 243.1h0M121.0 233.1h0M116.7 233.4h0M119.7 226.3h0M122.7 221.1h0M120.9 223.2h0M113.6 228.6h0M116.4 222.7h0M119.6 231.3h0M122.1 225.0h0M111.0 236.8h0M116.6 238.8h0M109.2 223.4h0M117.7 245.6h0M113.1 218.9h0M115.8 241.8h0M123.0 222.6h0M115.3 219.3h0M114.4 225.4h0M118.9 239.9h0M125.8 229.6h0M120.3 233.6h0M117.8 245.4h0M119.9 242.9h0M118.5 238.0h0M119.2 231.4h0M115.0 229.2h0M117.4 229.4h0M116.2 227.2h0M120.4 230.3h0M117.0 230.5h0M122.0 228.3h0M122.4 226.1h0M122.8 236.3h0M115.7 235.2h0M121.4 225.4h0M103.6 221.3h0M103.7 218.9h0M105.6 221.3h0M111.6 225.9h0M102.8 231.6h0M102.8 227.0h0M104.4 214.3h0M101.9 218.7h0M114.0 212.0h0M100.3 219.5h0M110.7 221.6h0M112.3 219.4h0M103.5 224.8h0M119.2 221.5h0M106.7 216.6h0M122.3 221.6h0M110.4 213.7h0M110.3 229.6h0M104.1 219.2h0M117.7 219.3h0M112.2 227.7h0M96.1 216.7h0M110.9 220.5h0M105.7 219.4h0M106.5 221.4h0M101.6 218.9h0M107.3 215.7h0M109.0 211.3h0M110.5 219.5h0M96.0 225.4h0M96.1 228.2h0M99.6 224.8h0M104.9 226.4h0M103.7 224.1h0M102.9 212.6h0M108.5 221.9h0M108.6 226.6h0M99.6 214.4h0M107.5 217.3h0M104.6 220.0h0M98.9 224.3h0M104.5 227.1h0M107.4 224.2h0M103.1 217.4h0M101.2 216.5h0M109.0 220.6h0M96.8 213.9h0M98.6 212.8h0M98.4 214.0h0M111.1 215.4h0M100.7 219.5h0M105.7 221.7h0M111.5 222.6h0M102.7 225.0h0M108.4 217.2h0M117.3 215.3h0M109.2 225.0h0M106.3 221.4h0M106.4 222.7h0M107.2 220.0h0M111.0 212.5h0M107.4 218.8h0M121.0 221.2h0M100.2 222.6h0M102.4 215.3h0M103.2 222.0h0M114.9 224.2h0M107.3 219.4h0M107.0 224.8h0M104.4 224.6h0M99.1 220.0h0M111.6 222.8h0M107.0 218.0h0M91.2 218.3h0M98.7 218.4h0M118.0 217.0h0M112.2 219.9h0M96.7 220.4h0M111.4 215.3h0M96.3 218.5h0M111.2 217.6h0M108.8 221.8h0M105.5 221.8h0M115.5 219.3h0M108.0 215.8h0M99.7 219.6h0M111.9 217.4h0M94.5 223.7h0M124.2 209.8h0M97.1 220.5h0" stroke="#000" stroke-width="0.62" stroke-linecap="round" fill="none" opacity="1"/>
</g>
<g filter="url(#s)">
<g filter="url(#b)">
<ellipse cx="36.5" cy="259.9" rx="9.5" ry="1.3" fill="#000"/>
<ellipse cx="35.8" cy="286" rx="6.2" ry="3.2" fill="#000" opacity=".85"/>
<ellipse cx="68.5" cy="285.5" rx="1.7" ry="3.6" fill="#000"/>
</g>
<path d="M40.1 258.8h0M39.0 261.4h0M34.5 260.9h0M37.5 258.8h0M32.0 259.2h0M46.4 261.5h0M38.3 258.0h0M32.9 259.5h0M38.6 258.3h0M33.4 259.4h0M50.1 260.9h0M42.2 260.1h0M27.1 261.2h0M31.6 257.5h0M41.9 259.6h0M36.5 260.7h0M34.8 260.5h0M46.0 259.6h0M33.9 260.0h0M41.3 259.5h0M37.1 259.1h0M36.0 260.7h0M30.5 259.8h0M37.1 260.7h0M29.0 259.9h0M29.7 260.4h0M38.5 260.6h0M35.0 258.2h0M32.4 258.3h0M31.6 259.9h0M44.4 259.2h0M30.9 260.3h0M43.7 261.2h0M35.8 260.9h0M34.0 261.2h0M31.7 259.0h0M39.3 259.4h0M41.4 258.9h0M38.5 258.7h0M35.8 262.8h0M28.7 258.4h0M48.4 259.4h0M43.3 259.8h0M31.9 262.6h0M44.4 257.6h0M29.4 260.5h0M41.3 259.7h0M38.8 260.7h0M34.0 261.3h0M30.3 261.0h0M43.2 260.3h0M34.0 260.0h0M26.2 257.4h0M42.1 258.8h0M39.1 260.1h0M34.5 260.6h0M37.0 258.4h0M32.7 260.1h0M27.3 259.4h0M32.5 257.3h0M49.1 261.1h0M33.1 261.2h0M28.9 262.0h0M33.8 260.2h0M32.3 260.1h0M38.9 260.0h0M30.5 261.0h0M40.6 260.0h0M44.2 259.1h0M45.8 259.8h0M47.5 259.4h0M34.7 260.3h0M44.5 261.8h0M33.2 259.1h0M42.1 261.6h0M41.6 259.6h0M45.8 260.0h0M37.7 260.8h0M32.4 257.1h0M38.1 260.9h0M39.7 260.7h0M37.7 261.3h0M37.3 261.9h0M36.9 261.0h0M32.5 260.4h0M39.6 260.2h0M47.7 260.1h0M44.7 260.5h0M44.4 258.8h0M33.9 261.2h0M30.6 260.5h0M40.6 260.3h0M39.7 260.7h0M34.8 260.5h0M32.8 259.4h0M38.0 258.6h0M37.0 260.4h0M34.0 258.8h0M35.7 260.5h0M43.2 262.5h0M39.7 259.2h0M38.8 262.7h0M37.3 261.7h0M44.2 259.4h0M47.7 257.7h0M35.1 259.1h0M38.0 260.1h0M44.8 259.2h0M50.5 257.8h0M38.1 263.4h0M35.8 260.8h0M33.1 264.2h0M43.0 259.6h0M41.8 257.4h0M33.0 260.7h0M39.5 261.5h0M45.0 259.2h0M40.2 257.7h0M33.6 258.7h0M52.7 257.4h0M28.9 261.4h0M37.0 261.5h0M36.0 262.3h0M36.3 259.9h0M39.7 260.5h0M34.8 260.4h0M27.6 259.1h0M31.1 260.4h0M33.4 260.8h0M39.3 258.8h0M34.3 258.4h0M37.3 261.0h0M29.3 257.7h0M40.3 259.6h0M36.3 260.6h0M39.3 261.2h0M33.2 257.2h0M33.0 259.6h0M33.5 260.5h0M34.7 261.7h0M31.9 260.0h0M33.9 262.7h0M29.6 258.7h0M33.7 261.0h0M36.6 259.8h0M34.9 259.7h0M49.4 260.5h0M39.6 261.2h0M30.0 258.4h0M33.8 261.9h0M43.7 259.2h0M27.4 261.2h0M44.5 258.6h0M48.2 259.0h0M42.0 259.7h0M34.1 259.2h0M41.6 260.8h0M42.4 259.6h0M30.3 262.8h0M49.0 259.8h0M28.1 261.9h0M37.5 260.1h0M42.7 260.5h0M37.3 262.6h0M29.3 260.1h0M35.3 260.3h0M53.6 259.5h0M43.1 260.8h0M38.7 259.4h0M41.2 260.4h0M47.1 261.1h0M31.3 256.2h0M47.6 260.6h0M37.8 259.2h0M54.9 261.7h0M37.2 259.5h0M40.7 261.8h0M40.3 261.2h0M38.4 260.5h0M27.2 260.2h0M36.9 259.9h0M34.7 260.4h0M32.2 259.7h0M26.8 263.0h0M29.9 258.4h0M32.5 259.5h0M28.6 256.8h0M48.6 261.3h0M33.7 260.7h0M28.3 257.9h0M39.0 260.7h0M31.4 260.0h0M44.3 260.2h0M37.8 260.7h0M27.1 260.3h0M31.8 257.6h0M43.1 259.8h0M43.9 262.6h0M44.5 261.8h0M39.4 260.5h0M41.6 260.8h0M27.0 261.0h0M43.8 259.5h0M29.7 259.4h0M32.1 260.7h0M42.3 260.0h0M34.2 257.7h0M33.3 258.7h0M32.4 260.4h0M37.7 264.5h0M30.0 259.3h0M28.0 259.7h0M34.4 261.3h0M41.3 259.3h0M31.4 260.3h0M40.4 259.8h0M35.3 260.0h0M28.4 260.4h0M40.8 260.1h0M28.0 260.0h0M35.7 260.4h0M33.4 261.1h0M44.6 261.1h0M38.2 261.6h0M36.2 259.8h0M45.5 258.8h0M42.3 258.4h0M38.7 262.4h0M36.8 258.5h0M38.6 259.8h0M42.4 259.3h0M40.9 261.3h0M38.5 260.0h0M41.6 259.8h0M33.1 260.3h0M44.6 259.4h0M40.2 259.2h0M31.0 260.2h0M26.6 258.9h0M27.6 259.2h0M30.1 295.6h0M39.9 286.3h0M27.3 276.2h0M38.8 283.4h0M42.7 284.4h0M27.5 283.4h0M26.1 280.2h0M40.6 283.8h0M40.4 283.7h0M34.5 283.7h0M32.4 283.3h0M45.6 285.8h0M44.1 290.6h0M35.3 285.4h0M32.9 286.5h0M39.0 286.0h0M30.6 282.0h0M46.7 292.9h0M27.9 283.4h0M35.7 288.4h0M35.2 287.0h0M38.3 290.7h0M27.5 290.5h0M38.8 288.2h0M26.2 285.1h0M34.3 288.6h0M40.4 288.8h0M27.6 291.2h0M36.4 289.8h0M35.9 283.1h0M52.9 288.7h0M40.9 284.1h0M34.5 290.6h0M38.8 293.2h0M43.7 281.6h0M39.8 285.0h0M34.0 283.7h0M47.5 285.4h0M27.0 289.7h0M35.4 287.5h0M33.4 285.9h0M31.5 284.5h0M38.0 291.2h0M39.4 290.1h0M30.0 287.3h0M38.5 289.8h0M31.9 285.3h0M32.6 290.6h0M42.9 284.2h0M35.0 286.9h0M30.1 285.6h0M41.5 289.2h0M31.5 283.4h0M35.1 280.1h0M37.9 286.5h0M27.3 285.1h0M31.6 284.9h0M30.2 291.5h0M29.6 289.1h0M37.2 291.9h0M35.5 286.0h0M36.3 278.4h0M51.5 285.2h0M33.8 281.5h0M35.0 292.5h0M31.0 287.8h0M42.6 289.8h0M33.3 279.0h0M38.5 288.3h0M33.8 284.3h0M47.3 279.7h0M32.6 283.6h0M30.7 291.0h0M37.6 279.8h0M28.1 282.1h0M34.8 287.9h0M31.7 284.9h0M40.5 285.4h0M40.6 283.7h0M39.1 291.1h0M33.8 284.7h0M34.8 287.9h0M28.0 286.2h0M32.1 291.7h0M33.8 283.1h0M36.8 285.1h0M36.1 287.0h0M43.7 284.4h0M46.7 275.3h0M47.7 290.9h0M46.0 286.8h0M37.7 282.0h0M44.5 281.4h0M30.7 286.1h0M37.4 287.4h0M28.3 284.7h0M39.1 290.8h0M40.8 287.7h0M34.2 283.9h0M32.6 285.7h0M39.3 284.0h0M49.2 282.1h0M41.2 285.2h0M35.0 284.5h0M45.8 284.9h0M39.5 286.5h0M40.7 288.4h0M46.6 283.2h0M30.6 292.8h0M44.1 286.3h0M34.0 287.1h0M44.3 283.0h0M45.3 285.8h0M33.5 284.5h0M27.4 283.8h0M30.1 287.0h0M40.6 286.2h0M37.1 287.7h0M46.3 288.4h0M46.1 285.8h0M38.2 283.5h0M39.7 282.7h0M38.9 283.6h0M33.6 290.9h0M36.8 289.2h0M34.3 278.7h0M45.4 285.3h0M31.7 289.8h0M28.5 283.1h0M43.3 283.3h0M43.2 284.9h0M34.5 286.3h0M32.6 290.3h0M43.0 286.3h0M39.8 288.2h0M46.8 279.8h0M42.5 289.7h0M33.8 286.1h0M33.6 291.0h0M28.5 288.5h0M44.2 288.3h0M32.8 284.2h0M43.0 282.3h0M26.2 287.9h0M30.2 289.8h0M35.1 280.5h0M30.9 283.5h0M30.4 291.0h0M29.4 287.5h0M32.1 288.4h0M26.6 279.9h0M39.2 291.7h0M26.9 284.8h0M32.6 282.4h0M42.2 286.3h0M26.9 285.2h0M44.5 283.3h0M32.5 282.8h0M36.9 283.9h0M41.7 282.8h0M26.4 287.9h0M37.7 287.0h0M32.1 284.3h0M30.7 285.4h0M32.9 288.3h0M36.0 288.3h0M46.5 285.0h0M34.0 287.6h0M49.5 284.7h0M46.8 290.8h0M29.5 287.6h0M44.5 286.3h0M37.0 294.6h0M38.2 294.6h0M30.1 292.6h0M32.6 276.5h0M30.5 284.2h0M35.6 289.1h0M40.4 288.1h0M31.1 293.1h0M43.7 286.2h0M32.2 285.9h0M34.5 283.3h0M35.8 283.4h0M40.1 283.5h0M39.1 287.3h0M37.0 288.1h0M29.2 296.3h0M31.4 289.0h0M36.0 284.4h0M47.2 290.4h0M34.1 288.3h0M40.3 292.3h0M42.5 285.4h0M34.3 281.5h0M37.6 289.5h0M33.4 288.7h0M36.8 284.2h0M28.0 290.5h0M52.4 288.2h0M28.9 282.0h0M37.6 288.6h0M45.8 276.5h0M47.9 286.7h0M36.8 287.6h0M33.6 284.9h0M42.8 279.2h0M35.2 288.3h0M45.9 287.5h0M40.5 288.9h0M37.4 287.5h0M30.6 285.2h0M47.9 281.2h0M34.8 281.0h0M32.5 283.0h0M28.0 287.0h0M29.8 288.2h0M47.7 275.9h0M34.9 277.7h0M35.1 287.6h0M37.3 290.9h0M37.0 279.2h0M45.7 282.3h0M35.3 287.4h0M30.2 286.4h0M45.7 279.3h0M34.9 281.0h0M38.5 280.8h0M39.7 285.8h0M37.0 280.7h0M34.5 288.0h0M42.3 294.0h0M40.3 285.8h0M28.9 284.4h0M34.3 287.8h0M34.3 296.0h0M44.6 277.3h0M28.4 286.0h0M42.3 287.7h0M44.7 288.4h0M52.6 289.3h0M39.0 292.2h0M33.1 283.9h0M29.4 287.0h0M38.8 289.8h0M45.4 288.6h0M44.0 285.1h0M29.7 289.0h0M42.6 291.4h0M34.9 284.2h0M33.6 287.5h0M35.7 285.3h0M37.6 284.9h0M38.2 283.6h0M48.3 282.8h0M41.9 291.4h0M32.4 287.1h0M46.0 286.8h0M31.1 286.5h0M37.8 284.4h0M34.0 282.8h0M39.7 286.8h0M38.2 284.0h0M39.2 284.8h0M37.9 285.4h0M31.7 281.6h0M34.6 281.3h0M38.7 294.4h0M44.1 281.3h0M35.3 283.5h0M41.0 280.2h0M38.0 286.9h0M39.7 287.8h0M37.0 278.9h0M33.9 282.2h0M39.4 285.1h0M37.0 290.5h0M35.3 292.8h0M41.4 280.0h0M32.2 291.0h0M32.7 290.9h0M32.3 285.5h0M42.7 279.6h0M36.5 284.2h0M37.1 293.0h0M39.2 280.6h0M42.3 284.2h0M37.1 290.7h0M34.0 289.9h0M37.2 282.4h0M34.0 280.5h0M43.7 286.7h0M42.3 281.5h0M41.5 281.2h0M37.8 286.0h0M32.2 287.3h0M36.2 282.5h0M31.2 280.7h0M44.9 286.6h0M33.6 288.8h0M30.4 281.3h0M38.3 292.4h0M38.0 286.6h0M47.4 279.7h0M55.9 281.5h0M35.5 280.6h0M28.1 285.0h0M51.9 282.2h0M32.0 287.1h0M29.4 285.0h0M41.3 277.2h0M34.0 284.8h0M32.7 285.5h0M32.6 281.8h0M44.2 294.1h0M41.2 282.5h0M45.2 288.0h0M30.7 288.5h0M32.2 288.3h0M42.0 290.7h0M29.1 285.5h0M36.0 281.0h0M38.7 288.8h0M27.0 283.8h0M28.8 280.8h0M29.1 291.6h0M31.7 284.4h0M42.4 290.2h0M45.1 277.6h0M40.9 278.9h0M31.9 284.3h0M32.3 294.0h0M34.9 290.8h0M34.8 285.8h0M39.3 287.8h0M39.3 278.9h0M39.3 287.3h0M39.9 285.8h0M38.7 280.7h0M43.4 281.1h0M45.1 290.1h0M35.6 284.8h0M41.1 284.8h0M28.3 287.1h0M28.1 284.1h0M47.7 289.3h0M33.1 285.7h0M31.8 286.0h0M26.6 288.8h0M36.1 283.5h0M32.0 296.7h0M33.1 284.1h0M32.2 284.0h0M44.5 288.8h0M38.7 287.5h0M28.6 276.1h0M45.8 288.9h0M37.4 287.1h0M37.3 286.1h0M34.3 276.9h0M39.7 286.2h0M42.4 287.3h0M34.1 288.5h0M37.2 284.2h0M33.6 284.3h0M34.1 284.2h0M35.3 290.6h0M32.9 285.4h0M31.2 280.4h0M30.5 283.9h0M37.0 284.6h0M28.2 284.5h0M45.8 282.4h0M36.4 290.1h0M30.8 283.7h0M54.8 291.1h0M32.6 286.7h0M36.7 286.6h0M39.0 284.8h0M37.0 280.4h0M33.9 292.1h0M37.5 283.3h0M36.9 290.3h0M31.7 284.2h0M35.4 283.6h0M36.7 286.4h0M28.4 283.5h0M27.9 287.2h0M37.7 288.7h0M30.3 283.8h0M43.0 287.8h0M40.1 286.9h0M38.4 289.8h0M44.2 294.2h0M34.3 289.4h0M41.6 287.7h0M37.7 280.8h0M43.1 282.4h0M31.8 282.5h0M39.6 282.1h0M39.0 288.3h0M36.7 284.6h0M39.9 291.3h0M33.0 281.7h0M32.1 282.4h0M34.5 285.4h0M30.7 284.3h0M29.4 286.9h0M41.5 278.6h0M37.4 292.2h0M34.2 289.7h0M38.0 282.2h0M42.4 283.5h0M38.3 284.4h0M34.6 286.6h0M44.6 279.1h0M28.8 286.4h0M42.3 285.2h0M34.8 288.1h0M46.2 282.3h0M41.0 280.6h0M43.3 289.8h0M41.1 282.6h0M27.6 288.7h0M37.7 288.8h0M27.3 274.0h0M43.3 290.1h0M34.2 286.0h0M38.9 289.0h0M34.8 283.9h0M29.7 290.2h0M36.6 272.1h0M38.2 283.7h0M27.7 283.9h0M27.7 284.2h0M32.4 288.1h0M29.4 278.6h0M32.1 280.4h0M40.8 285.2h0M35.8 285.8h0M37.9 290.0h0M43.1 285.5h0M27.6 284.5h0M40.2 282.3h0M44.2 282.1h0M28.7 289.4h0M35.3 287.3h0M34.0 286.1h0M32.2 293.7h0M40.2 285.5h0M39.1 289.4h0M32.6 286.7h0M37.3 283.7h0M31.0 285.2h0M34.0 284.3h0M40.2 286.3h0M47.1 289.5h0M33.7 283.3h0M39.2 284.5h0M34.1 285.1h0M40.0 286.8h0M49.1 283.0h0M35.4 287.3h0M33.1 283.9h0M47.3 280.1h0M38.2 278.9h0M38.2 278.2h0M28.4 290.6h0M46.0 286.5h0M37.6 281.5h0M33.7 280.6h0M35.4 285.6h0M36.8 289.2h0M31.8 277.0h0M28.4 280.9h0M33.6 284.2h0M35.7 291.5h0M36.2 281.6h0M34.0 282.4h0M34.4 288.3h0M66.6 287.9h0M71.5 290.8h0M71.3 285.8h0M66.2 292.5h0M68.4 286.3h0M67.9 282.2h0M69.5 280.6h0M66.2 287.4h0M67.9 282.6h0M69.3 290.4h0M68.0 285.0h0M69.4 288.8h0M70.3 287.9h0M67.4 287.3h0M68.5 279.6h0M70.6 287.5h0M70.8 285.3h0M69.7 285.3h0M68.8 288.7h0M68.6 287.6h0M68.4 289.7h0M69.6 279.8h0M71.3 287.0h0M67.6 283.3h0M71.9 285.8h0M69.4 287.6h0M67.5 291.6h0M72.1 282.8h0M70.4 279.9h0M67.9 285.7h0M68.6 287.5h0M69.2 286.8h0M68.3 286.5h0M67.6 292.3h0M68.6 289.8h0M68.7 285.0h0M68.2 281.0h0M72.0 286.9h0M68.7 283.9h0M70.7 284.4h0M67.7 283.6h0M71.1 286.6h0M68.3 283.3h0M70.7 286.5h0M67.9 288.6h0M70.0 282.1h0M70.4 289.3h0M68.1 280.9h0M70.4 284.3h0M68.2 284.5h0M68.0 288.4h0M66.7 287.3h0M70.5 289.1h0M69.7 286.4h0M68.2 285.1h0M67.0 291.3h0M68.3 282.0h0M69.9 290.7h0M69.0 284.4h0M66.6 287.7h0M68.1 283.2h0M69.5 281.1h0M69.7 277.2h0M67.5 280.6h0M68.1 288.2h0M66.3 290.2h0M67.4 283.9h0M70.2 283.0h0M71.0 284.8h0M68.4 282.2h0M70.4 285.3h0M67.7 282.3h0M67.5 285.2h0M67.3 288.2h0M68.5 283.4h0M69.3 290.4h0M65.0 286.7h0M70.3 286.0h0M69.9 280.2h0M67.3 289.0h0M68.4 285.7h0M69.6 286.8h0M69.3 283.8h0M68.0 290.0h0M67.7 280.6h0M67.9 288.6h0M71.5 286.0h0M67.5 287.6h0M69.0 289.5h0M69.4 288.1h0M69.4 286.9h0M67.0 284.9h0M71.2 290.1h0M70.1 286.9h0M68.3 286.7h0M68.0 289.2h0M68.0 282.9h0M65.8 290.8h0M67.3 282.6h0M69.2 291.6h0M69.6 284.4h0M69.5 282.7h0M68.1 285.6h0M68.6 288.2h0M69.4 291.9h0M69.9 284.5h0M69.0 282.6h0M67.5 284.3h0M70.2 283.2h0M66.0 282.1h0M66.5 284.9h0M68.0 281.5h0M67.2 284.1h0M69.2 287.6h0M70.7 284.6h0M69.6 285.8h0M66.7 283.3h0M72.2 285.0h0M71.3 288.3h0M71.3 284.9h0M70.1 284.5h0M66.7 281.5h0M69.3 280.0h0M69.2 282.5h0M69.1 280.8h0M70.0 284.7h0M66.0 280.6h0M68.7 279.9h0M69.1 287.2h0M67.5 290.3h0M70.9 286.6h0M69.3 287.1h0M68.1 290.0h0M67.7 277.0h0M68.6 287.0h0M69.9 281.8h0M70.9 282.7h0M69.6 288.0h0M68.9 289.4h0M67.8 292.5h0M69.4 284.1h0M72.9 285.5h0M65.9 290.3h0M71.1 283.5h0M66.9 289.3h0M68.7 282.2h0M67.8 285.7h0M70.2 290.8h0M67.5 290.7h0M66.1 287.9h0M68.3 287.0h0M67.9 283.1h0M69.0 289.4h0M64.9 285.7h0M67.9 281.9h0M66.4 287.3h0M69.5 287.7h0M65.3 280.3h0M67.6 284.0h0M71.5 284.2h0M68.8 288.9h0M71.3 286.8h0M69.1 292.1h0M67.9 279.4h0M67.3 284.4h0M70.7 286.6h0M70.6 285.9h0M68.6 283.5h0M66.5 287.2h0M69.2 287.5h0M67.7 284.1h0M69.2 287.6h0M71.8 282.5h0M70.2 288.5h0M68.1 286.0h0M68.5 290.7h0M72.8 286.6h0M68.2 288.7h0M69.4 284.9h0M69.8 288.5h0M67.9 288.4h0M64.9 281.1h0M68.1 286.0h0M66.2 290.5h0M68.0 286.0h0M68.5 288.1h0M67.6 288.0h0M67.2 280.5h0M69.4 286.1h0M70.0 278.9h0M68.8 283.3h0M68.3 284.2h0M68.0 283.2h0M70.3 279.6h0M65.8 286.7h0M71.9 282.9h0M67.1 281.5h0M66.9 289.8h0M69.7 288.6h0M69.1 286.3h0M33.4 265.4h0M41.5 281.8h0M34.8 276.0h0M32.5 270.2h0M48.8 269.7h0M41.6 267.3h0M50.0 264.2h0M41.1 268.9h0M38.6 271.7h0M46.2 274.2h0M44.4 271.8h0M30.1 276.4h0M47.7 272.3h0M42.7 268.9h0M27.5 274.7h0M32.4 279.1h0M42.0 269.9h0M33.1 270.5h0M30.5 268.2h0M48.1 268.6h0M49.7 269.6h0M40.1 265.6h0M35.3 267.9h0M27.9 279.2h0M41.3 269.6h0M29.9 270.2h0M30.2 265.4h0M36.0 280.3h0M33.6 256.2h0M27.7 269.4h0M37.7 266.4h0M49.3 272.6h0M33.0 262.2h0M38.5 266.8h0M44.2 265.0h0M45.4 267.8h0M38.6 268.7h0M41.5 275.5h0M33.6 265.7h0M50.1 274.6h0M50.2 274.6h0M38.2 277.8h0M32.7 268.0h0M34.5 273.3h0M31.5 269.2h0M31.5 268.9h0M44.9 275.3h0M35.8 282.2h0M32.5 272.2h0M34.0 259.5h0M29.2 275.9h0M36.4 271.3h0M45.8 270.2h0M32.9 267.1h0M30.8 272.6h0M34.0 272.5h0M27.0 268.0h0M51.2 271.7h0M36.5 275.7h0M39.1 277.3h0M29.3 273.7h0M30.0 273.3h0M53.9 277.3h0M31.4 272.0h0M40.3 266.6h0M38.9 264.9h0M43.8 274.4h0M36.1 273.3h0M53.4 269.2h0M34.1 266.3h0M43.3 274.8h0M41.3 277.8h0M32.9 268.0h0M40.1 257.1h0M35.8 270.3h0M30.7 271.1h0M44.4 267.0h0M41.0 269.3h0M36.1 270.6h0M47.5 272.5h0M41.9 270.7h0M37.1 270.5h0M33.7 262.6h0M47.3 278.8h0M47.9 261.2h0M40.9 264.4h0M35.9 267.5h0M32.9 266.3h0M33.9 273.7h0M48.1 274.4h0M37.1 269.3h0M35.5 269.9h0M32.9 269.2h0M42.9 268.9h0M31.6 269.4h0M37.7 269.6h0M35.4 273.4h0M36.8 265.2h0M41.0 266.6h0M42.4 273.9h0M40.4 271.5h0M27.9 269.1h0M38.0 273.1h0M29.5 269.3h0M26.6 270.9h0M37.7 270.6h0M48.4 273.5h0M35.8 267.2h0M34.1 273.8h0M43.4 267.6h0M36.3 267.9h0M41.8 270.9h0M32.2 265.8h0M46.0 263.3h0M51.0 267.4h0M43.0 272.7h0M42.9 275.4h0M33.9 269.9h0M43.9 272.7h0M31.9 266.4h0M27.2 271.3h0M33.5 262.6h0M33.3 271.6h0M38.4 268.9h0M38.2 273.1h0M28.9 266.1h0M43.8 273.5h0M27.5 266.5h0M47.1 273.6h0M36.1 274.9h0M46.5 276.8h0M27.6 263.8h0M33.6 269.8h0M34.7 271.2h0M47.3 275.3h0M44.0 270.0h0M48.5 272.2h0M38.8 269.9h0M37.0 274.3h0M52.7 269.1h0M29.1 274.9h0M38.8 265.5h0M43.8 270.1h0M30.6 257.9h0M30.3 271.8h0M30.0 274.7h0M52.3 271.5h0M38.7 269.6h0M43.1 270.2h0M44.3 276.8h0M43.0 265.4h0M41.7 268.8h0M39.3 274.6h0M32.6 271.0h0M47.3 266.0h0M35.8 273.5h0M35.5 274.9h0M30.2 262.9h0M39.7 269.4h0M39.3 274.6h0M44.4 268.4h0M34.5 260.8h0M30.4 271.2h0M38.6 262.9h0M42.6 269.8h0M44.7 268.3h0M43.8 264.7h0M42.0 272.0h0M41.8 278.0h0M42.5 272.4h0M50.0 284.0h0M53.0 290.4h0M61.7 268.1h0M52.9 268.4h0M70.9 264.3h0M35.5 261.5h0M39.1 288.5h0M61.4 261.5h0M47.8 292.6h0M75.4 260.4h0M74.5 252.6h0M77.3 265.1h0M75.1 251.3h0M61.5 294.0h0M68.2 277.1h0M34.3 261.1h0M74.5 291.2h0M37.6 266.2h0M57.6 264.3h0M37.2 291.3h0M32.0 280.1h0M47.0 272.3h0M70.8 285.4h0M65.9 250.6h0M67.7 287.7h0M26.3 260.6h0M63.6 291.4h0M53.9 292.3h0M63.3 286.0h0M63.8 276.0h0M61.1 290.4h0M52.4 287.1h0M56.5 286.6h0M60.6 276.3h0M54.9 290.0h0M59.5 289.9h0M61.8 288.2h0M58.1 285.1h0M58.2 288.3h0M57.2 289.3h0M67.9 278.3h0M59.2 286.6h0M68.9 289.5h0M60.5 275.8h0M64.2 281.2h0M61.0 285.9h0M53.1 289.1h0M64.6 286.7h0M63.0 285.7h0M53.2 281.6h0M64.1 282.4h0M60.2 285.8h0M60.5 285.2h0M62.5 284.0h0M54.6 282.7h0M64.8 280.8h0M62.4 285.5h0M55.7 270.7h0M60.0 280.3h0M57.0 288.4h0M56.3 285.7h0M60.7 285.0h0M69.9 274.7h0M64.8 283.3h0M58.7 280.9h0M60.3 284.2h0M55.5 291.7h0M56.4 283.4h0M56.6 262.6h0M66.2 266.1h0M69.9 260.1h0M73.6 261.6h0M73.3 268.5h0M61.7 258.0h0M67.3 267.4h0M66.4 266.1h0" stroke="#000" stroke-width="0.62" stroke-linecap="round" fill="none" opacity="1"/>
</g>
<g filter="url(#s)">
<g filter="url(#b)">
<ellipse cx="92.3" cy="259.9" rx="9.5" ry="1.3" fill="#000"/>
<ellipse cx="91.6" cy="286" rx="6.2" ry="3.2" fill="#000" opacity=".85"/>
<ellipse cx="124.3" cy="285.5" rx="1.7" ry="3.6" fill="#000"/>
</g>
<path d="M96.8 261.1h0M102.2 259.6h0M81.9 259.9h0M86.6 258.5h0M91.2 260.9h0M98.3 258.9h0M89.5 261.7h0M100.7 260.4h0M96.4 256.7h0M96.5 260.5h0M82.1 260.2h0M95.8 259.9h0M98.3 261.1h0M92.8 259.7h0M83.7 261.4h0M88.2 260.4h0M103.7 261.0h0M83.0 259.9h0M87.1 258.0h0M86.5 260.7h0M94.9 259.7h0M93.7 258.6h0M86.7 259.8h0M98.3 259.6h0M91.2 260.4h0M103.3 258.5h0M96.3 260.2h0M91.9 260.3h0M90.6 258.5h0M98.6 259.9h0M89.9 260.9h0M85.6 259.1h0M98.5 261.1h0M107.3 259.4h0M83.5 260.1h0M90.6 259.2h0M84.9 259.2h0M89.7 261.5h0M97.0 261.7h0M98.4 260.9h0M101.1 260.6h0M103.8 261.4h0M105.8 260.3h0M86.7 263.1h0M90.3 260.6h0M89.6 259.2h0M95.6 258.6h0M91.2 261.7h0M93.3 261.0h0M97.1 260.5h0M93.2 260.8h0M85.2 260.7h0M84.4 259.1h0M88.0 258.4h0M96.1 260.8h0M108.7 260.2h0M97.9 259.1h0M97.6 258.6h0M106.9 258.8h0M89.3 260.9h0M85.3 260.2h0M99.6 260.2h0M99.3 259.4h0M96.8 257.3h0M103.5 259.2h0M86.0 260.0h0M104.9 259.1h0M92.2 259.6h0M85.5 258.4h0M96.7 260.9h0M86.8 260.3h0M95.7 260.5h0M91.1 260.1h0M94.4 258.7h0M91.3 261.0h0M88.2 261.6h0M90.6 258.7h0M90.2 258.3h0M96.9 258.1h0M92.5 259.7h0M90.1 260.5h0M94.5 259.3h0M98.4 259.5h0M99.0 261.6h0M95.1 261.1h0M82.4 260.7h0M97.5 256.7h0M86.6 259.1h0M85.4 260.0h0M97.0 258.6h0M87.7 257.7h0M87.1 257.4h0M98.8 259.0h0M94.9 259.1h0M100.2 262.1h0M87.6 259.4h0M103.9 261.9h0M92.2 260.8h0M90.2 259.8h0M94.5 258.1h0M84.6 262.6h0M97.7 260.6h0M92.7 258.0h0M88.9 258.1h0M106.8 260.4h0M97.7 260.3h0M89.4 261.4h0M98.8 260.8h0M96.6 260.9h0M90.2 260.5h0M92.9 259.7h0M97.1 262.6h0M89.1 261.5h0M84.8 259.8h0M99.9 259.9h0M94.9 258.5h0M83.8 262.0h0M93.5 259.9h0M82.1 258.7h0M84.7 259.9h0M91.5 259.3h0M87.4 260.1h0M101.0 258.3h0M81.8 261.4h0M93.2 262.2h0M91.7 261.3h0M93.4 259.0h0M93.7 257.5h0M98.4 261.8h0M90.8 261.0h0M84.5 261.8h0M87.5 259.0h0M86.7 257.8h0M97.3 262.5h0M95.6 259.3h0M99.7 260.1h0M84.4 259.6h0M101.3 261.4h0M91.7 260.5h0M88.5 260.2h0M87.9 260.2h0M88.5 260.2h0M97.4 260.0h0M82.7 260.6h0M90.5 259.4h0M96.5 259.0h0M99.2 260.7h0M87.2 259.1h0M91.4 258.9h0M99.3 257.2h0M93.4 259.6h0M84.2 260.8h0M88.7 260.6h0M89.1 259.7h0M96.2 261.2h0M99.7 260.0h0M103.3 259.6h0M82.2 257.7h0M92.5 260.0h0M94.1 259.9h0M90.4 259.6h0M92.6 258.6h0M101.7 261.9h0M92.6 262.8h0M85.2 261.1h0M86.8 261.2h0M93.2 261.2h0M96.8 260.6h0M90.3 262.0h0M94.9 260.6h0M102.9 259.7h0M105.2 261.3h0M92.9 258.2h0M101.3 259.6h0M93.0 260.2h0M99.4 260.8h0M94.9 260.2h0M98.2 260.7h0M104.3 259.1h0M102.0 260.5h0M94.5 260.8h0M89.8 260.9h0M90.8 260.9h0M86.7 261.4h0M92.0 260.3h0M86.5 259.5h0M94.2 261.3h0M101.9 259.4h0M91.8 259.6h0M100.7 258.3h0M113.4 261.2h0M105.1 260.2h0M104.1 259.3h0M101.7 260.9h0M98.1 260.9h0M96.7 260.8h0M101.1 260.5h0M97.0 260.5h0M93.4 258.9h0M83.2 258.2h0M97.4 259.6h0M101.7 263.8h0M98.0 259.4h0M95.1 259.8h0M94.4 262.6h0M104.1 261.6h0M94.5 262.2h0M98.5 261.1h0M83.7 259.2h0M93.6 259.7h0M88.5 257.5h0M86.9 259.9h0M94.6 258.7h0M91.4 262.2h0M93.5 257.6h0M91.0 260.0h0M101.7 260.2h0M102.5 260.4h0M101.0 261.7h0M103.7 260.2h0M97.1 264.8h0M83.4 260.3h0M95.9 259.1h0M98.5 259.8h0M98.2 260.2h0M85.5 261.3h0M107.2 261.1h0M94.4 257.9h0M94.8 260.0h0M86.5 257.6h0M95.7 261.2h0M97.6 262.8h0M92.2 261.8h0M92.1 258.8h0M91.9 260.5h0M87.0 259.0h0M94.3 261.1h0M90.7 260.6h0M88.7 259.6h0M93.8 261.2h0M102.0 285.5h0M94.7 293.9h0M97.2 284.6h0M94.5 280.3h0M87.3 280.7h0M98.4 284.2h0M92.4 286.3h0M90.6 281.3h0M104.2 278.1h0M91.7 288.8h0M90.6 285.6h0M93.9 287.0h0M89.7 290.3h0M95.1 292.0h0M92.5 278.1h0M94.8 279.5h0M88.3 291.0h0M94.0 283.2h0M91.2 286.5h0M89.2 284.8h0M87.9 286.9h0M102.0 291.8h0M84.0 295.3h0M91.1 280.4h0M82.4 286.6h0M93.4 283.5h0M86.8 285.2h0M93.6 288.7h0M95.4 276.5h0M88.1 287.1h0M94.3 289.2h0M82.5 292.3h0M84.3 285.2h0M89.0 284.1h0M87.0 289.3h0M96.9 287.4h0M83.8 283.5h0M91.5 287.6h0M88.4 285.0h0M108.5 286.3h0M90.0 276.2h0M87.2 292.5h0M97.3 281.3h0M96.9 286.7h0M86.9 289.2h0M88.1 284.8h0M92.0 286.9h0M89.1 287.2h0M91.9 286.8h0M94.4 283.5h0M83.3 285.7h0M99.7 287.3h0M93.3 283.1h0M84.7 281.1h0M86.1 284.5h0M82.2 285.5h0M82.0 288.6h0M91.8 279.0h0M88.5 287.0h0M94.3 289.1h0M89.7 285.4h0M90.4 288.2h0M87.6 285.4h0M92.8 284.6h0M85.1 291.5h0M95.1 282.4h0M104.3 283.0h0M86.4 284.6h0M95.3 292.0h0M100.5 288.2h0M92.3 288.7h0M87.0 283.2h0M95.3 286.8h0M93.4 282.0h0M93.5 280.3h0M97.7 286.1h0M87.9 284.2h0M87.5 291.5h0M92.0 287.1h0M85.9 280.8h0M93.4 284.3h0M95.1 290.3h0M91.2 288.2h0M93.0 287.0h0M88.7 287.0h0M94.7 286.3h0M89.1 280.2h0M85.2 292.3h0M98.3 287.2h0M93.8 285.4h0M96.2 289.9h0M90.4 287.3h0M97.9 279.7h0M86.0 283.7h0M84.6 284.3h0M86.6 284.4h0M94.9 281.3h0M92.5 291.5h0M93.1 281.1h0M88.1 290.7h0M90.3 283.5h0M96.8 283.2h0M84.9 288.5h0M92.0 283.4h0M94.8 290.4h0M98.7 286.4h0M94.8 288.0h0M82.6 292.7h0M87.8 283.8h0M86.8 282.2h0M98.8 286.1h0M88.3 278.7h0M93.0 285.8h0M85.5 285.6h0M84.3 288.0h0M92.5 277.5h0M84.9 283.4h0M96.9 288.4h0M95.9 292.7h0M90.1 284.0h0M95.5 282.7h0M86.5 289.8h0M100.0 278.9h0M94.9 286.0h0M97.6 284.7h0M91.2 291.7h0M88.2 287.7h0M95.9 285.6h0M97.4 288.1h0M97.1 279.2h0M85.5 287.2h0M99.2 291.8h0M92.0 283.1h0M85.1 278.3h0M88.8 288.4h0M91.5 280.1h0M91.3 286.2h0M87.3 291.9h0M94.7 290.4h0M92.6 282.1h0M98.7 290.5h0M88.3 280.7h0M97.0 283.8h0M84.7 285.7h0M95.4 283.0h0M92.2 290.0h0M96.6 279.8h0M96.4 293.1h0M97.7 285.7h0M94.2 279.7h0M88.3 284.0h0M104.9 286.0h0M85.9 292.8h0M99.6 279.4h0M90.7 279.3h0M98.4 276.9h0M103.5 281.8h0M85.4 294.5h0M95.3 287.5h0M97.3 282.1h0M97.4 284.9h0M95.2 287.0h0M100.6 280.9h0M83.3 288.7h0M106.7 288.2h0M90.9 288.7h0M84.4 286.4h0M96.4 292.9h0M88.8 289.8h0M100.3 281.8h0M90.2 278.6h0M86.5 287.8h0M96.4 291.8h0M88.1 276.8h0M85.6 288.4h0M91.8 288.9h0M90.1 288.7h0M85.9 282.1h0M90.9 279.0h0M99.6 285.0h0M85.8 282.6h0M85.9 286.5h0M89.7 289.5h0M84.8 285.8h0M82.6 284.2h0M100.4 285.6h0M97.5 285.8h0M85.1 282.5h0M84.9 287.4h0M102.3 289.5h0M85.9 286.5h0M86.3 295.5h0M87.4 290.7h0M83.5 289.1h0M84.3 284.2h0M93.0 286.6h0M91.6 285.8h0M86.6 285.6h0M91.5 282.3h0M95.4 286.7h0M87.2 291.3h0M88.4 278.4h0M99.8 284.5h0M101.0 287.8h0M86.4 290.5h0M94.8 289.8h0M92.2 292.3h0M97.7 284.7h0M82.6 285.9h0M92.3 282.1h0M90.7 292.1h0M89.0 290.6h0M86.1 282.1h0M97.7 285.3h0M93.3 290.2h0M102.0 281.0h0M95.5 287.0h0M92.8 293.3h0M90.4 283.6h0M95.0 277.9h0M94.2 282.4h0M93.9 283.0h0M95.1 285.0h0M87.5 288.2h0M96.5 279.6h0M83.9 285.0h0M89.5 291.4h0M101.8 288.0h0M98.7 284.7h0M83.4 287.3h0M93.5 290.7h0M87.9 279.5h0M90.6 288.0h0M90.6 284.0h0M92.4 285.3h0M100.5 280.7h0M93.6 279.8h0M91.6 287.8h0M94.0 287.3h0M87.2 280.2h0M97.8 284.6h0M83.4 292.3h0M96.5 274.7h0M107.9 286.6h0M81.9 289.9h0M93.9 291.1h0M92.0 279.3h0M90.9 284.3h0M93.7 285.3h0M95.4 281.1h0M88.5 283.9h0M94.5 279.1h0M91.9 295.7h0M92.5 290.0h0M92.2 287.1h0M94.1 287.9h0M84.4 285.5h0M103.2 291.8h0M86.6 282.2h0M90.8 290.3h0M97.6 283.6h0M101.1 288.7h0M95.6 288.3h0M103.3 290.4h0M100.8 281.4h0M88.6 286.0h0M91.7 285.8h0M107.6 285.2h0M90.6 285.5h0M89.7 280.3h0M98.8 286.1h0M94.1 286.2h0M87.0 279.6h0M90.1 288.2h0M91.1 289.0h0M86.9 284.8h0M92.8 285.6h0M92.9 291.8h0M89.2 286.6h0M87.8 288.2h0M93.2 283.0h0M85.6 281.2h0M90.1 286.6h0M88.8 285.6h0M92.7 295.5h0M99.2 295.4h0M92.7 286.9h0M104.0 287.6h0M95.9 284.0h0M88.5 289.2h0M88.1 283.3h0M82.5 287.2h0M91.3 288.2h0M86.4 281.0h0M98.7 286.1h0M96.8 281.4h0M83.8 275.8h0M93.7 290.0h0M100.1 293.2h0M88.5 282.8h0M90.5 282.8h0M82.7 285.8h0M92.6 282.9h0M92.0 280.7h0M89.8 284.6h0M89.0 285.7h0M83.9 280.6h0M86.6 289.0h0M85.9 282.2h0M104.2 285.0h0M89.4 282.4h0M101.0 288.1h0M93.5 292.5h0M84.4 279.2h0M98.7 287.8h0M88.6 289.2h0M91.2 293.9h0M83.9 287.5h0M97.9 289.6h0M89.6 284.4h0M89.1 288.8h0M89.3 285.4h0M98.2 285.6h0M93.3 285.5h0M91.9 277.0h0M85.9 287.5h0M87.8 283.5h0M92.1 295.3h0M87.1 282.1h0M91.5 282.6h0M89.2 290.0h0M98.2 287.5h0M99.0 290.1h0M88.9 289.2h0M92.8 289.1h0M93.5 294.7h0M84.0 287.5h0M85.0 295.4h0M88.6 284.5h0M91.7 285.8h0M102.5 285.8h0M93.4 290.3h0M101.2 282.1h0M93.7 280.6h0M94.9 291.8h0M88.5 284.9h0M99.2 287.8h0M96.8 284.1h0M89.8 284.5h0M101.6 279.9h0M88.6 292.4h0M91.4 281.5h0M93.3 285.1h0M91.0 288.0h0M96.7 279.9h0M93.0 292.1h0M83.4 285.6h0M84.5 288.7h0M86.5 284.6h0M89.2 287.9h0M83.6 280.3h0M93.0 291.5h0M88.6 287.7h0M93.4 286.4h0M91.7 283.7h0M90.3 290.9h0M94.6 291.2h0M87.2 286.5h0M87.8 280.6h0M97.4 284.8h0M93.3 280.2h0M90.2 285.5h0M89.4 290.2h0M94.6 286.5h0M93.2 284.2h0M87.3 284.9h0M85.4 285.3h0M91.1 290.6h0M89.1 295.9h0M88.5 286.5h0M91.6 283.5h0M91.4 278.7h0M98.8 283.6h0M91.6 278.6h0M95.3 280.7h0M100.3 281.7h0M87.2 288.7h0M99.8 277.9h0M94.5 279.8h0M89.0 288.9h0M89.3 292.2h0M87.3 286.7h0M99.0 292.1h0M93.2 288.4h0M89.7 285.7h0M88.2 287.6h0M97.0 281.9h0M84.5 286.2h0M104.2 286.9h0M92.6 285.8h0M101.2 277.3h0M103.0 281.1h0M104.5 296.8h0M101.1 285.4h0M95.4 283.7h0M89.0 286.8h0M89.8 281.5h0M90.0 288.7h0M86.9 287.5h0M83.4 286.4h0M84.6 289.2h0M85.3 288.5h0M98.6 282.6h0M92.1 282.4h0M94.7 289.1h0M98.9 291.5h0M99.9 283.0h0M92.5 288.2h0M92.9 280.6h0M104.4 296.5h0M92.1 275.2h0M103.1 285.2h0M105.9 281.7h0M95.0 289.3h0M82.8 284.6h0M94.8 288.7h0M94.2 275.2h0M101.7 279.6h0M94.2 289.8h0M85.7 279.4h0M93.4 284.1h0M91.1 285.1h0M91.0 287.3h0M88.4 285.8h0M88.2 282.4h0M93.9 282.5h0M95.1 285.9h0M98.5 288.4h0M95.8 286.4h0M92.0 290.5h0M95.9 280.4h0M92.3 290.1h0M92.7 280.7h0M96.6 288.5h0M98.9 286.7h0M92.4 289.5h0M84.9 293.1h0M94.2 286.9h0M96.5 289.3h0M91.1 282.7h0M97.4 289.9h0M94.1 283.4h0M92.4 282.0h0M107.4 283.2h0M97.2 292.8h0M86.4 283.8h0M83.5 286.6h0M90.3 286.0h0M92.0 284.0h0M92.4 285.7h0M87.3 284.7h0M88.2 280.6h0M91.6 278.2h0M95.0 285.8h0M92.8 290.8h0M97.7 284.2h0M93.9 290.9h0M90.7 287.6h0M94.3 281.7h0M93.5 284.4h0M90.1 287.8h0M95.8 282.2h0M90.1 285.2h0M85.8 287.5h0M90.4 283.0h0M97.6 285.6h0M84.5 285.6h0M90.6 287.2h0M105.8 288.3h0M100.7 285.3h0M125.0 287.3h0M124.1 286.4h0M123.5 288.0h0M122.8 291.6h0M118.2 280.5h0M124.1 286.8h0M124.5 279.7h0M125.0 282.3h0M124.6 284.0h0M123.8 280.1h0M122.1 283.5h0M122.5 286.4h0M122.0 286.3h0M125.2 282.8h0M122.7 284.2h0M125.6 290.4h0M127.8 285.8h0M125.3 286.2h0M124.2 281.7h0M123.7 289.5h0M126.5 283.3h0M121.6 292.2h0M124.3 287.1h0M124.0 279.0h0M124.8 282.0h0M123.8 283.3h0M123.8 294.0h0M126.7 278.5h0M121.8 283.7h0M123.2 288.3h0M126.8 282.9h0M125.2 284.7h0M121.1 289.7h0M127.1 282.5h0M125.3 283.6h0M124.1 283.8h0M124.0 285.6h0M123.3 286.5h0M122.2 288.4h0M122.7 278.8h0M125.6 284.3h0M123.4 288.7h0M124.2 292.4h0M125.0 280.4h0M123.5 283.1h0M123.8 291.5h0M128.7 291.6h0M125.0 287.4h0M124.5 277.6h0M126.5 292.6h0M123.4 285.4h0M123.1 284.8h0M122.9 281.4h0M126.2 278.5h0M126.0 281.4h0M123.9 278.3h0M125.3 281.9h0M128.3 282.2h0M124.7 287.8h0M122.7 282.5h0M122.5 287.5h0M124.8 289.1h0M121.9 282.2h0M124.1 283.9h0M124.8 289.5h0M124.5 282.6h0M124.2 282.9h0M123.2 292.1h0M125.4 292.0h0M123.9 285.2h0M122.2 286.3h0M125.5 288.0h0M122.4 285.9h0M125.8 283.8h0M125.4 283.7h0M124.3 283.4h0M121.9 282.5h0M124.6 284.5h0M124.3 283.4h0M125.7 284.9h0M124.9 283.8h0M126.4 285.1h0M125.0 293.4h0M125.0 279.9h0M123.2 286.6h0M122.1 280.2h0M124.1 279.8h0M126.1 287.0h0M123.8 289.8h0M123.2 281.3h0M125.8 285.6h0M123.9 289.2h0M124.1 287.8h0M124.6 289.6h0M125.2 283.8h0M126.7 284.2h0M127.1 281.0h0M124.4 277.5h0M125.1 290.3h0M123.6 287.2h0M123.9 290.6h0M124.8 286.8h0M126.1 280.1h0M125.4 286.0h0M126.4 285.6h0M125.3 285.3h0M122.7 283.7h0M124.0 280.7h0M124.2 283.8h0M127.3 284.6h0M124.5 285.8h0M125.4 279.7h0M121.4 291.1h0M122.9 282.3h0M126.2 286.6h0M123.0 288.2h0M122.4 291.3h0M123.8 286.7h0M124.3 292.3h0M122.7 285.1h0M127.8 278.2h0M123.5 286.5h0M123.9 287.1h0M126.2 281.4h0M123.2 290.2h0M127.5 276.0h0M125.2 289.0h0M123.2 282.4h0M122.5 284.8h0M122.4 288.0h0M123.2 287.3h0M121.7 288.7h0M125.4 288.9h0M124.7 293.7h0M125.9 285.7h0M126.9 284.2h0M124.5 291.3h0M123.5 285.5h0M124.7 286.2h0M123.9 289.1h0M127.8 284.1h0M121.9 283.8h0M122.0 281.0h0M122.6 289.3h0M124.5 288.0h0M124.1 289.1h0M123.6 290.2h0M125.7 286.3h0M121.9 281.6h0M124.7 281.8h0M124.0 284.9h0M126.5 283.1h0M124.5 283.9h0M123.1 287.1h0M125.9 280.4h0M126.7 293.5h0M124.6 287.4h0M122.6 284.1h0M124.8 285.2h0M126.5 282.4h0M123.9 287.4h0M124.2 284.6h0M124.1 286.9h0M121.2 294.8h0M125.5 281.7h0M122.8 281.5h0M125.0 278.9h0M128.3 283.5h0M122.0 292.8h0M124.3 287.3h0M124.0 284.6h0M127.6 278.5h0M124.7 282.9h0M123.7 285.3h0M121.3 287.7h0M124.6 287.5h0M123.3 288.1h0M123.5 288.3h0M126.5 287.7h0M122.0 285.8h0M122.6 292.4h0M124.6 281.0h0M121.8 290.2h0M122.7 287.0h0M123.8 285.0h0M123.6 285.5h0M126.9 282.4h0M125.1 287.2h0M123.2 281.6h0M122.9 287.6h0M124.6 289.2h0M124.9 285.9h0M124.3 286.3h0M124.4 287.9h0M122.9 289.3h0M127.0 285.2h0M125.2 281.3h0M124.5 280.4h0M125.9 285.7h0M126.1 289.5h0M87.9 274.0h0M103.2 280.9h0M92.1 272.7h0M88.6 273.2h0M96.8 277.2h0M91.8 270.3h0M96.2 269.2h0M106.7 259.1h0M97.5 270.1h0M95.7 262.6h0M96.8 272.7h0M103.8 274.1h0M88.7 266.4h0M85.3 267.6h0M92.2 276.2h0M103.9 270.4h0M96.8 269.2h0M84.2 272.6h0M88.0 262.1h0M87.2 277.3h0M85.1 276.7h0M83.7 269.7h0M96.2 268.1h0M86.3 270.0h0M104.1 273.3h0M94.2 272.8h0M100.8 276.5h0M91.0 265.7h0M86.2 270.3h0M90.8 270.1h0M88.7 282.2h0M88.2 277.0h0M87.1 266.2h0M85.0 264.7h0M81.9 266.0h0M91.2 273.4h0M92.1 270.0h0M97.3 275.7h0M90.9 276.1h0M93.3 265.5h0M96.4 274.8h0M94.4 269.9h0M91.2 273.3h0M84.2 267.5h0M94.2 276.1h0M92.8 265.5h0M111.2 271.6h0M87.9 267.1h0M99.9 280.5h0M93.5 263.5h0M98.7 270.5h0M90.1 271.0h0M85.0 271.0h0M95.2 275.9h0M106.4 267.0h0M95.4 266.2h0M93.7 275.7h0M97.2 268.6h0M105.0 274.4h0M101.2 270.4h0M101.9 269.3h0M98.7 270.2h0M92.8 262.5h0M99.5 272.9h0M88.6 270.4h0M96.9 273.2h0M85.9 279.3h0M100.6 270.7h0M94.2 271.4h0M90.1 277.5h0M88.3 267.4h0M91.3 262.3h0M99.9 264.3h0M103.1 274.7h0M106.6 267.1h0M90.8 267.8h0M98.3 265.7h0M90.7 258.7h0M93.2 271.1h0M106.4 265.9h0M99.4 272.8h0M98.9 264.6h0M99.4 270.9h0M102.7 280.6h0M88.1 268.0h0M103.3 261.8h0M95.1 277.5h0M97.9 269.8h0M89.0 261.0h0M96.4 267.0h0M90.2 271.6h0M88.6 279.9h0M92.0 275.6h0M86.1 262.2h0M98.9 268.3h0M83.6 275.3h0M96.3 261.5h0M91.3 279.9h0M93.6 263.3h0M87.1 276.9h0M103.2 273.5h0M82.5 274.2h0M87.2 267.5h0M89.4 275.4h0M96.4 272.9h0M89.8 267.5h0M100.3 267.0h0M90.9 272.8h0M91.6 275.0h0M96.7 273.2h0M108.8 267.3h0M107.3 263.6h0M87.4 257.6h0M88.2 266.0h0M97.8 276.3h0M108.9 267.4h0M100.3 269.1h0M90.4 260.3h0M98.9 265.3h0M97.4 266.7h0M96.2 265.3h0M95.6 279.1h0M95.5 263.1h0M87.4 270.7h0M98.5 263.8h0M86.5 261.9h0M105.1 271.5h0M95.1 267.8h0M106.2 272.9h0M92.2 276.2h0M96.9 268.6h0M90.3 270.1h0M102.5 262.9h0M100.2 277.4h0M96.9 262.5h0M98.6 270.9h0M85.9 261.9h0M82.1 270.4h0M83.9 271.8h0M91.8 273.3h0M98.9 265.4h0M90.3 273.8h0M88.4 275.2h0M97.0 274.6h0M88.7 274.0h0M91.4 271.1h0M97.3 267.2h0M92.6 258.0h0M88.1 273.2h0M85.3 259.3h0M82.9 268.5h0M97.5 272.7h0M83.0 272.1h0M84.4 275.5h0M95.6 266.8h0M89.6 269.6h0M88.9 275.9h0M95.0 267.1h0M96.0 263.0h0M93.9 268.3h0M88.9 269.7h0M94.4 262.6h0M95.4 285.0h0M98.3 267.0h0M95.3 278.4h0M85.4 278.4h0M90.4 279.6h0M87.2 275.3h0M88.9 276.4h0M99.0 271.7h0M100.1 278.1h0M123.1 273.4h0M130.8 257.2h0M119.6 268.8h0M92.9 265.8h0M101.2 273.1h0M107.1 287.7h0M122.7 268.9h0M121.4 278.3h0M83.8 289.4h0M127.4 280.4h0M108.0 293.2h0M132.3 277.6h0M84.8 274.5h0M92.4 272.1h0M112.9 260.3h0M85.3 273.4h0M116.9 274.9h0M123.8 297.5h0M131.9 265.9h0M105.0 277.4h0M93.2 294.7h0M121.4 295.9h0M101.8 273.8h0M108.7 254.7h0M95.2 281.2h0M129.5 252.8h0M99.2 274.2h0M112.5 286.1h0M117.8 287.8h0M119.6 285.4h0M125.3 288.0h0M112.2 279.4h0M112.5 290.8h0M110.6 292.0h0M117.9 281.0h0M111.1 283.5h0M119.4 283.6h0M119.3 284.9h0M122.3 281.5h0M115.2 278.2h0M114.3 278.9h0M108.6 282.9h0M119.1 272.5h0M109.8 276.9h0M117.6 286.9h0M117.4 283.0h0M112.2 284.9h0M111.7 282.8h0M117.7 282.7h0M121.5 272.9h0M108.3 289.1h0M113.2 281.6h0M113.2 283.7h0M115.1 285.8h0M120.2 293.4h0M105.8 283.4h0M111.6 285.1h0M111.1 284.3h0M117.1 283.8h0M116.9 287.3h0M110.8 283.7h0M120.8 288.7h0M120.4 279.8h0M112.7 289.0h0M115.8 285.5h0M114.2 288.6h0M116.6 278.9h0M121.9 260.6h0M118.3 264.3h0M120.7 259.7h0M113.2 260.2h0M119.1 257.1h0M116.3 271.5h0M116.2 262.2h0M112.9 260.7h0" stroke="#000" stroke-width="0.62" stroke-linecap="round" fill="none" opacity="1"/>
</g>
<g filter="url(#s)">
<g filter="url(#b)">
<path d="M25.900000000000002 310.35 L43 310.55 L47.5 311.8 L43 313.45 L25.900000000000002 313.65 Z" fill="#000"/>
<path d="M65.6 340.2 L65.4 334 L67.2 329 L69.8 329 L71.8 334 L72 340.2 Z" fill="#000"/>
</g>
<path d="M37.9 312.3h0M28.7 313.8h0M35.3 314.6h0M38.8 310.1h0M43.2 311.2h0M35.2 312.2h0M26.3 313.9h0M37.2 310.3h0M45.2 312.7h0M38.4 311.3h0M44.3 312.9h0M30.0 311.0h0M58.5 311.8h0M39.3 313.2h0M34.4 315.5h0M28.4 310.6h0M48.2 313.5h0M41.7 311.8h0M35.7 312.2h0M39.2 311.0h0M43.8 314.8h0M32.1 310.5h0M37.0 316.0h0M28.8 314.2h0M31.0 310.8h0M44.2 311.7h0M35.7 313.1h0M44.5 312.4h0M47.7 310.9h0M32.1 313.1h0M40.9 309.2h0M33.7 313.1h0M34.8 314.9h0M29.7 309.4h0M34.3 311.9h0M32.9 311.0h0M42.5 310.3h0M31.4 309.7h0M44.8 309.6h0M49.0 310.5h0M35.7 314.6h0M28.0 314.1h0M26.2 311.3h0M40.2 312.6h0M38.5 312.5h0M47.8 309.4h0M30.8 313.4h0M54.4 314.2h0M39.9 312.1h0M34.8 310.6h0M29.4 310.4h0M26.4 312.2h0M39.2 310.5h0M37.0 309.9h0M38.8 311.5h0M35.5 312.3h0M45.8 312.4h0M31.1 312.3h0M39.0 312.9h0M43.9 310.7h0M27.0 313.0h0M27.5 312.8h0M56.6 314.0h0M39.0 311.6h0M41.3 312.4h0M38.5 312.9h0M39.1 311.4h0M27.0 308.5h0M40.3 310.2h0M33.2 312.4h0M35.5 312.7h0M48.6 313.2h0M28.4 312.0h0M34.3 310.6h0M41.0 311.4h0M37.8 313.1h0M51.9 311.0h0M41.5 315.5h0M48.1 312.5h0M30.5 312.3h0M31.3 311.4h0M40.0 311.4h0M36.3 312.2h0M34.1 312.5h0M34.7 312.8h0M29.9 312.1h0M48.8 310.7h0M29.9 313.6h0M38.5 312.3h0M37.4 311.4h0M32.0 312.9h0M37.4 313.1h0M39.5 315.7h0M36.7 314.3h0M37.2 315.7h0M43.5 310.8h0M48.1 311.1h0M43.8 310.8h0M38.8 312.3h0M46.9 308.6h0M41.8 311.2h0M36.8 309.2h0M33.2 311.0h0M42.8 312.5h0M34.9 313.9h0M31.1 313.3h0M34.3 312.8h0M33.8 314.3h0M32.7 315.3h0M42.1 310.7h0M32.7 314.2h0M47.3 310.1h0M37.3 313.1h0M54.2 313.2h0M34.5 313.6h0M36.7 310.7h0M35.7 311.7h0M34.4 312.2h0M38.8 310.8h0M41.2 309.5h0M41.2 312.9h0M39.3 309.7h0M32.3 312.4h0M39.6 313.3h0M44.3 310.2h0M26.8 311.3h0M34.0 311.7h0M45.7 312.5h0M36.8 313.5h0M35.9 314.3h0M37.2 311.3h0M26.9 313.6h0M35.0 309.3h0M42.5 314.2h0M41.1 314.9h0M45.5 310.9h0M39.6 313.3h0M39.9 313.5h0M29.3 313.4h0M35.7 311.6h0M36.3 312.7h0M38.9 309.5h0M49.1 316.3h0M41.2 312.1h0M28.1 310.3h0M26.7 313.5h0M29.4 312.4h0M32.7 313.6h0M45.8 313.6h0M41.2 313.8h0M49.2 310.7h0M38.1 311.1h0M36.4 311.8h0M37.0 313.3h0M26.1 307.9h0M38.2 313.8h0M33.0 314.5h0M53.4 312.2h0M34.4 313.0h0M41.9 309.7h0M39.9 308.8h0M27.9 312.5h0M38.5 310.2h0M36.4 314.2h0M45.8 310.0h0M45.2 312.8h0M33.7 312.2h0M35.8 312.2h0M34.5 310.9h0M43.0 314.9h0M34.6 314.4h0M30.1 310.1h0M40.9 312.5h0M39.5 310.6h0M33.0 313.8h0M48.3 312.5h0M39.0 307.9h0M31.1 314.2h0M50.7 310.8h0M31.4 311.5h0M28.6 313.2h0M38.3 310.0h0M40.4 312.5h0M28.1 312.3h0M38.6 311.0h0M37.0 311.4h0M31.2 311.3h0M39.3 314.8h0M34.2 315.7h0M32.7 312.3h0M34.3 309.4h0M35.5 311.8h0M29.6 313.4h0M39.1 311.6h0M29.3 312.6h0M29.8 310.8h0M32.2 313.7h0M33.8 311.9h0M33.4 313.1h0M34.7 313.5h0M34.8 313.5h0M33.7 310.9h0M39.1 311.8h0M32.4 314.5h0M32.1 310.9h0M33.3 314.5h0M39.8 311.5h0M33.3 311.0h0M32.5 313.1h0M28.7 311.6h0M30.0 311.8h0M38.9 314.1h0M40.4 312.8h0M46.3 313.3h0M39.5 313.1h0M42.0 310.5h0M29.0 312.3h0M33.2 312.7h0M41.0 314.3h0M38.3 314.5h0M31.0 312.8h0M34.6 310.6h0M37.6 313.7h0M33.0 312.3h0M44.0 311.8h0M33.3 312.6h0M39.1 312.8h0M45.1 312.9h0M26.6 309.5h0M34.9 314.9h0M37.0 335.3h0M38.4 338.8h0M44.4 332.2h0M41.5 337.5h0M41.8 340.8h0M39.8 334.0h0M35.9 340.7h0M27.4 340.1h0M41.6 343.3h0M31.5 334.6h0M42.9 335.8h0M39.2 327.3h0M51.5 330.1h0M26.5 338.7h0M39.8 333.9h0M38.1 333.5h0M37.5 334.7h0M30.3 339.4h0M36.7 337.0h0M29.0 334.3h0M34.9 334.7h0M38.8 337.0h0M35.3 336.2h0M39.2 340.6h0M30.0 340.3h0M42.2 339.7h0M33.2 337.6h0M49.7 332.0h0M41.8 335.9h0M46.9 337.3h0M41.9 334.6h0M33.6 342.7h0M28.8 334.9h0M35.1 332.3h0M40.5 332.3h0M36.9 336.0h0M27.1 336.9h0M41.7 337.9h0M43.6 342.8h0M41.2 336.1h0M35.9 339.1h0M28.9 333.0h0M36.6 343.2h0M29.7 337.8h0M32.3 339.5h0M38.8 336.7h0M42.3 335.9h0M26.3 344.6h0M35.9 338.0h0M41.5 333.8h0M33.7 334.1h0M40.2 338.3h0M37.9 332.0h0M31.5 331.5h0M28.2 334.1h0M38.4 338.7h0M38.8 342.7h0M41.9 331.3h0M39.7 337.7h0M38.6 334.1h0M45.5 337.2h0M33.0 330.2h0M35.0 331.8h0M27.5 342.8h0M36.2 340.4h0M43.5 339.5h0M34.0 332.5h0M35.6 337.3h0M35.7 335.7h0M37.5 331.5h0M43.2 332.5h0M37.4 333.6h0M45.0 334.8h0M30.9 335.4h0M42.1 332.3h0M28.6 334.9h0M41.3 326.0h0M42.4 345.2h0M35.5 340.3h0M35.8 329.9h0M34.0 339.1h0M29.7 335.7h0M32.5 338.3h0M52.0 337.1h0M28.6 343.0h0M34.8 335.3h0M39.7 339.6h0M38.0 338.1h0M37.7 332.3h0M41.5 340.0h0M31.8 330.3h0M32.9 337.5h0M45.4 337.6h0M37.0 337.7h0M27.2 335.5h0M37.5 339.4h0M41.7 342.9h0M32.4 335.2h0M33.8 338.6h0M49.1 337.5h0M37.7 333.4h0M28.6 343.4h0M36.1 342.1h0M41.8 335.0h0M38.2 333.4h0M40.6 336.2h0M41.6 341.4h0M33.0 339.8h0M39.4 334.8h0M38.4 341.4h0M37.7 340.4h0M38.8 341.5h0M35.8 335.6h0M40.6 328.3h0M33.4 342.5h0M32.0 343.7h0M46.8 334.9h0M31.9 338.3h0M42.4 343.3h0M46.3 334.2h0M42.1 334.9h0M43.5 338.5h0M45.7 336.5h0M41.9 332.0h0M30.6 338.7h0M37.3 340.1h0M51.2 334.5h0M29.3 332.8h0M32.8 341.1h0M39.1 335.7h0M41.0 336.2h0M38.3 336.7h0M28.2 339.8h0M37.9 345.1h0M37.4 334.5h0M37.9 334.1h0M36.5 335.4h0M38.9 333.3h0M36.1 335.2h0M30.6 336.5h0M41.1 339.5h0M38.7 336.3h0M42.8 335.7h0M41.0 330.3h0M29.2 334.0h0M43.9 335.8h0M39.7 332.6h0M27.2 347.3h0M47.2 343.4h0M36.8 334.3h0M38.4 335.8h0M33.8 327.5h0M38.2 328.5h0M33.6 331.0h0M49.4 331.9h0M34.3 338.1h0M34.8 337.7h0M42.7 334.3h0M40.1 336.3h0M28.5 337.8h0M30.0 340.6h0M36.9 337.4h0M43.2 333.6h0M31.8 342.1h0M41.4 338.3h0M30.8 334.4h0M26.4 330.5h0M34.1 338.1h0M33.6 336.0h0M37.3 341.8h0M33.1 337.2h0M54.4 336.6h0M42.1 332.2h0M30.1 335.0h0M56.5 334.3h0M45.9 334.8h0M28.8 329.6h0M37.9 340.7h0M31.8 335.2h0M29.7 333.9h0M70.6 332.9h0M66.5 337.8h0M69.1 335.0h0M72.6 336.5h0M70.9 330.0h0M68.4 340.5h0M70.1 339.0h0M65.6 334.0h0M71.9 341.3h0M62.4 327.3h0M71.3 338.5h0M71.2 323.5h0M68.8 338.5h0M71.0 331.1h0M70.7 338.5h0M67.5 341.8h0M71.1 338.9h0M67.6 336.4h0M68.5 342.2h0M73.5 331.6h0M72.6 337.0h0M67.2 332.2h0M71.7 336.5h0M67.2 334.4h0M67.8 334.6h0M72.2 332.3h0M67.9 322.5h0M69.6 339.1h0M72.8 332.6h0M68.0 333.5h0M66.1 335.2h0M67.0 334.2h0M68.9 338.3h0M68.7 345.2h0M69.3 337.4h0M69.6 334.8h0M70.6 335.8h0M65.9 333.0h0M71.6 328.4h0M72.2 335.7h0M69.1 340.4h0M69.1 333.2h0M64.1 332.6h0M66.2 338.1h0M68.8 331.2h0M71.0 338.9h0M73.1 336.3h0M66.1 335.6h0M70.2 338.9h0M65.9 337.1h0M70.0 336.8h0M65.3 333.2h0M68.4 334.2h0M70.5 333.5h0M64.8 326.3h0M69.6 331.8h0M68.5 339.8h0M67.5 335.0h0M65.6 330.1h0M69.8 340.0h0M67.3 334.3h0M69.3 333.3h0M68.7 333.5h0M69.8 333.0h0M67.6 329.4h0M67.0 328.9h0M68.3 339.3h0M66.0 331.5h0M67.0 337.0h0M68.0 333.8h0M66.6 334.0h0M67.9 331.7h0M71.5 337.1h0M68.3 336.4h0M73.3 337.7h0M67.5 335.0h0M71.0 337.0h0M68.0 335.5h0M66.3 333.7h0M67.8 334.1h0M71.4 335.2h0M71.0 335.1h0M65.5 340.1h0M67.5 334.6h0M70.9 340.9h0M68.9 340.3h0M67.6 337.7h0M66.7 339.1h0M67.4 337.8h0M66.1 341.0h0M71.9 334.0h0M68.7 331.1h0M68.2 329.1h0M70.1 334.8h0M71.0 335.1h0M68.1 331.6h0M69.9 334.5h0M66.2 328.9h0M70.6 334.6h0M68.5 332.8h0M67.5 335.0h0M69.0 330.1h0M73.7 338.8h0M64.7 335.3h0M70.9 332.4h0M65.8 337.3h0M67.3 335.0h0M72.0 335.1h0M71.3 331.8h0M64.9 333.4h0M67.8 337.8h0M69.5 326.9h0M66.3 333.2h0M67.1 332.4h0M67.9 335.7h0M65.5 331.2h0M66.7 340.0h0M68.2 328.9h0M69.6 338.9h0M65.3 330.0h0M69.5 335.2h0M69.9 341.6h0M70.0 339.1h0M67.6 340.8h0M67.2 336.4h0M64.5 333.4h0M70.2 331.2h0M67.6 326.1h0M67.9 329.6h0M68.7 333.1h0M67.2 333.7h0M67.8 335.0h0M68.1 339.7h0M70.8 324.7h0M71.4 334.1h0M69.3 331.3h0M69.8 337.4h0M67.5 330.4h0M69.7 336.8h0M66.8 326.2h0M66.3 336.6h0M71.2 331.0h0M67.4 330.6h0M69.3 331.8h0M72.0 337.4h0M68.2 333.3h0M70.7 333.4h0M67.8 335.4h0M70.8 340.8h0M67.9 330.0h0M66.8 334.3h0M69.9 324.3h0M69.9 336.6h0M69.0 328.9h0M68.8 332.9h0M66.7 337.4h0M71.2 335.7h0M69.8 339.0h0M68.7 333.3h0M71.7 332.4h0M68.0 336.3h0M67.8 331.1h0M70.9 334.9h0M67.2 332.6h0M69.8 338.3h0M69.0 339.7h0M68.6 341.4h0M70.5 330.3h0M68.5 336.3h0M68.6 331.0h0M69.6 334.7h0M65.6 329.8h0M67.9 338.7h0M68.6 335.7h0M70.6 334.1h0M68.7 334.7h0M70.5 332.3h0M69.4 332.0h0M68.8 339.4h0M67.1 336.9h0M68.8 335.9h0M69.7 335.3h0M69.7 342.3h0M67.3 330.6h0M70.2 336.5h0M72.6 332.4h0M70.1 332.7h0M67.7 332.5h0M67.1 331.1h0M68.0 334.3h0M68.1 328.2h0M67.0 324.6h0M67.0 328.3h0M67.0 323.5h0M67.1 329.3h0M66.6 320.3h0M67.6 323.5h0M67.0 329.5h0M67.4 316.5h0M67.8 319.6h0M67.3 323.0h0M67.0 323.3h0M67.6 327.5h0M71.0 322.2h0M67.5 329.5h0M70.1 328.1h0M67.7 332.8h0M68.1 329.8h0M67.4 320.0h0M69.6 321.4h0M66.8 325.5h0M66.9 327.7h0M68.1 324.1h0M67.4 330.8h0M69.7 329.5h0M66.5 331.6h0M68.2 331.9h0M68.7 322.2h0M66.1 322.3h0M69.5 323.1h0M70.0 319.8h0M68.8 324.5h0M66.4 326.5h0M67.6 323.8h0M65.6 320.9h0M67.3 324.4h0M67.1 333.2h0M67.6 325.8h0M67.7 330.1h0M68.7 329.0h0M26.2 319.6h0M37.1 321.5h0M33.1 319.5h0M30.6 317.5h0M41.0 316.9h0M31.6 318.4h0M40.8 320.6h0M29.0 317.2h0M29.1 314.9h0M56.9 323.9h0M43.7 317.8h0M44.9 325.2h0M47.9 321.9h0M30.5 328.6h0M44.2 322.5h0M40.9 320.5h0M35.1 312.1h0M52.2 329.5h0M41.9 321.7h0M38.1 322.1h0M37.0 318.6h0M43.1 312.1h0M49.1 317.4h0M42.4 321.4h0M50.7 325.8h0M28.0 315.1h0M39.4 312.4h0M43.0 318.5h0M32.0 322.4h0M30.8 316.0h0M38.0 322.5h0M36.5 317.6h0M39.6 317.5h0M41.8 323.4h0M39.0 320.9h0M32.5 324.4h0M41.4 317.2h0M37.2 315.8h0M34.5 320.4h0M43.3 317.0h0M29.2 321.9h0M41.4 331.5h0M52.6 319.5h0M39.9 320.5h0M39.1 314.9h0M35.4 326.6h0M33.5 317.4h0M28.4 316.5h0M47.3 320.5h0M33.8 317.5h0M44.2 316.7h0M31.5 317.7h0M31.4 322.0h0M37.7 323.1h0M33.6 328.9h0M42.1 318.1h0M40.2 310.6h0M28.8 310.7h0M35.6 327.8h0M40.4 313.1h0M42.7 318.2h0M49.2 320.0h0M53.7 322.4h0M54.0 308.3h0M43.7 322.1h0M49.5 321.4h0M40.9 320.3h0M39.3 321.3h0M50.4 312.5h0M34.2 313.1h0M33.1 320.1h0M39.2 320.5h0M43.5 320.7h0M35.1 318.5h0M29.3 317.2h0M36.9 320.5h0M37.1 312.7h0M36.4 321.3h0M38.4 317.3h0M30.7 319.9h0M38.9 320.2h0M34.6 323.9h0M39.0 322.4h0M35.3 320.8h0M36.2 323.6h0M32.9 321.1h0M40.2 312.6h0M46.8 316.6h0M28.6 316.3h0M44.3 317.4h0M69.9 325.2h0M65.6 338.3h0M41.1 329.3h0M49.4 309.1h0M45.9 346.3h0M43.6 307.5h0M61.4 323.6h0M57.5 307.3h0M53.1 322.5h0M55.5 323.7h0M54.6 348.0h0M32.2 303.8h0M44.2 306.9h0M28.0 336.6h0M69.0 301.6h0M35.8 311.3h0M45.7 348.1h0M30.3 319.6h0M53.3 310.8h0M43.5 334.5h0M61.2 338.9h0M62.0 317.1h0M33.3 302.1h0M60.3 338.9h0M62.2 329.8h0M47.2 303.5h0M49.2 306.6h0M41.4 337.4h0M56.2 343.5h0M70.3 335.4h0M74.1 308.5h0M64.2 331.2h0M54.4 307.0h0M51.8 344.0h0M62.8 345.2h0M66.1 304.4h0M46.8 341.2h0M63.1 324.4h0M49.5 319.8h0M45.1 318.0h0M48.4 312.6h0M56.7 313.3h0M50.6 309.6h0M49.0 312.2h0M44.4 318.9h0M53.2 314.9h0M52.9 315.2h0M53.2 314.5h0M59.3 312.7h0M48.4 313.0h0M55.2 311.2h0M53.4 313.7h0M44.4 313.3h0M62.3 310.3h0M60.4 310.8h0M53.0 311.1h0M54.3 310.1h0M51.6 311.4h0M50.0 311.8h0M59.4 309.9h0M55.4 310.1h0M48.9 311.9h0M53.1 314.4h0M57.8 312.2h0M51.3 315.3h0M56.5 334.9h0M64.4 339.5h0M63.9 337.1h0M64.4 342.5h0M54.1 340.0h0M65.3 333.8h0M57.9 339.3h0M63.9 337.8h0M55.2 338.7h0M61.1 336.4h0M65.5 329.5h0M61.9 335.5h0M63.8 336.7h0M68.2 338.6h0M59.5 331.5h0M60.5 337.7h0M67.6 339.4h0M62.2 334.3h0M62.3 334.1h0M56.1 339.6h0" stroke="#000" stroke-width="0.62" stroke-linecap="round" fill="none" opacity="1"/>
</g>
<g filter="url(#s)">
<g filter="url(#b)">
<path d="M81.6 310 L98.6 310.2 L103.1 311.8 L98.6 313.8 L81.6 314 Z" fill="#000"/>
<path d="M121.19999999999999 340.2 L121.0 334 L122.80000000000001 329 L125.4 329 L127.4 334 L127.6 340.2 Z" fill="#000"/>
</g>
<path d="M87.3 309.9h0M99.5 313.9h0M94.2 309.4h0M84.3 310.4h0M92.6 317.3h0M97.7 311.8h0M84.2 309.8h0M85.1 312.2h0M88.8 312.7h0M94.8 310.2h0M97.1 312.0h0M103.1 311.7h0M88.0 311.8h0M100.2 312.8h0M99.8 313.6h0M93.3 315.6h0M90.1 311.6h0M99.4 310.1h0M93.2 313.5h0M83.9 309.0h0M110.0 310.6h0M102.9 313.1h0M96.0 310.8h0M95.9 310.8h0M95.2 310.8h0M94.0 312.5h0M86.6 313.4h0M95.5 311.7h0M90.6 311.2h0M95.0 312.3h0M101.5 310.5h0M88.9 311.5h0M103.9 312.5h0M100.5 312.9h0M93.0 312.6h0M99.4 312.7h0M96.0 311.8h0M85.2 312.5h0M87.9 312.8h0M101.2 314.3h0M94.0 310.3h0M88.0 310.1h0M94.2 312.0h0M92.3 309.0h0M102.0 312.7h0M91.5 311.4h0M87.9 310.6h0M98.9 308.8h0M92.4 313.2h0M97.4 309.6h0M102.2 311.7h0M89.1 312.5h0M99.6 312.1h0M88.5 312.3h0M94.2 315.2h0M91.4 310.5h0M106.2 314.3h0M102.8 310.5h0M86.6 309.8h0M90.3 314.0h0M98.6 312.0h0M93.1 312.7h0M90.2 310.3h0M85.9 314.5h0M84.0 310.2h0M95.8 311.4h0M88.7 312.2h0M90.3 309.3h0M98.8 312.3h0M104.9 313.3h0M86.9 311.3h0M85.8 308.5h0M97.2 310.9h0M99.2 312.2h0M90.5 314.5h0M84.0 314.7h0M88.5 315.3h0M100.6 311.1h0M105.4 312.6h0M94.3 311.3h0M91.1 311.3h0M88.9 313.2h0M98.0 313.9h0M101.0 311.8h0M97.5 311.6h0M96.1 312.9h0M94.6 310.7h0M82.3 314.6h0M85.4 311.0h0M94.7 311.4h0M95.0 314.1h0M96.3 309.8h0M97.4 314.3h0M91.9 312.7h0M89.3 313.5h0M87.6 312.0h0M86.4 310.8h0M100.7 311.9h0M98.7 309.5h0M82.3 310.5h0M106.6 313.8h0M109.2 311.3h0M96.5 312.5h0M89.6 312.9h0M91.5 312.7h0M83.8 314.6h0M98.6 310.4h0M95.6 311.1h0M82.8 310.5h0M115.2 312.1h0M91.0 313.9h0M93.9 310.2h0M108.6 315.4h0M97.9 310.6h0M91.2 312.2h0M83.0 316.1h0M91.8 311.1h0M89.6 311.5h0M100.9 312.3h0M95.2 311.9h0M97.1 310.3h0M82.8 311.1h0M88.5 311.0h0M92.6 313.8h0M84.6 309.5h0M90.9 313.0h0M103.0 313.4h0M92.8 312.0h0M97.9 311.8h0M89.3 312.6h0M95.1 312.8h0M95.0 309.6h0M87.3 309.4h0M97.9 316.0h0M85.4 311.8h0M93.6 310.9h0M105.0 312.3h0M108.6 315.5h0M95.5 310.8h0M102.1 311.6h0M85.3 311.6h0M100.6 310.7h0M89.9 313.3h0M89.4 313.4h0M101.3 311.2h0M82.4 310.1h0M101.7 312.8h0M92.3 311.4h0M100.0 311.2h0M113.1 312.5h0M93.7 311.9h0M90.2 313.8h0M87.8 314.4h0M85.7 313.4h0M84.0 311.6h0M97.6 310.8h0M95.8 312.0h0M101.9 313.4h0M93.6 311.7h0M84.6 314.2h0M89.8 310.0h0M85.3 309.0h0M84.7 311.3h0M93.5 313.4h0M98.1 309.1h0M87.8 312.9h0M94.3 311.9h0M85.3 313.1h0M90.9 311.6h0M90.7 311.6h0M93.9 313.7h0M92.1 311.0h0M90.6 311.7h0M95.4 313.1h0M104.5 313.3h0M110.0 312.7h0M87.1 314.1h0M96.4 310.7h0M84.0 314.2h0M97.5 308.7h0M85.6 312.8h0M84.6 309.3h0M87.4 311.1h0M93.7 309.3h0M93.5 311.4h0M87.9 312.6h0M103.7 312.6h0M98.8 312.3h0M86.9 312.2h0M98.0 312.6h0M86.1 310.1h0M85.6 311.5h0M85.0 312.1h0M87.7 312.1h0M91.2 311.9h0M94.5 311.1h0M97.9 312.3h0M91.0 312.0h0M99.8 311.9h0M103.7 312.1h0M93.3 312.0h0M93.7 312.7h0M86.4 313.2h0M111.7 312.8h0M92.3 310.7h0M85.3 310.7h0M93.5 310.9h0M104.1 311.3h0M84.3 310.5h0M90.6 311.7h0M98.7 310.8h0M94.0 313.4h0M89.1 309.2h0M93.3 313.5h0M94.5 312.0h0M89.9 310.1h0M88.7 312.2h0M91.7 310.5h0M110.4 313.9h0M99.3 312.9h0M88.2 310.1h0M92.0 314.5h0M95.0 311.1h0M98.3 310.9h0M89.2 312.8h0M92.6 312.4h0M93.1 313.6h0M84.6 308.8h0M84.0 308.2h0M106.8 310.9h0M92.1 337.5h0M87.4 334.6h0M94.0 336.4h0M97.6 335.5h0M88.1 331.3h0M94.4 334.9h0M100.2 326.9h0M96.5 332.2h0M90.2 335.6h0M87.5 335.4h0M94.2 344.8h0M92.4 338.9h0M97.7 333.0h0M95.5 334.9h0M98.1 334.3h0M99.3 333.2h0M89.3 339.3h0M98.9 339.4h0M105.2 340.0h0M92.3 339.7h0M87.0 339.2h0M94.9 335.8h0M87.7 340.1h0M83.3 335.2h0M89.5 333.5h0M88.4 337.4h0M105.1 342.5h0M91.1 334.9h0M96.3 333.4h0M82.8 339.8h0M89.7 341.7h0M94.5 331.3h0M94.3 338.1h0M92.8 331.6h0M82.6 342.9h0M97.6 342.7h0M96.5 336.3h0M94.8 340.4h0M88.9 340.8h0M94.0 337.1h0M95.2 337.5h0M86.4 341.8h0M89.2 335.4h0M96.0 336.0h0M91.7 335.1h0M96.4 334.1h0M82.8 330.7h0M87.2 337.5h0M101.7 338.4h0M88.0 331.7h0M97.7 338.1h0M92.0 338.6h0M96.2 338.2h0M100.9 330.9h0M88.2 334.5h0M86.0 343.3h0M94.7 337.9h0M97.5 335.5h0M97.8 335.7h0M97.2 338.4h0M100.8 331.0h0M86.4 333.7h0M87.0 337.7h0M98.6 335.1h0M99.3 339.5h0M88.6 338.7h0M101.6 334.7h0M94.2 338.6h0M95.7 336.2h0M92.3 333.5h0M105.0 341.9h0M91.5 333.4h0M95.2 342.0h0M92.7 333.5h0M98.5 337.3h0M87.3 335.6h0M93.5 332.5h0M94.3 340.9h0M99.2 340.8h0M97.3 336.1h0M96.4 340.7h0M92.7 338.3h0M88.4 336.5h0M89.3 332.6h0M95.0 344.2h0M93.7 333.8h0M93.5 339.4h0M82.0 336.1h0M96.3 338.5h0M104.2 337.2h0M100.5 334.4h0M86.7 334.5h0M89.7 339.6h0M97.3 336.5h0M86.7 337.0h0M89.8 335.1h0M96.2 347.0h0M109.7 336.6h0M106.8 335.0h0M110.4 336.3h0M97.7 342.5h0M98.8 342.7h0M93.7 331.1h0M93.5 333.3h0M97.9 328.9h0M86.2 332.3h0M93.2 340.1h0M90.6 331.8h0M89.3 335.9h0M100.0 336.9h0M101.4 326.4h0M104.0 344.3h0M89.2 346.1h0M82.6 339.8h0M84.2 334.3h0M95.8 337.3h0M94.4 335.8h0M87.1 332.9h0M89.5 330.4h0M91.8 338.2h0M89.3 341.2h0M93.9 339.8h0M86.8 337.2h0M83.4 329.7h0M94.1 344.1h0M94.6 335.1h0M99.3 336.9h0M92.6 337.0h0M98.9 342.2h0M83.4 336.8h0M89.5 336.5h0M107.9 335.7h0M89.5 333.2h0M106.9 343.7h0M99.2 337.4h0M87.9 341.7h0M91.0 337.3h0M91.4 337.0h0M84.2 328.7h0M85.0 334.7h0M91.3 336.2h0M89.7 340.2h0M91.0 333.4h0M101.5 336.0h0M99.7 338.4h0M90.8 340.0h0M83.1 332.1h0M90.0 327.9h0M89.8 335.7h0M84.0 345.0h0M100.7 338.6h0M93.9 341.2h0M93.2 340.9h0M98.3 344.1h0M99.4 334.4h0M96.5 340.5h0M96.9 344.3h0M94.4 335.0h0M98.3 340.6h0M92.5 338.3h0M93.4 337.4h0M94.9 335.0h0M97.3 337.8h0M103.8 337.5h0M93.3 332.1h0M107.2 335.6h0M89.3 335.5h0M92.6 336.1h0M103.6 334.7h0M91.1 334.8h0M96.5 330.6h0M99.0 335.1h0M83.3 341.7h0M84.0 339.0h0M92.7 334.1h0M97.5 336.2h0M88.8 339.9h0M92.8 336.7h0M86.9 331.5h0M89.5 337.5h0M123.4 336.2h0M123.7 334.0h0M124.1 336.3h0M119.7 334.9h0M123.8 333.1h0M126.1 339.5h0M126.5 337.8h0M125.1 335.4h0M125.7 332.3h0M123.9 336.2h0M123.9 330.0h0M124.0 333.2h0M122.9 337.4h0M126.3 335.2h0M121.9 334.2h0M123.8 330.7h0M123.0 335.4h0M123.0 336.6h0M121.6 337.5h0M122.8 335.4h0M124.2 332.8h0M126.3 327.8h0M124.6 337.4h0M123.7 334.6h0M121.9 334.7h0M124.5 332.5h0M124.2 333.4h0M122.1 334.5h0M122.6 338.3h0M122.6 340.4h0M124.1 334.7h0M122.7 336.5h0M122.1 328.7h0M125.0 326.6h0M126.4 332.7h0M127.3 335.8h0M127.5 329.1h0M123.3 335.9h0M123.0 335.1h0M123.8 337.4h0M127.0 326.3h0M125.4 330.3h0M127.4 329.0h0M122.5 336.8h0M123.8 337.5h0M124.9 331.8h0M120.9 339.4h0M123.7 334.4h0M123.5 333.8h0M122.7 335.0h0M124.7 329.9h0M121.0 337.0h0M125.9 332.7h0M123.8 332.8h0M125.0 334.5h0M123.0 331.8h0M125.1 336.2h0M123.3 336.4h0M117.9 333.1h0M124.5 326.8h0M123.0 335.7h0M126.7 336.3h0M121.7 338.3h0M123.6 338.0h0M121.3 328.4h0M120.9 337.1h0M126.6 335.8h0M124.5 334.4h0M124.6 330.8h0M126.6 337.9h0M126.1 334.5h0M125.9 338.6h0M129.2 339.0h0M122.7 331.7h0M125.9 336.7h0M125.3 335.0h0M122.5 335.4h0M121.2 335.9h0M128.8 337.6h0M122.4 331.4h0M129.0 337.3h0M123.1 337.1h0M123.5 330.6h0M124.5 336.8h0M126.8 329.9h0M127.2 333.8h0M120.1 338.7h0M126.2 336.9h0M125.9 331.3h0M125.2 328.4h0M122.8 344.7h0M127.5 336.3h0M125.2 335.1h0M125.5 335.6h0M122.3 333.4h0M120.3 331.4h0M123.8 336.3h0M128.7 328.4h0M128.5 333.1h0M123.3 334.5h0M128.6 330.6h0M123.4 336.9h0M126.1 336.3h0M124.4 338.7h0M122.2 341.0h0M123.2 336.3h0M122.3 332.4h0M126.2 337.0h0M123.8 338.0h0M130.8 325.2h0M120.0 335.5h0M120.7 338.8h0M122.5 334.8h0M122.5 342.9h0M127.3 328.2h0M125.5 333.6h0M127.2 336.1h0M122.7 333.1h0M124.3 341.5h0M124.4 332.8h0M123.4 338.1h0M123.6 341.7h0M126.0 335.4h0M124.4 333.5h0M119.3 339.4h0M127.3 334.0h0M124.8 329.5h0M123.8 335.5h0M124.0 335.0h0M126.2 337.6h0M125.8 332.6h0M123.1 334.8h0M120.9 329.2h0M124.9 334.9h0M124.4 339.5h0M119.8 336.4h0M123.7 329.7h0M125.6 340.3h0M121.2 335.0h0M126.2 335.0h0M123.3 338.6h0M120.7 334.7h0M122.9 334.5h0M121.6 335.5h0M126.7 336.6h0M121.5 332.8h0M122.6 329.0h0M125.7 336.8h0M123.8 340.6h0M125.7 332.6h0M124.3 334.3h0M124.2 340.0h0M126.8 331.1h0M128.2 328.6h0M123.6 344.4h0M125.6 339.4h0M124.5 336.8h0M122.9 340.6h0M123.8 332.8h0M121.1 343.4h0M121.1 330.9h0M125.2 335.0h0M127.7 337.3h0M124.9 331.8h0M125.3 329.3h0M122.6 340.3h0M124.8 330.4h0M122.9 334.4h0M124.8 335.7h0M125.9 323.3h0M125.7 327.6h0M123.3 335.4h0M126.4 332.5h0M121.5 331.7h0M124.7 344.3h0M121.7 332.9h0M122.7 339.3h0M125.4 334.3h0M124.8 341.1h0M123.6 330.5h0M124.3 330.1h0M124.7 338.3h0M123.5 338.5h0M126.7 342.1h0M123.5 337.2h0M125.9 338.1h0M126.2 336.8h0M125.6 338.5h0M125.2 337.2h0M124.8 334.7h0M121.4 324.7h0M123.7 322.8h0M123.1 329.8h0M123.3 316.1h0M123.0 324.5h0M125.1 326.1h0M124.2 322.8h0M122.9 318.7h0M124.4 325.0h0M122.7 325.2h0M125.0 328.6h0M124.6 329.5h0M123.9 325.0h0M123.6 326.8h0M121.5 326.1h0M123.7 321.5h0M122.9 329.5h0M123.1 324.6h0M125.4 321.2h0M123.6 323.3h0M123.0 324.3h0M124.3 323.9h0M124.8 327.8h0M122.3 325.2h0M123.4 319.9h0M121.4 328.9h0M124.0 329.7h0M125.5 328.0h0M124.1 329.9h0M123.5 323.4h0M124.8 327.5h0M123.0 323.4h0M122.1 333.1h0M123.2 323.0h0M122.9 322.9h0M123.8 325.1h0M124.6 315.3h0M123.8 331.5h0M123.7 322.7h0M126.0 323.0h0M99.3 319.9h0M92.5 315.1h0M95.0 319.7h0M108.4 313.1h0M91.0 323.4h0M105.7 315.5h0M86.5 318.3h0M106.7 318.2h0M100.0 318.3h0M85.0 320.0h0M96.9 316.0h0M109.4 318.9h0M97.2 313.2h0M89.5 319.8h0M99.7 321.2h0M82.3 313.2h0M84.6 323.3h0M94.6 318.7h0M93.1 315.7h0M96.4 318.5h0M92.1 319.8h0M91.7 318.2h0M102.7 321.7h0M94.2 319.4h0M104.6 313.7h0M95.4 319.7h0M90.8 315.9h0M86.9 318.8h0M101.1 317.8h0M84.4 320.5h0M103.4 320.1h0M89.9 317.4h0M91.0 314.8h0M101.0 317.7h0M109.1 323.6h0M89.6 328.9h0M89.7 315.9h0M96.7 317.5h0M92.6 320.7h0M87.2 318.7h0M91.4 324.8h0M98.9 318.5h0M85.3 318.3h0M87.1 317.5h0M96.4 322.0h0M101.7 316.6h0M95.0 318.8h0M100.3 327.4h0M101.7 322.4h0M95.5 320.9h0M92.3 318.7h0M99.4 331.1h0M95.7 314.3h0M90.5 322.1h0M99.2 319.6h0M98.0 315.9h0M105.6 311.0h0M90.8 316.0h0M89.9 319.8h0M94.5 322.7h0M108.8 320.9h0M86.1 319.0h0M87.4 315.9h0M90.3 322.6h0M87.2 320.2h0M87.5 322.3h0M102.8 313.4h0M99.5 315.6h0M96.3 318.6h0M100.4 314.1h0M108.8 320.3h0M88.4 323.8h0M104.5 321.0h0M89.6 315.9h0M86.5 325.2h0M94.1 318.9h0M90.7 323.7h0M90.7 322.3h0M96.3 315.3h0M108.9 311.1h0M96.7 321.0h0M97.2 318.7h0M92.7 332.6h0M95.8 316.6h0M93.4 325.9h0M93.4 323.2h0M104.5 316.8h0M109.0 313.2h0M89.6 318.7h0M91.5 321.3h0M96.5 308.5h0M116.5 338.0h0M83.1 339.8h0M123.2 325.3h0M132.4 306.0h0M83.9 306.8h0M89.4 337.5h0M114.3 307.1h0M124.4 335.0h0M111.5 314.0h0M101.8 347.5h0M113.1 304.0h0M104.3 327.9h0M117.4 326.5h0M93.0 333.4h0M107.8 332.8h0M132.6 344.1h0M98.3 337.3h0M92.8 317.6h0M84.9 338.4h0M93.4 340.5h0M112.8 340.1h0M117.6 309.9h0M119.7 339.6h0M104.4 338.4h0M98.5 305.8h0M108.1 304.7h0M100.7 345.0h0M126.0 336.7h0M102.3 308.3h0M108.6 305.4h0M121.4 339.1h0M86.5 316.3h0M109.2 319.5h0M117.7 303.0h0M120.7 332.6h0M93.6 305.0h0M88.8 308.6h0M105.8 308.6h0M82.6 318.9h0M111.7 312.1h0M113.3 308.9h0M110.3 314.1h0M106.1 313.4h0M108.3 311.0h0M105.0 309.8h0M116.5 308.5h0M111.3 308.7h0M120.7 313.7h0M106.6 309.2h0M109.2 312.8h0M118.9 315.5h0M105.7 312.6h0M115.2 310.3h0M108.2 314.2h0M103.7 312.1h0M110.2 311.3h0M110.7 308.1h0M114.7 310.9h0M120.4 316.8h0M108.3 316.7h0M117.7 310.0h0M109.3 314.9h0M107.0 311.2h0M98.1 308.6h0M112.9 335.2h0M114.7 339.0h0M118.6 336.6h0M112.1 338.9h0M120.1 337.8h0M123.1 336.2h0M121.0 339.0h0M122.9 344.3h0M113.0 331.0h0M121.7 339.2h0M119.0 336.3h0M114.6 342.7h0M119.5 335.9h0M117.8 339.1h0M112.4 335.6h0M119.6 338.6h0M112.1 339.2h0M125.5 340.4h0M112.3 336.2h0M115.1 335.0h0" stroke="#000" stroke-width="0.62" stroke-linecap="round" fill="none" opacity="1"/>
</g>
<line x1="51.4" y1="198.6" x2="51.4" y2="247.8" stroke="#666" stroke-width="0.7"/>
<line x1="25.3" y1="224.4" x2="78.4" y2="224.4" stroke="#666" stroke-width="0.7"/>
<line x1="51.4" y1="248.8" x2="51.4" y2="298.6" stroke="#666" stroke-width="0.7"/>
<line x1="25.3" y1="275.4" x2="78.4" y2="275.4" stroke="#666" stroke-width="0.7"/>
<line x1="51.4" y1="300.3" x2="51.4" y2="349.5" stroke="#666" stroke-width="0.7"/>
<line x1="25.3" y1="325.7" x2="78.4" y2="325.7" stroke="#666" stroke-width="0.7"/>
<line x1="106.7" y1="198.6" x2="106.7" y2="247.8" stroke="#666" stroke-width="0.7"/>
<line x1="81" y1="224.4" x2="134.3" y2="224.4" stroke="#666" stroke-width="0.7"/>
<line x1="106.7" y1="248.8" x2="106.7" y2="298.6" stroke="#666" stroke-width="0.7"/>
<line x1="81" y1="275.4" x2="134.3" y2="275.4" stroke="#666" stroke-width="0.7"/>
<line x1="106.7" y1="300.3" x2="106.7" y2="349.5" stroke="#666" stroke-width="0.7"/>
<line x1="81" y1="325.7" x2="134.3" y2="325.7" stroke="#666" stroke-width="0.7"/>
<rect x="26.4" y="199.8" width="11.7" height="7" fill="#fff" opacity=".8"/>
<text x="26.7" y="206.1" font-size="8" font-family="Liberation Sans, sans-serif" fill="#111" stroke="#111" stroke-width="0.12">5.6</text>
<rect x="61.3" y="199.8" width="16.2" height="7" fill="#fff" opacity=".8"/>
<text x="77.2" y="206.1" font-size="8" font-family="Liberation Sans, sans-serif" fill="#111" stroke="#111" stroke-width="0.12" text-anchor="end">90.8</text>
<rect x="26.4" y="241.0" width="11.7" height="7" fill="#fff" opacity=".8"/>
<text x="26.7" y="247.3" font-size="8" font-family="Liberation Sans, sans-serif" fill="#111" stroke="#111" stroke-width="0.12">2.2</text>
<rect x="65.8" y="241.0" width="11.7" height="7" fill="#fff" opacity=".8"/>
<text x="77.2" y="247.3" font-size="8" font-family="Liberation Sans, sans-serif" fill="#111" stroke="#111" stroke-width="0.12" text-anchor="end">1.4</text>
<rect x="82.1" y="199.8" width="11.7" height="7" fill="#fff" opacity=".8"/>
<text x="82.4" y="206.1" font-size="8" font-family="Liberation Sans, sans-serif" fill="#111" stroke="#111" stroke-width="0.12">6.6</text>
<rect x="117.2" y="199.8" width="16.2" height="7" fill="#fff" opacity=".8"/>
<text x="133.1" y="206.1" font-size="8" font-family="Liberation Sans, sans-serif" fill="#111" stroke="#111" stroke-width="0.12" text-anchor="end">89.2</text>
<rect x="82.1" y="241.0" width="11.7" height="7" fill="#fff" opacity=".8"/>
<text x="82.4" y="247.3" font-size="8" font-family="Liberation Sans, sans-serif" fill="#111" stroke="#111" stroke-width="0.12">2.5</text>
<rect x="121.7" y="241.0" width="11.7" height="7" fill="#fff" opacity=".8"/>
<text x="133.1" y="247.3" font-size="8" font-family="Liberation Sans, sans-serif" fill="#111" stroke="#111" stroke-width="0.12" text-anchor="end">1.7</text>
<rect x="26.4" y="250.0" width="16.2" height="7" fill="#fff" opacity=".8"/>
<text x="26.7" y="256.3" font-size="8" font-family="Liberation Sans, sans-serif" fill="#111" stroke="#111" stroke-width="0.12">19.4</text>
<rect x="65.8" y="250.0" width="11.7" height="7" fill="#fff" opacity=".8"/>
<text x="77.2" y="256.3" font-size="8" font-family="Liberation Sans, sans-serif" fill="#111" stroke="#111" stroke-width="0.12" text-anchor="end">0.5</text>
<rect x="26.4" y="291.1" width="16.2" height="7" fill="#fff" opacity=".8"/>
<text x="26.7" y="297.4" font-size="8" font-family="Liberation Sans, sans-serif" fill="#111" stroke="#111" stroke-width="0.12">66.9</text>
<rect x="61.3" y="291.1" width="16.2" height="7" fill="#fff" opacity=".8"/>
<text x="77.2" y="297.4" font-size="8" font-family="Liberation Sans, sans-serif" fill="#111" stroke="#111" stroke-width="0.12" text-anchor="end">13.3</text>
<rect x="82.1" y="250.0" width="16.2" height="7" fill="#fff" opacity=".8"/>
<text x="82.4" y="256.3" font-size="8" font-family="Liberation Sans, sans-serif" fill="#111" stroke="#111" stroke-width="0.12">18.3</text>
<rect x="121.7" y="250.0" width="11.7" height="7" fill="#fff" opacity=".8"/>
<text x="133.1" y="256.3" font-size="8" font-family="Liberation Sans, sans-serif" fill="#111" stroke="#111" stroke-width="0.12" text-anchor="end">0.5</text>
<rect x="82.1" y="291.1" width="16.2" height="7" fill="#fff" opacity=".8"/>
<text x="82.4" y="297.4" font-size="8" font-family="Liberation Sans, sans-serif" fill="#111" stroke="#111" stroke-width="0.12">69.2</text>
<rect x="117.2" y="291.1" width="16.2" height="7" fill="#fff" opacity=".8"/>
<text x="133.1" y="297.4" font-size="8" font-family="Liberation Sans, sans-serif" fill="#111" stroke="#111" stroke-width="0.12" text-anchor="end">11.9</text>
<rect x="26.4" y="301.5" width="16.2" height="7" fill="#fff" opacity=".8"/>
<text x="26.7" y="307.8" font-size="8" font-family="Liberation Sans, sans-serif" fill="#111" stroke="#111" stroke-width="0.12">54.3</text>
<rect x="65.8" y="301.5" width="11.7" height="7" fill="#fff" opacity=".8"/>
<text x="77.2" y="307.8" font-size="8" font-family="Liberation Sans, sans-serif" fill="#111" stroke="#111" stroke-width="0.12" text-anchor="end">0.8</text>
<rect x="26.4" y="341.4" width="16.2" height="7" fill="#fff" opacity=".8"/>
<text x="26.7" y="347.7" font-size="8" font-family="Liberation Sans, sans-serif" fill="#111" stroke="#111" stroke-width="0.12">10.4</text>
<rect x="61.3" y="341.4" width="16.2" height="7" fill="#fff" opacity=".8"/>
<text x="77.2" y="347.7" font-size="8" font-family="Liberation Sans, sans-serif" fill="#111" stroke="#111" stroke-width="0.12" text-anchor="end">34.5</text>
<rect x="82.1" y="301.5" width="16.2" height="7" fill="#fff" opacity=".8"/>
<text x="82.4" y="307.8" font-size="8" font-family="Liberation Sans, sans-serif" fill="#111" stroke="#111" stroke-width="0.12">55.5</text>
<rect x="121.7" y="301.5" width="11.7" height="7" fill="#fff" opacity=".8"/>
<text x="133.1" y="307.8" font-size="8" font-family="Liberation Sans, sans-serif" fill="#111" stroke="#111" stroke-width="0.12" text-anchor="end">1.1</text>
<rect x="82.1" y="341.4" width="16.2" height="7" fill="#fff" opacity=".8"/>
<text x="82.4" y="347.7" font-size="8" font-family="Liberation Sans, sans-serif" fill="#111" stroke="#111" stroke-width="0.12">10.4</text>
<rect x="117.2" y="341.4" width="16.2" height="7" fill="#fff" opacity=".8"/>
<text x="133.1" y="347.7" font-size="8" font-family="Liberation Sans, sans-serif" fill="#111" stroke="#111" stroke-width="0.12" text-anchor="end">33.4</text>
<rect x="25.3" y="198.6" width="53.1" height="49.2" fill="none" stroke="#444" stroke-width="1.05"/>
<rect x="25.3" y="248.8" width="53.1" height="49.8" fill="none" stroke="#444" stroke-width="1.05"/>
<rect x="25.3" y="300.3" width="53.1" height="49.2" fill="none" stroke="#444" stroke-width="1.05"/>
<rect x="81" y="198.6" width="53.3" height="49.2" fill="none" stroke="#444" stroke-width="1.05"/>
<rect x="81" y="248.8" width="53.3" height="49.8" fill="none" stroke="#444" stroke-width="1.05"/>
<rect x="81" y="300.3" width="53.3" height="49.2" fill="none" stroke="#444" stroke-width="1.05"/>
<text x="137.2" y="206.5" font-size="9.5" font-family="Liberation Sans, sans-serif" fill="#111" stroke="#111" stroke-width="0.22" transform="rotate(90 137.2 206.5)" textLength="33.6" lengthAdjust="spacingAndGlyphs">Thymus</text>
<text x="137.1" y="268.2" font-size="9.3" font-family="Liberation Sans, sans-serif" fill="#111" stroke="#111" stroke-width="0.22" transform="rotate(90 137.1 268.2)" textLength="11" lengthAdjust="spacingAndGlyphs">LN</text>
<text x="137.1" y="310.9" font-size="9.3" font-family="Liberation Sans, sans-serif" fill="#111" stroke="#111" stroke-width="0.22" transform="rotate(90 137.1 310.9)" textLength="28.6" lengthAdjust="spacingAndGlyphs">Spleen</text>
<line x1="19.8" y1="356.0" x2="19.8" y2="329" stroke="#111" stroke-width="0.9"/>
<line x1="19.400000000000002" y1="355.6" x2="50" y2="355.6" stroke="#111" stroke-width="0.9"/>
<path d="M19.8 326l-1.7 4.6h3.4z M53 355.6l-4.6 -1.7v3.4z" fill="#111"/>
<text x="14.3" y="355" font-size="8.6" font-family="Liberation Sans, sans-serif" fill="#111" stroke="#111" stroke-width="0.22" transform="rotate(-90 14.3 355)" textLength="16.6" lengthAdjust="spacingAndGlyphs">CD4</text>
<text x="20.8" y="366.6" font-size="8.7" font-family="Liberation Sans, sans-serif" fill="#111" stroke="#111" stroke-width="0.22" textLength="17.1" lengthAdjust="spacingAndGlyphs">CD8</text>
</g>
</svg>
</body></html>
